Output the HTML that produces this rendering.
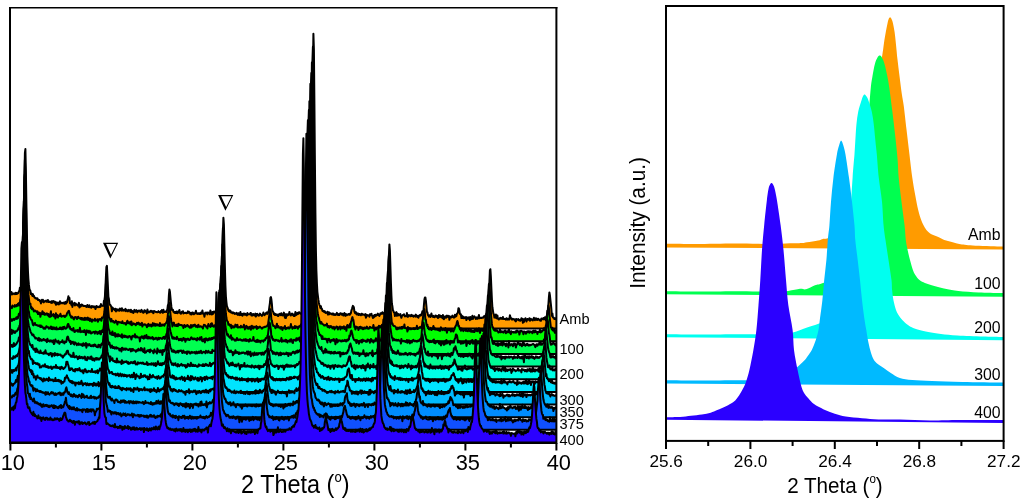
<!DOCTYPE html>
<html><head><meta charset="utf-8"><style>
html,body{margin:0;padding:0;background:#fff;}
body{width:1024px;height:502px;overflow:hidden;}
svg{display:block;will-change:transform;font-family:"Liberation Sans",sans-serif;}
text{fill:#000;}
</style></head><body>
<svg width="1024" height="502" viewBox="0 0 1024 502">
<defs><clipPath id="cl"><rect x="10" y="8" width="546" height="435"/></clipPath><clipPath id="cr"><rect x="666" y="6" width="337" height="434"/></clipPath></defs>
<rect width="1024" height="502" fill="#fff"/>
<g clip-path="url(#cl)" stroke="#000" stroke-width="2.0" stroke-linejoin="round">
<path d="M8.4,328.6 L8.4,293.5 8.9,293.9 9.4,294.3 9.9,294.7 10.4,294.3 10.9,294.7 11.4,291.9 11.9,292.9 12.4,294.2 12.9,294.2 13.4,293.4 13.9,293.4 14.4,293.5 14.9,294.2 15.4,292.9 15.9,292.8 16.4,294.0 16.9,293.1 17.4,293.8 17.9,293.0 18.4,293.0 18.9,291.3 19.4,291.2 19.9,287.7 20.4,288.0 20.9,286.5 21.4,285.3 21.9,277.5 22.4,271.2 22.9,259.8 23.4,238.8 23.9,210.1 24.4,178.3 24.9,152.9 25.4,149.1 25.9,172.8 26.4,204.5 26.9,233.3 27.4,256.4 27.9,270.6 28.4,279.4 28.9,284.7 29.4,288.9 29.9,290.1 30.4,290.8 30.9,294.1 31.4,293.4 31.9,294.7 32.4,295.9 32.9,294.1 33.4,296.1 33.9,295.8 34.4,297.4 34.9,297.4 35.4,298.3 35.9,298.0 36.4,298.8 36.9,298.5 37.4,298.2 37.9,299.9 38.4,299.6 38.9,300.2 39.4,300.0 39.9,301.2 40.4,300.8 40.9,303.4 41.4,301.3 41.9,299.9 42.4,301.7 42.9,299.8 43.4,300.5 43.9,302.4 44.4,301.4 44.9,301.3 45.4,301.0 45.9,300.8 46.4,301.6 46.9,300.6 47.4,301.7 47.9,299.9 48.4,301.9 48.9,301.9 49.4,301.5 49.9,301.9 50.4,302.0 50.9,302.7 51.4,301.3 51.9,303.0 52.4,301.3 52.9,301.7 53.4,301.0 53.9,301.8 54.4,302.6 54.9,301.6 55.4,302.4 55.9,304.8 56.4,303.4 56.9,302.3 57.4,303.1 57.9,304.1 58.4,302.9 58.9,304.4 59.4,302.7 59.9,301.3 60.4,303.5 60.9,303.4 61.4,302.8 61.9,302.7 62.4,303.2 62.9,303.2 63.4,302.6 63.9,302.8 64.4,303.8 64.9,303.2 65.4,301.9 65.9,303.7 66.4,302.5 66.9,302.6 67.4,300.3 67.9,298.9 68.4,296.3 68.9,298.9 69.4,297.9 69.9,303.2 70.4,303.2 70.9,302.9 71.4,305.0 71.9,301.3 72.4,306.9 72.9,303.5 73.4,304.7 73.9,303.7 74.4,302.9 74.9,305.5 75.4,303.6 75.9,303.6 76.4,304.7 76.9,304.9 77.4,304.9 77.9,305.6 78.4,304.2 78.9,302.9 79.4,307.4 79.9,307.1 80.4,304.9 80.9,306.2 81.4,304.5 81.9,305.5 82.4,304.8 82.9,305.5 83.4,306.1 83.9,305.9 84.4,306.1 84.9,305.8 85.4,306.1 85.9,306.1 86.4,306.9 86.9,306.6 87.4,304.9 87.9,306.6 88.4,306.9 88.9,306.0 89.4,305.3 89.9,307.3 90.4,306.5 90.9,306.8 91.4,307.7 91.9,306.0 92.4,306.6 92.9,306.5 93.4,307.1 93.9,306.3 94.4,307.1 94.9,306.8 95.4,309.1 95.9,307.6 96.4,305.9 96.9,307.2 97.4,306.6 97.9,306.9 98.4,307.1 98.9,307.2 99.4,306.4 99.9,307.0 100.4,306.8 100.9,304.1 101.4,305.6 101.9,305.8 102.4,305.7 102.9,305.9 103.4,305.8 103.9,300.8 104.4,300.5 104.9,296.6 105.4,288.2 105.9,277.1 106.4,266.9 106.9,265.8 107.4,276.0 107.9,286.0 108.4,296.6 108.9,299.0 109.4,303.6 109.9,304.8 110.4,305.0 110.9,305.9 111.4,307.1 111.9,311.3 112.4,307.4 112.9,308.9 113.4,308.4 113.9,309.2 114.4,309.8 114.9,310.3 115.4,308.7 115.9,311.4 116.4,309.3 116.9,309.2 117.4,309.9 117.9,310.5 118.4,309.6 118.9,310.2 119.4,310.8 119.9,308.5 120.4,309.8 120.9,309.5 121.4,310.6 121.9,308.2 122.4,310.6 122.9,310.6 123.4,309.9 123.9,310.6 124.4,309.9 124.9,309.9 125.4,308.8 125.9,311.2 126.4,309.6 126.9,310.3 127.4,310.3 127.9,311.4 128.4,310.7 128.9,309.9 129.4,310.5 129.9,310.4 130.4,311.9 130.9,309.8 131.4,310.6 131.9,312.2 132.4,311.1 132.9,312.1 133.4,313.0 133.9,311.1 134.4,309.9 134.9,310.8 135.4,311.7 135.9,311.5 136.4,310.1 136.9,310.8 137.4,312.4 137.9,311.1 138.4,311.0 138.9,310.5 139.4,310.7 139.9,311.0 140.4,311.9 140.9,310.8 141.4,309.9 141.9,310.5 142.4,312.2 142.9,311.4 143.4,312.8 143.9,312.3 144.4,310.2 144.9,310.4 145.4,311.8 145.9,311.0 146.4,311.3 146.9,313.4 147.4,309.6 147.9,311.7 148.4,311.6 148.9,312.4 149.4,311.9 149.9,311.9 150.4,310.9 150.9,311.6 151.4,311.8 151.9,310.8 152.4,312.3 152.9,312.2 153.4,313.2 153.9,310.9 154.4,311.3 154.9,311.4 155.4,311.6 155.9,312.0 156.4,311.9 156.9,312.3 157.4,312.3 157.9,312.1 158.4,311.1 158.9,311.8 159.4,312.2 159.9,312.6 160.4,312.7 160.9,311.1 161.4,311.8 161.9,310.1 162.4,312.4 162.9,312.9 163.4,309.7 163.9,311.3 164.4,312.1 164.9,311.9 165.4,311.7 165.9,311.2 166.4,312.0 166.9,310.3 167.4,309.2 167.9,305.2 168.4,304.5 168.9,295.0 169.4,289.6 169.9,291.6 170.4,297.2 170.9,302.4 171.4,306.7 171.9,309.8 172.4,310.1 172.9,309.7 173.4,311.7 173.9,311.9 174.4,312.7 174.9,311.9 175.4,313.1 175.9,313.1 176.4,311.5 176.9,313.1 177.4,313.2 177.9,311.5 178.4,312.4 178.9,312.3 179.4,309.9 179.9,312.9 180.4,313.2 180.9,313.7 181.4,312.8 181.9,311.8 182.4,312.2 182.9,311.2 183.4,313.5 183.9,313.2 184.4,312.7 184.9,313.1 185.4,312.8 185.9,312.7 186.4,313.2 186.9,313.0 187.4,312.9 187.9,311.4 188.4,312.7 188.9,311.7 189.4,312.6 189.9,313.0 190.4,314.3 190.9,312.8 191.4,314.5 191.9,314.1 192.4,312.5 192.9,312.6 193.4,313.2 193.9,314.3 194.4,313.4 194.9,313.6 195.4,312.7 195.9,310.7 196.4,313.0 196.9,313.7 197.4,314.0 197.9,313.3 198.4,313.3 198.9,314.0 199.4,313.2 199.9,314.0 200.4,313.9 200.9,312.5 201.4,312.5 201.9,313.6 202.4,310.4 202.9,313.3 203.4,313.5 203.9,313.5 204.4,316.7 204.9,314.2 205.4,312.6 205.9,313.3 206.4,313.0 206.9,312.5 207.4,314.4 207.9,312.4 208.4,313.0 208.9,312.8 209.4,313.3 209.9,314.3 210.4,310.5 210.9,313.8 211.4,313.6 211.9,314.5 212.4,312.0 212.9,314.1 213.4,311.7 213.9,312.1 214.4,311.5 214.9,312.6 215.4,312.3 215.9,312.7 216.4,309.9 216.9,311.5 217.4,308.4 217.9,311.0 218.4,309.3 218.9,310.3 219.4,308.3 219.9,305.7 220.4,304.4 220.9,297.8 221.4,289.5 221.9,275.4 222.4,255.2 222.9,232.3 223.4,217.8 223.9,224.5 224.4,245.8 224.9,267.7 225.4,285.3 225.9,296.5 226.4,302.0 226.9,306.1 227.4,307.4 227.9,308.9 228.4,310.3 228.9,311.2 229.4,310.4 229.9,311.8 230.4,310.7 230.9,312.6 231.4,312.0 231.9,312.7 232.4,313.2 232.9,312.4 233.4,313.1 233.9,312.7 234.4,313.2 234.9,314.0 235.4,313.4 235.9,313.4 236.4,312.8 236.9,314.2 237.4,313.6 237.9,314.9 238.4,313.3 238.9,314.5 239.4,315.1 239.9,313.9 240.4,311.9 240.9,315.0 241.4,314.7 241.9,314.1 242.4,315.8 242.9,313.8 243.4,314.6 243.9,313.5 244.4,313.7 244.9,314.7 245.4,313.9 245.9,314.9 246.4,315.1 246.9,315.5 247.4,313.0 247.9,314.5 248.4,314.1 248.9,314.3 249.4,314.2 249.9,314.3 250.4,313.0 250.9,313.1 251.4,315.5 251.9,315.1 252.4,315.4 252.9,313.9 253.4,313.9 253.9,315.2 254.4,315.5 254.9,314.8 255.4,313.6 255.9,316.5 256.4,314.2 256.9,315.3 257.4,313.9 257.9,315.3 258.4,314.8 258.9,315.7 259.4,315.3 259.9,313.6 260.4,314.0 260.9,314.9 261.4,315.2 261.9,315.9 262.4,314.8 262.9,314.5 263.4,312.5 263.9,314.5 264.4,315.2 264.9,314.4 265.4,314.2 265.9,313.2 266.4,312.6 266.9,312.4 267.4,313.9 267.9,312.8 268.4,312.1 268.9,310.3 269.4,306.7 269.9,303.1 270.4,297.8 270.9,297.0 271.4,299.5 271.9,304.2 272.4,310.8 272.9,311.3 273.4,312.4 273.9,314.2 274.4,313.4 274.9,314.9 275.4,315.0 275.9,314.1 276.4,315.2 276.9,314.8 277.4,314.6 277.9,315.9 278.4,316.0 278.9,314.4 279.4,314.7 279.9,313.7 280.4,314.9 280.9,315.3 281.4,313.2 281.9,315.0 282.4,314.6 282.9,315.5 283.4,314.5 283.9,312.6 284.4,314.8 284.9,317.7 285.4,314.3 285.9,318.0 286.4,314.3 286.9,315.9 287.4,314.4 287.9,314.3 288.4,315.0 288.9,314.7 289.4,312.0 289.9,314.2 290.4,314.4 290.9,315.5 291.4,314.1 291.9,313.6 292.4,313.7 292.9,315.1 293.4,315.4 293.9,316.0 294.4,314.3 294.9,315.9 295.4,312.0 295.9,315.1 296.4,314.9 296.9,314.3 297.4,312.9 297.9,314.0 298.4,313.4 298.9,312.3 299.4,312.2 299.9,313.3 300.4,313.2 300.9,313.8 301.4,313.2 301.9,312.7 302.4,313.8 302.9,311.9 303.4,310.9 303.9,314.0 304.4,312.8 304.9,311.9 305.4,309.3 305.9,308.2 306.4,307.8 306.9,307.2 307.4,308.1 307.9,304.7 308.4,302.9 308.9,298.5 309.4,294.7 309.9,288.0 310.4,278.6 310.9,260.1 311.4,229.8 311.9,185.8 312.4,129.5 312.9,69.0 313.4,33.8 313.9,49.5 314.4,103.1 314.9,162.9 315.4,212.5 315.9,250.4 316.4,271.1 316.9,283.3 317.4,292.0 317.9,296.2 318.4,299.9 318.9,302.9 319.4,304.8 319.9,305.9 320.4,308.1 320.9,306.2 321.4,308.8 321.9,308.7 322.4,310.8 322.9,311.1 323.4,311.4 323.9,310.9 324.4,312.2 324.9,311.4 325.4,312.4 325.9,313.0 326.4,312.6 326.9,312.7 327.4,311.7 327.9,314.6 328.4,314.3 328.9,312.2 329.4,314.3 329.9,313.3 330.4,313.3 330.9,313.7 331.4,313.8 331.9,314.5 332.4,313.5 332.9,314.5 333.4,313.6 333.9,315.0 334.4,315.0 334.9,314.3 335.4,315.0 335.9,314.1 336.4,314.4 336.9,312.9 337.4,314.6 337.9,314.9 338.4,314.0 338.9,315.1 339.4,315.0 339.9,313.9 340.4,313.2 340.9,313.4 341.4,313.8 341.9,314.6 342.4,313.7 342.9,314.9 343.4,315.5 343.9,314.7 344.4,312.9 344.9,315.4 345.4,315.9 345.9,314.1 346.4,314.3 346.9,315.2 347.4,314.8 347.9,314.5 348.4,314.1 348.9,314.7 349.4,313.9 349.9,314.6 350.4,313.7 350.9,313.2 351.4,310.3 351.9,309.1 352.4,307.4 352.9,305.9 353.4,306.4 353.9,307.7 354.4,311.5 354.9,312.8 355.4,313.4 355.9,312.1 356.4,313.6 356.9,314.5 357.4,314.1 357.9,313.3 358.4,315.0 358.9,315.1 359.4,314.0 359.9,314.6 360.4,314.5 360.9,315.3 361.4,313.7 361.9,313.8 362.4,314.7 362.9,314.6 363.4,314.4 363.9,314.6 364.4,315.2 364.9,314.8 365.4,314.0 365.9,317.7 366.4,316.3 366.9,314.9 367.4,315.6 367.9,315.3 368.4,315.5 368.9,315.4 369.4,316.7 369.9,314.3 370.4,314.9 370.9,314.3 371.4,313.7 371.9,315.1 372.4,316.3 372.9,318.1 373.4,315.9 373.9,317.4 374.4,315.0 374.9,316.4 375.4,314.8 375.9,316.0 376.4,314.7 376.9,315.0 377.4,315.1 377.9,313.6 378.4,315.2 378.9,315.2 379.4,315.9 379.9,314.6 380.4,313.3 380.9,314.0 381.4,313.4 381.9,313.7 382.4,312.2 382.9,312.8 383.4,313.6 383.9,313.3 384.4,313.0 384.9,312.2 385.4,311.8 385.9,310.5 386.4,309.3 386.9,307.0 387.4,295.6 387.9,288.8 388.4,273.7 388.9,255.6 389.4,244.4 389.9,250.6 390.4,266.2 390.9,282.2 391.4,295.1 391.9,304.0 392.4,306.3 392.9,310.2 393.4,311.1 393.9,312.4 394.4,312.6 394.9,316.0 395.4,314.0 395.9,314.2 396.4,312.1 396.9,315.8 397.4,313.4 397.9,315.6 398.4,314.1 398.9,314.9 399.4,315.2 399.9,314.5 400.4,314.1 400.9,316.4 401.4,317.8 401.9,316.1 402.4,315.6 402.9,314.9 403.4,315.0 403.9,314.2 404.4,315.4 404.9,316.4 405.4,315.9 405.9,316.1 406.4,316.3 406.9,313.1 407.4,315.9 407.9,316.9 408.4,315.1 408.9,315.6 409.4,315.3 409.9,315.5 410.4,316.3 410.9,315.6 411.4,314.8 411.9,316.0 412.4,315.4 412.9,315.4 413.4,316.7 413.9,315.8 414.4,315.9 414.9,315.6 415.4,316.7 415.9,314.6 416.4,315.6 416.9,316.5 417.4,316.9 417.9,315.8 418.4,317.8 418.9,316.0 419.4,315.4 419.9,315.8 420.4,314.8 420.9,315.5 421.4,314.7 421.9,313.4 422.4,311.3 422.9,312.1 423.4,311.7 423.9,305.2 424.4,299.5 424.9,297.5 425.4,297.5 425.9,300.9 426.4,306.2 426.9,311.9 427.4,312.3 427.9,315.0 428.4,315.5 428.9,316.6 429.4,315.2 429.9,315.7 430.4,317.0 430.9,316.2 431.4,313.5 431.9,315.7 432.4,316.3 432.9,316.9 433.4,315.9 433.9,316.8 434.4,317.2 434.9,317.0 435.4,315.5 435.9,316.4 436.4,315.8 436.9,316.9 437.4,316.0 437.9,318.0 438.4,316.8 438.9,315.0 439.4,316.2 439.9,317.1 440.4,315.6 440.9,316.6 441.4,316.0 441.9,317.2 442.4,318.1 442.9,314.9 443.4,316.9 443.9,319.2 444.4,316.7 444.9,316.8 445.4,316.4 445.9,317.8 446.4,316.4 446.9,315.6 447.4,316.0 447.9,316.9 448.4,317.0 448.9,315.8 449.4,319.8 449.9,317.2 450.4,316.8 450.9,316.6 451.4,317.4 451.9,316.8 452.4,315.6 452.9,316.9 453.4,317.0 453.9,317.7 454.4,316.7 454.9,314.8 455.4,316.8 455.9,315.6 456.4,315.9 456.9,313.7 457.4,313.3 457.9,312.5 458.4,308.3 458.9,308.5 459.4,310.5 459.9,313.8 460.4,314.5 460.9,314.3 461.4,318.0 461.9,315.8 462.4,318.0 462.9,316.5 463.4,317.3 463.9,318.3 464.4,317.3 464.9,318.0 465.4,317.4 465.9,317.1 466.4,320.1 466.9,317.3 467.4,318.1 467.9,318.6 468.4,318.8 468.9,317.3 469.4,317.7 469.9,320.2 470.4,317.1 470.9,318.2 471.4,319.1 471.9,318.0 472.4,315.7 472.9,318.9 473.4,317.1 473.9,317.3 474.4,316.4 474.9,317.1 475.4,318.0 475.9,318.9 476.4,318.2 476.9,317.3 477.4,318.7 477.9,318.2 478.4,317.6 478.9,315.0 479.4,318.3 479.9,317.6 480.4,317.8 480.9,318.1 481.4,318.1 481.9,317.6 482.4,317.5 482.9,317.8 483.4,317.6 483.9,316.4 484.4,316.8 484.9,316.0 485.4,315.4 485.9,315.3 486.4,313.4 486.9,314.3 487.4,310.9 487.9,307.8 488.4,299.9 488.9,290.6 489.4,281.7 489.9,270.4 490.4,269.2 490.9,277.3 491.4,288.9 491.9,299.5 492.4,307.2 492.9,310.5 493.4,313.6 493.9,314.3 494.4,317.5 494.9,316.1 495.4,317.7 495.9,314.4 496.4,317.7 496.9,318.4 497.4,315.4 497.9,318.8 498.4,318.9 498.9,319.5 499.4,318.5 499.9,318.2 500.4,317.9 500.9,318.8 501.4,318.0 501.9,318.7 502.4,318.9 502.9,317.0 503.4,318.1 503.9,319.1 504.4,319.1 504.9,319.1 505.4,318.9 505.9,319.6 506.4,318.3 506.9,319.3 507.4,318.7 507.9,319.6 508.4,318.8 508.9,318.8 509.4,319.4 509.9,315.3 510.4,316.9 510.9,317.9 511.4,318.5 511.9,319.6 512.4,319.5 512.9,318.9 513.4,319.2 513.9,319.2 514.4,319.4 514.9,320.5 515.4,319.4 515.9,321.4 516.4,319.0 516.9,319.8 517.4,319.8 517.9,319.4 518.4,319.1 518.9,320.3 519.4,320.5 519.9,320.1 520.4,320.8 520.9,320.0 521.4,318.2 521.9,320.1 522.4,318.9 522.9,322.8 523.4,319.2 523.9,322.1 524.4,319.4 524.9,319.0 525.4,318.2 525.9,319.3 526.4,321.6 526.9,320.1 527.4,319.0 527.9,319.6 528.4,319.7 528.9,319.5 529.4,318.2 529.9,320.8 530.4,319.6 530.9,318.8 531.4,319.7 531.9,320.0 532.4,319.6 532.9,320.4 533.4,319.4 533.9,317.7 534.4,319.5 534.9,320.2 535.4,319.5 535.9,318.2 536.4,318.7 536.9,320.0 537.4,319.9 537.9,318.8 538.4,318.8 538.9,319.6 539.4,320.1 539.9,320.4 540.4,319.7 540.9,320.8 541.4,318.6 541.9,319.5 542.4,318.7 542.9,318.9 543.4,318.0 543.9,319.4 544.4,317.8 544.9,317.4 545.4,318.3 545.9,320.4 546.4,316.3 546.9,315.6 547.4,310.7 547.9,311.5 548.4,304.4 548.9,297.2 549.4,292.4 549.9,295.1 550.4,299.9 550.9,304.4 551.4,309.5 551.9,315.8 552.4,313.4 552.9,317.4 553.4,317.5 553.9,317.9 554.4,319.0 554.9,319.1 555.4,318.2 555.9,318.7 556.4,319.5 556.9,318.2 557.4,317.6 557.9,320.3 558.4,319.1 L558.4,328.6 Z" fill="#FF9B00"/>
<path d="M8.4,341.2 L8.4,306.1 8.9,305.9 9.4,307.9 9.9,307.5 10.4,306.4 10.9,307.8 11.4,307.4 11.9,308.1 12.4,305.5 12.9,306.0 13.4,306.3 13.9,306.4 14.4,306.8 14.9,305.1 15.4,305.8 15.9,306.5 16.4,305.0 16.9,305.9 17.4,305.8 17.9,303.8 18.4,305.4 18.9,303.1 19.4,305.5 19.9,303.0 20.4,299.5 20.9,298.5 21.4,295.9 21.9,289.0 22.4,279.1 22.9,261.2 23.4,237.3 23.9,209.0 24.4,179.4 24.9,159.9 25.4,172.3 25.9,200.8 26.4,232.7 26.9,259.2 27.4,275.4 27.9,288.0 28.4,294.2 28.9,298.4 29.4,302.8 29.9,304.4 30.4,303.6 30.9,308.0 31.4,306.9 31.9,309.3 32.4,308.1 32.9,308.6 33.4,309.8 33.9,311.6 34.4,310.5 34.9,310.6 35.4,310.8 35.9,311.5 36.4,311.3 36.9,312.3 37.4,311.3 37.9,314.1 38.4,313.5 38.9,312.6 39.4,314.2 39.9,312.9 40.4,316.8 40.9,313.5 41.4,314.3 41.9,314.1 42.4,311.2 42.9,314.0 43.4,314.3 43.9,312.6 44.4,314.2 44.9,314.9 45.4,313.7 45.9,313.8 46.4,313.6 46.9,313.3 47.4,315.2 47.9,313.9 48.4,313.9 48.9,316.6 49.4,314.7 49.9,317.0 50.4,314.5 50.9,311.3 51.4,316.3 51.9,315.5 52.4,315.0 52.9,314.8 53.4,314.1 53.9,316.6 54.4,315.3 54.9,314.8 55.4,318.6 55.9,313.2 56.4,316.9 56.9,314.7 57.4,315.3 57.9,317.6 58.4,315.9 58.9,315.5 59.4,316.1 59.9,315.9 60.4,313.8 60.9,316.1 61.4,316.7 61.9,315.9 62.4,316.3 62.9,316.3 63.4,316.2 63.9,315.6 64.4,316.0 64.9,317.0 65.4,316.1 65.9,315.5 66.4,315.7 66.9,313.7 67.4,312.6 67.9,312.5 68.4,311.1 68.9,310.8 69.4,312.6 69.9,315.0 70.4,315.3 70.9,316.9 71.4,317.7 71.9,316.5 72.4,316.8 72.9,317.5 73.4,318.7 73.9,319.4 74.4,317.8 74.9,317.2 75.4,317.0 75.9,317.7 76.4,317.2 76.9,319.0 77.4,318.4 77.9,316.9 78.4,316.8 78.9,317.9 79.4,318.2 79.9,318.4 80.4,318.9 80.9,317.8 81.4,319.5 81.9,318.1 82.4,318.2 82.9,319.8 83.4,319.5 83.9,318.4 84.4,319.9 84.9,317.8 85.4,318.8 85.9,319.8 86.4,318.1 86.9,318.3 87.4,319.6 87.9,317.6 88.4,319.9 88.9,319.1 89.4,318.5 89.9,321.0 90.4,318.7 90.9,319.5 91.4,319.5 91.9,321.7 92.4,319.4 92.9,320.4 93.4,320.3 93.9,320.0 94.4,320.6 94.9,318.7 95.4,320.7 95.9,320.3 96.4,320.1 96.9,319.8 97.4,319.3 97.9,321.8 98.4,320.1 98.9,319.2 99.4,319.7 99.9,319.1 100.4,319.1 100.9,319.8 101.4,320.7 101.9,317.5 102.4,318.0 102.9,317.8 103.4,316.7 103.9,315.4 104.4,312.0 104.9,304.9 105.4,294.8 105.9,284.0 106.4,279.4 106.9,285.0 107.4,295.1 107.9,306.3 108.4,312.3 108.9,317.4 109.4,318.0 109.9,319.0 110.4,320.5 110.9,321.4 111.4,318.9 111.9,321.4 112.4,320.7 112.9,321.6 113.4,321.0 113.9,321.9 114.4,322.8 114.9,321.9 115.4,322.2 115.9,320.6 116.4,322.5 116.9,322.6 117.4,324.5 117.9,321.7 118.4,322.0 118.9,321.9 119.4,322.4 119.9,322.3 120.4,322.2 120.9,322.6 121.4,322.9 121.9,322.9 122.4,321.3 122.9,323.1 123.4,323.3 123.9,323.4 124.4,323.2 124.9,323.0 125.4,324.0 125.9,324.7 126.4,323.1 126.9,321.9 127.4,320.7 127.9,323.3 128.4,322.7 128.9,322.3 129.4,323.3 129.9,322.2 130.4,324.4 130.9,321.7 131.4,321.5 131.9,325.2 132.4,323.7 132.9,323.8 133.4,323.4 133.9,324.1 134.4,323.8 134.9,324.2 135.4,324.3 135.9,325.2 136.4,323.9 136.9,322.9 137.4,323.9 137.9,323.8 138.4,322.6 138.9,323.2 139.4,324.7 139.9,323.7 140.4,324.2 140.9,325.0 141.4,323.6 141.9,322.9 142.4,326.5 142.9,324.8 143.4,324.5 143.9,324.7 144.4,324.2 144.9,324.8 145.4,324.5 145.9,325.1 146.4,325.7 146.9,327.3 147.4,325.0 147.9,324.7 148.4,323.9 148.9,326.0 149.4,324.7 149.9,325.1 150.4,325.6 150.9,324.6 151.4,326.5 151.9,326.2 152.4,324.9 152.9,323.1 153.4,325.1 153.9,325.6 154.4,323.6 154.9,325.2 155.4,325.7 155.9,324.0 156.4,324.7 156.9,325.4 157.4,324.4 157.9,325.1 158.4,324.8 158.9,325.1 159.4,326.0 159.9,323.1 160.4,325.1 160.9,325.9 161.4,325.7 161.9,324.5 162.4,325.4 162.9,325.0 163.4,324.5 163.9,324.8 164.4,325.8 164.9,324.1 165.4,323.7 165.9,323.3 166.4,322.1 166.9,321.6 167.4,318.8 167.9,314.0 168.4,311.1 168.9,303.0 169.4,302.7 169.9,308.3 170.4,313.4 170.9,318.5 171.4,322.4 171.9,322.4 172.4,326.5 172.9,324.2 173.4,324.7 173.9,322.6 174.4,324.8 174.9,325.8 175.4,325.0 175.9,325.5 176.4,326.0 176.9,324.6 177.4,325.9 177.9,326.1 178.4,323.8 178.9,325.0 179.4,324.5 179.9,325.0 180.4,325.1 180.9,325.1 181.4,324.9 181.9,325.6 182.4,325.4 182.9,325.7 183.4,328.1 183.9,326.3 184.4,325.0 184.9,326.2 185.4,326.9 185.9,325.7 186.4,326.1 186.9,325.4 187.4,325.0 187.9,325.6 188.4,326.5 188.9,326.2 189.4,327.3 189.9,327.7 190.4,327.5 190.9,325.1 191.4,327.5 191.9,325.9 192.4,325.2 192.9,326.5 193.4,325.1 193.9,324.9 194.4,325.6 194.9,324.6 195.4,325.8 195.9,326.8 196.4,325.9 196.9,326.6 197.4,327.2 197.9,325.3 198.4,324.7 198.9,326.7 199.4,326.3 199.9,326.8 200.4,326.2 200.9,326.5 201.4,326.6 201.9,327.1 202.4,327.3 202.9,328.5 203.4,326.1 203.9,324.8 204.4,325.5 204.9,325.0 205.4,325.9 205.9,326.3 206.4,327.1 206.9,326.2 207.4,328.5 207.9,325.8 208.4,323.9 208.9,325.9 209.4,326.2 209.9,326.3 210.4,327.0 210.9,323.8 211.4,326.2 211.9,323.3 212.4,324.4 212.9,326.2 213.4,325.8 213.9,326.8 214.4,325.5 214.9,326.0 215.4,324.8 215.9,324.4 216.4,324.1 216.9,324.8 217.4,323.5 217.9,323.1 218.4,321.3 218.9,321.5 219.4,319.3 219.9,316.5 220.4,314.3 220.9,304.5 221.4,289.5 221.9,266.8 222.4,244.3 222.9,228.3 223.4,233.7 223.9,257.7 224.4,279.4 224.9,298.1 225.4,307.1 225.9,314.0 226.4,317.8 226.9,320.4 227.4,321.4 227.9,321.8 228.4,324.8 228.9,324.0 229.4,324.6 229.9,324.9 230.4,326.4 230.9,324.8 231.4,328.2 231.9,325.8 232.4,326.2 232.9,327.1 233.4,326.4 233.9,327.5 234.4,326.9 234.9,326.6 235.4,324.6 235.9,326.5 236.4,326.7 236.9,325.1 237.4,324.8 237.9,327.6 238.4,327.2 238.9,327.3 239.4,327.0 239.9,327.3 240.4,327.5 240.9,325.8 241.4,327.0 241.9,327.3 242.4,327.2 242.9,327.3 243.4,326.2 243.9,324.7 244.4,326.4 244.9,329.4 245.4,327.0 245.9,326.5 246.4,325.9 246.9,327.3 247.4,328.5 247.9,326.9 248.4,327.8 248.9,328.6 249.4,327.8 249.9,326.7 250.4,326.6 250.9,329.7 251.4,328.2 251.9,325.7 252.4,328.3 252.9,327.6 253.4,328.5 253.9,326.6 254.4,327.2 254.9,326.9 255.4,327.5 255.9,327.6 256.4,326.1 256.9,328.9 257.4,326.9 257.9,327.0 258.4,327.9 258.9,327.6 259.4,327.4 259.9,326.5 260.4,327.3 260.9,327.6 261.4,327.9 261.9,328.6 262.4,327.9 262.9,327.4 263.4,327.6 263.9,327.3 264.4,326.8 264.9,326.9 265.4,326.9 265.9,326.4 266.4,326.5 266.9,326.3 267.4,325.3 267.9,325.7 268.4,321.6 268.9,318.2 269.4,314.3 269.9,310.9 270.4,309.3 270.9,313.1 271.4,319.7 271.9,320.5 272.4,323.6 272.9,325.1 273.4,326.0 273.9,325.8 274.4,326.2 274.9,326.8 275.4,328.2 275.9,327.5 276.4,326.2 276.9,323.7 277.4,327.2 277.9,327.2 278.4,326.1 278.9,327.6 279.4,327.6 279.9,327.5 280.4,328.6 280.9,326.9 281.4,327.3 281.9,327.8 282.4,330.1 282.9,327.5 283.4,328.0 283.9,328.1 284.4,328.3 284.9,325.9 285.4,328.7 285.9,329.1 286.4,327.9 286.9,328.0 287.4,327.7 287.9,328.4 288.4,327.3 288.9,327.6 289.4,328.4 289.9,327.8 290.4,327.0 290.9,324.1 291.4,326.7 291.9,326.8 292.4,328.7 292.9,327.9 293.4,327.4 293.9,327.0 294.4,328.2 294.9,326.0 295.4,328.1 295.9,327.3 296.4,326.6 296.9,326.9 297.4,327.1 297.9,328.8 298.4,326.6 298.9,327.2 299.4,326.5 299.9,325.9 300.4,326.4 300.9,324.5 301.4,325.9 301.9,323.7 302.4,324.0 302.9,324.9 303.4,323.7 303.9,322.5 304.4,322.8 304.9,325.3 305.4,321.1 305.9,318.7 306.4,319.9 306.9,317.0 307.4,316.5 307.9,312.9 308.4,309.5 308.9,304.3 309.4,295.3 309.9,281.7 310.4,260.1 310.9,222.9 311.4,175.1 311.9,113.9 312.4,61.9 312.9,46.7 313.4,82.2 313.9,140.6 314.4,197.9 314.9,239.8 315.4,269.0 315.9,288.3 316.4,300.4 316.9,305.8 317.4,310.6 317.9,313.9 318.4,316.7 318.9,317.8 319.4,320.5 319.9,321.6 320.4,323.6 320.9,322.9 321.4,322.0 321.9,323.7 322.4,323.8 322.9,324.3 323.4,324.4 323.9,325.2 324.4,325.6 324.9,325.6 325.4,325.0 325.9,325.1 326.4,325.2 326.9,323.6 327.4,326.5 327.9,327.1 328.4,326.1 328.9,326.1 329.4,327.8 329.9,326.3 330.4,326.0 330.9,326.9 331.4,326.3 331.9,326.9 332.4,328.4 332.9,327.6 333.4,327.6 333.9,326.9 334.4,329.4 334.9,327.7 335.4,328.1 335.9,327.5 336.4,326.5 336.9,326.8 337.4,327.0 337.9,329.5 338.4,327.4 338.9,327.5 339.4,327.5 339.9,326.5 340.4,329.4 340.9,327.8 341.4,327.4 341.9,326.9 342.4,328.4 342.9,327.4 343.4,327.0 343.9,326.3 344.4,329.0 344.9,327.4 345.4,328.4 345.9,327.1 346.4,330.8 346.9,326.2 347.4,325.0 347.9,325.3 348.4,327.5 348.9,327.6 349.4,326.1 349.9,323.9 350.4,327.3 350.9,321.9 351.4,321.0 351.9,318.5 352.4,317.1 352.9,318.8 353.4,320.2 353.9,323.6 354.4,327.0 354.9,327.5 355.4,329.6 355.9,326.5 356.4,327.7 356.9,327.6 357.4,327.1 357.9,327.6 358.4,330.0 358.9,328.0 359.4,327.0 359.9,328.4 360.4,326.7 360.9,328.1 361.4,328.4 361.9,327.4 362.4,327.6 362.9,329.3 363.4,327.8 363.9,328.9 364.4,327.9 364.9,327.4 365.4,328.5 365.9,327.7 366.4,328.2 366.9,326.6 367.4,328.0 367.9,328.8 368.4,328.7 368.9,328.6 369.4,327.8 369.9,326.8 370.4,327.2 370.9,327.8 371.4,327.8 371.9,327.7 372.4,328.0 372.9,327.7 373.4,325.0 373.9,327.3 374.4,330.6 374.9,329.0 375.4,329.3 375.9,327.5 376.4,329.4 376.9,328.0 377.4,327.3 377.9,328.0 378.4,328.3 378.9,325.7 379.4,326.4 379.9,327.5 380.4,326.2 380.9,326.1 381.4,327.7 381.9,324.8 382.4,327.1 382.9,326.8 383.4,326.5 383.9,323.8 384.4,325.4 384.9,321.0 385.4,320.6 385.9,319.3 386.4,317.2 386.9,304.7 387.4,294.2 387.9,275.9 388.4,261.3 388.9,255.7 389.4,270.8 389.9,288.1 390.4,302.7 390.9,313.0 391.4,318.6 391.9,323.8 392.4,323.2 392.9,325.1 393.4,325.5 393.9,326.1 394.4,326.1 394.9,326.2 395.4,326.6 395.9,327.3 396.4,329.3 396.9,328.1 397.4,329.3 397.9,327.4 398.4,328.7 398.9,328.2 399.4,328.5 399.9,327.3 400.4,328.6 400.9,328.5 401.4,327.0 401.9,328.8 402.4,326.8 402.9,327.7 403.4,327.8 403.9,327.6 404.4,324.5 404.9,328.0 405.4,328.0 405.9,328.3 406.4,328.2 406.9,328.5 407.4,331.6 407.9,326.9 408.4,329.7 408.9,328.2 409.4,328.1 409.9,328.3 410.4,329.1 410.9,328.6 411.4,328.8 411.9,329.2 412.4,328.5 412.9,328.8 413.4,328.9 413.9,328.0 414.4,329.2 414.9,328.2 415.4,328.9 415.9,328.2 416.4,328.4 416.9,325.8 417.4,329.0 417.9,328.8 418.4,328.8 418.9,328.0 419.4,327.4 419.9,327.0 420.4,327.8 420.9,326.9 421.4,327.9 421.9,326.1 422.4,321.7 422.9,318.8 423.4,312.6 423.9,311.2 424.4,309.1 424.9,313.2 425.4,319.6 425.9,319.6 426.4,324.0 426.9,326.1 427.4,324.7 427.9,328.1 428.4,326.9 428.9,329.3 429.4,329.4 429.9,328.7 430.4,329.3 430.9,327.9 431.4,330.0 431.9,329.5 432.4,328.9 432.9,327.8 433.4,326.0 433.9,329.0 434.4,327.7 434.9,329.6 435.4,329.2 435.9,328.8 436.4,329.6 436.9,329.6 437.4,329.8 437.9,329.9 438.4,330.3 438.9,329.9 439.4,330.6 439.9,329.3 440.4,330.7 440.9,327.3 441.4,328.5 441.9,328.9 442.4,329.8 442.9,330.1 443.4,328.9 443.9,329.6 444.4,329.4 444.9,330.3 445.4,328.1 445.9,330.3 446.4,329.7 446.9,332.7 447.4,330.3 447.9,329.5 448.4,330.1 448.9,330.1 449.4,329.3 449.9,329.9 450.4,330.4 450.9,331.5 451.4,329.4 451.9,329.4 452.4,330.7 452.9,330.5 453.4,331.5 453.9,330.0 454.4,329.3 454.9,327.8 455.4,326.4 455.9,325.5 456.4,324.7 456.9,322.2 457.4,321.0 457.9,322.5 458.4,326.0 458.9,325.7 459.4,327.5 459.9,329.2 460.4,328.2 460.9,330.7 461.4,328.4 461.9,330.3 462.4,328.9 462.9,330.1 463.4,331.1 463.9,330.2 464.4,330.1 464.9,329.9 465.4,329.6 465.9,331.0 466.4,330.1 466.9,329.9 467.4,330.7 467.9,331.2 468.4,330.0 468.9,330.0 469.4,330.0 469.9,331.2 470.4,331.5 470.9,329.7 471.4,331.7 471.9,330.5 472.4,331.2 472.9,331.9 473.4,330.6 473.9,330.8 474.4,332.0 474.9,329.1 475.4,330.8 475.9,329.9 476.4,328.7 476.9,331.0 477.4,331.2 477.9,329.5 478.4,330.8 478.9,328.2 479.4,330.7 479.9,332.9 480.4,330.8 480.9,329.8 481.4,329.3 481.9,330.4 482.4,330.9 482.9,328.9 483.4,330.6 483.9,329.7 484.4,329.5 484.9,326.6 485.4,327.2 485.9,326.8 486.4,323.2 486.9,321.4 487.4,311.9 487.9,302.8 488.4,292.0 488.9,284.2 489.4,283.6 489.9,290.3 490.4,302.4 490.9,312.6 491.4,318.9 491.9,323.9 492.4,327.4 492.9,327.0 493.4,328.9 493.9,329.8 494.4,330.5 494.9,329.7 495.4,330.7 495.9,330.0 496.4,330.8 496.9,330.0 497.4,331.2 497.9,331.5 498.4,332.5 498.9,332.0 499.4,330.8 499.9,329.2 500.4,332.3 500.9,332.2 501.4,331.2 501.9,331.2 502.4,332.0 502.9,331.5 503.4,332.7 503.9,331.8 504.4,331.0 504.9,330.5 505.4,330.6 505.9,333.3 506.4,331.4 506.9,332.4 507.4,331.4 507.9,332.3 508.4,331.5 508.9,329.2 509.4,332.3 509.9,332.8 510.4,331.5 510.9,334.2 511.4,331.2 511.9,331.8 512.4,332.3 512.9,332.2 513.4,331.9 513.9,332.6 514.4,332.3 514.9,332.3 515.4,331.2 515.9,332.8 516.4,332.0 516.9,330.5 517.4,330.9 517.9,331.8 518.4,332.2 518.9,331.4 519.4,334.6 519.9,332.3 520.4,330.9 520.9,331.5 521.4,330.8 521.9,331.2 522.4,331.5 522.9,331.9 523.4,334.3 523.9,331.6 524.4,332.0 524.9,331.6 525.4,332.1 525.9,333.7 526.4,332.8 526.9,331.6 527.4,331.2 527.9,332.3 528.4,331.8 528.9,331.1 529.4,332.7 529.9,332.3 530.4,331.6 530.9,331.3 531.4,331.9 531.9,332.4 532.4,333.2 532.9,331.1 533.4,331.4 533.9,330.5 534.4,332.4 534.9,331.6 535.4,330.6 535.9,332.0 536.4,331.6 536.9,331.7 537.4,334.1 537.9,331.8 538.4,332.0 538.9,332.1 539.4,331.7 539.9,329.8 540.4,332.4 540.9,332.2 541.4,331.3 541.9,331.6 542.4,330.4 542.9,330.3 543.4,330.2 543.9,328.3 544.4,330.3 544.9,329.3 545.4,327.9 545.9,325.4 546.4,324.4 546.9,319.0 547.4,314.2 547.9,309.0 548.4,305.5 548.9,307.9 549.4,314.4 549.9,319.3 550.4,323.3 550.9,327.5 551.4,327.8 551.9,329.6 552.4,327.8 552.9,330.5 553.4,329.8 553.9,329.3 554.4,331.7 554.9,332.8 555.4,330.3 555.9,332.1 556.4,332.8 556.9,331.1 557.4,331.8 557.9,331.7 558.4,330.3 L558.4,341.2 Z" fill="#00FF00"/>
<path d="M8.4,353.9 L8.4,318.7 8.9,321.0 9.4,317.4 9.9,320.4 10.4,318.8 10.9,319.3 11.4,319.5 11.9,320.9 12.4,319.4 12.9,320.0 13.4,319.3 13.9,318.8 14.4,319.9 14.9,318.9 15.4,318.4 15.9,318.7 16.4,317.4 16.9,318.9 17.4,316.9 17.9,318.2 18.4,315.9 18.9,313.7 19.4,315.5 19.9,313.2 20.4,312.2 20.9,310.6 21.4,302.7 21.9,294.9 22.4,283.9 22.9,263.6 23.4,237.7 23.9,204.5 24.4,177.4 24.9,174.0 25.4,197.2 25.9,229.2 26.4,256.4 26.9,279.9 27.4,294.9 27.9,303.6 28.4,310.4 28.9,311.7 29.4,316.4 29.9,317.0 30.4,318.0 30.9,319.1 31.4,320.1 31.9,320.1 32.4,322.5 32.9,324.9 33.4,325.4 33.9,323.5 34.4,324.0 34.9,323.0 35.4,324.7 35.9,324.9 36.4,325.0 36.9,325.2 37.4,325.2 37.9,325.7 38.4,325.5 38.9,325.9 39.4,325.9 39.9,325.4 40.4,327.1 40.9,325.5 41.4,327.0 41.9,326.3 42.4,326.8 42.9,327.2 43.4,328.4 43.9,328.8 44.4,327.7 44.9,327.8 45.4,328.7 45.9,327.4 46.4,326.2 46.9,326.9 47.4,327.1 47.9,327.5 48.4,327.2 48.9,328.7 49.4,327.8 49.9,327.8 50.4,328.3 50.9,326.5 51.4,329.1 51.9,327.5 52.4,327.3 52.9,329.2 53.4,328.2 53.9,327.3 54.4,328.1 54.9,329.2 55.4,329.2 55.9,328.0 56.4,327.3 56.9,329.4 57.4,328.7 57.9,329.3 58.4,329.0 58.9,328.6 59.4,328.9 59.9,327.5 60.4,327.5 60.9,329.1 61.4,329.2 61.9,328.3 62.4,327.3 62.9,329.3 63.4,327.0 63.9,328.3 64.4,326.7 64.9,328.4 65.4,328.5 65.9,328.7 66.4,327.9 66.9,327.9 67.4,325.4 67.9,324.1 68.4,324.1 68.9,326.0 69.4,327.8 69.9,326.7 70.4,329.2 70.9,329.5 71.4,329.0 71.9,330.0 72.4,330.4 72.9,330.3 73.4,328.1 73.9,330.5 74.4,332.0 74.9,331.7 75.4,331.5 75.9,330.4 76.4,330.8 76.9,330.8 77.4,330.1 77.9,331.7 78.4,330.3 78.9,330.9 79.4,331.7 79.9,327.8 80.4,331.0 80.9,332.2 81.4,331.6 81.9,331.3 82.4,331.7 82.9,331.0 83.4,332.0 83.9,331.9 84.4,330.1 84.9,331.0 85.4,331.9 85.9,334.9 86.4,331.9 86.9,330.4 87.4,332.1 87.9,331.3 88.4,332.6 88.9,330.8 89.4,332.6 89.9,332.8 90.4,331.4 90.9,333.6 91.4,332.8 91.9,333.1 92.4,332.5 92.9,332.3 93.4,332.1 93.9,331.7 94.4,332.5 94.9,333.6 95.4,331.4 95.9,332.0 96.4,332.3 96.9,331.9 97.4,333.9 97.9,333.1 98.4,333.2 98.9,331.9 99.4,333.5 99.9,331.0 100.4,331.4 100.9,334.3 101.4,332.3 101.9,330.4 102.4,332.0 102.9,329.9 103.4,328.8 103.9,325.3 104.4,320.3 104.9,311.9 105.4,297.7 105.9,292.7 106.4,292.4 106.9,305.1 107.4,315.0 107.9,323.5 108.4,328.1 108.9,329.8 109.4,330.6 109.9,333.7 110.4,332.8 110.9,332.9 111.4,334.7 111.9,334.6 112.4,331.4 112.9,335.0 113.4,335.0 113.9,333.5 114.4,335.5 114.9,333.0 115.4,336.7 115.9,335.9 116.4,336.1 116.9,334.2 117.4,334.6 117.9,336.4 118.4,334.3 118.9,335.2 119.4,335.9 119.9,335.3 120.4,335.7 120.9,336.5 121.4,337.2 121.9,334.3 122.4,337.7 122.9,336.4 123.4,336.7 123.9,335.5 124.4,337.0 124.9,335.7 125.4,336.7 125.9,336.3 126.4,337.2 126.9,336.4 127.4,337.0 127.9,337.7 128.4,336.6 128.9,336.6 129.4,336.0 129.9,336.4 130.4,337.4 130.9,337.1 131.4,339.5 131.9,337.6 132.4,335.9 132.9,335.8 133.4,336.4 133.9,336.7 134.4,336.5 134.9,334.2 135.4,337.5 135.9,337.6 136.4,336.3 136.9,336.3 137.4,337.0 137.9,337.4 138.4,337.5 138.9,337.6 139.4,337.9 139.9,341.4 140.4,337.2 140.9,337.7 141.4,337.5 141.9,336.2 142.4,337.0 142.9,338.0 143.4,337.1 143.9,338.6 144.4,335.7 144.9,337.4 145.4,337.8 145.9,337.3 146.4,335.0 146.9,338.0 147.4,338.4 147.9,337.0 148.4,336.7 148.9,338.4 149.4,337.2 149.9,337.6 150.4,338.4 150.9,337.5 151.4,338.2 151.9,338.5 152.4,337.0 152.9,337.8 153.4,339.5 153.9,338.3 154.4,338.8 154.9,339.0 155.4,338.6 155.9,337.7 156.4,338.2 156.9,338.8 157.4,339.6 157.9,338.7 158.4,337.7 158.9,339.3 159.4,337.9 159.9,338.0 160.4,337.9 160.9,338.1 161.4,338.8 161.9,338.5 162.4,338.8 162.9,337.7 163.4,337.0 163.9,338.3 164.4,336.8 164.9,338.9 165.4,337.6 165.9,337.0 166.4,333.9 166.9,334.7 167.4,328.3 167.9,324.7 168.4,317.7 168.9,316.1 169.4,320.9 169.9,328.7 170.4,331.3 170.9,332.8 171.4,335.1 171.9,336.6 172.4,338.6 172.9,337.9 173.4,337.3 173.9,338.7 174.4,337.9 174.9,338.7 175.4,338.4 175.9,338.0 176.4,339.1 176.9,336.7 177.4,338.6 177.9,338.5 178.4,339.3 178.9,340.3 179.4,339.1 179.9,339.9 180.4,340.0 180.9,338.7 181.4,339.0 181.9,340.8 182.4,340.5 182.9,339.2 183.4,338.0 183.9,338.6 184.4,339.9 184.9,338.7 185.4,341.8 185.9,339.5 186.4,339.2 186.9,339.8 187.4,338.8 187.9,338.6 188.4,339.7 188.9,339.4 189.4,340.0 189.9,339.6 190.4,339.5 190.9,337.7 191.4,337.3 191.9,338.2 192.4,338.7 192.9,339.2 193.4,338.5 193.9,339.2 194.4,338.6 194.9,339.0 195.4,338.8 195.9,339.4 196.4,340.2 196.9,340.4 197.4,338.0 197.9,339.1 198.4,339.1 198.9,338.8 199.4,339.7 199.9,337.4 200.4,338.5 200.9,339.4 201.4,336.9 201.9,340.7 202.4,340.9 202.9,341.4 203.4,339.6 203.9,339.7 204.4,338.8 204.9,342.4 205.4,339.0 205.9,338.3 206.4,338.6 206.9,340.0 207.4,340.5 207.9,339.5 208.4,338.8 208.9,340.1 209.4,338.2 209.9,339.3 210.4,338.9 210.9,339.7 211.4,337.9 211.9,339.1 212.4,339.0 212.9,337.8 213.4,338.3 213.9,337.2 214.4,337.6 214.9,337.3 215.4,338.2 215.9,337.6 216.4,335.5 216.9,336.5 217.4,335.6 217.9,332.0 218.4,333.9 218.9,330.3 219.4,327.9 219.9,324.2 220.4,313.7 220.9,299.4 221.4,281.1 221.9,258.6 222.4,244.5 222.9,248.5 223.4,269.8 223.9,292.6 224.4,308.8 224.9,319.2 225.4,326.3 225.9,329.1 226.4,332.1 226.9,334.1 227.4,335.5 227.9,334.2 228.4,336.0 228.9,336.7 229.4,336.9 229.9,337.8 230.4,337.7 230.9,335.2 231.4,338.8 231.9,339.7 232.4,337.8 232.9,338.7 233.4,339.5 233.9,339.2 234.4,339.6 234.9,340.7 235.4,339.7 235.9,340.6 236.4,339.5 236.9,338.0 237.4,339.0 237.9,339.9 238.4,339.6 238.9,340.1 239.4,339.5 239.9,339.8 240.4,339.4 240.9,340.0 241.4,340.5 241.9,340.0 242.4,340.5 242.9,340.7 243.4,340.1 243.9,339.4 244.4,340.5 244.9,339.5 245.4,340.8 245.9,339.1 246.4,341.0 246.9,340.2 247.4,340.6 247.9,339.9 248.4,340.5 248.9,341.6 249.4,340.8 249.9,339.0 250.4,340.6 250.9,340.2 251.4,340.8 251.9,340.7 252.4,340.4 252.9,340.3 253.4,336.9 253.9,340.6 254.4,340.8 254.9,341.1 255.4,341.6 255.9,341.8 256.4,340.2 256.9,342.0 257.4,339.7 257.9,340.1 258.4,341.8 258.9,341.5 259.4,340.7 259.9,340.7 260.4,342.6 260.9,341.2 261.4,340.9 261.9,340.6 262.4,340.7 262.9,340.9 263.4,341.6 263.9,340.6 264.4,339.7 264.9,340.3 265.4,339.2 265.9,338.0 266.4,338.0 266.9,338.2 267.4,335.9 267.9,335.2 268.4,330.8 268.9,325.8 269.4,322.6 269.9,323.4 270.4,326.7 270.9,330.4 271.4,337.6 271.9,336.3 272.4,338.6 272.9,339.9 273.4,339.4 273.9,339.7 274.4,340.8 274.9,340.8 275.4,340.8 275.9,339.7 276.4,340.1 276.9,340.3 277.4,340.2 277.9,340.9 278.4,340.3 278.9,341.0 279.4,341.6 279.9,341.1 280.4,340.5 280.9,340.6 281.4,338.1 281.9,341.8 282.4,340.8 282.9,340.4 283.4,341.3 283.9,340.5 284.4,340.9 284.9,341.4 285.4,339.8 285.9,341.6 286.4,339.9 286.9,340.8 287.4,342.6 287.9,341.1 288.4,341.0 288.9,341.1 289.4,340.2 289.9,341.7 290.4,339.5 290.9,339.7 291.4,339.3 291.9,340.9 292.4,342.6 292.9,342.9 293.4,340.2 293.9,339.8 294.4,340.3 294.9,339.9 295.4,339.7 295.9,340.8 296.4,338.3 296.9,340.2 297.4,339.1 297.9,338.4 298.4,339.6 298.9,339.4 299.4,337.5 299.9,341.4 300.4,337.5 300.9,337.7 301.4,337.5 301.9,336.8 302.4,337.0 302.9,336.5 303.4,335.1 303.9,334.9 304.4,333.6 304.9,334.2 305.4,332.2 305.9,329.9 306.4,328.3 306.9,326.4 307.4,323.9 307.9,319.6 308.4,312.4 308.9,301.3 309.4,285.1 309.9,256.6 310.4,216.6 310.9,160.9 311.4,105.3 311.9,62.4 312.4,69.7 312.9,118.8 313.4,178.6 313.9,230.6 314.4,265.8 314.9,291.4 315.4,307.0 315.9,315.6 316.4,321.3 316.9,322.4 317.4,326.4 317.9,329.8 318.4,331.4 318.9,332.4 319.4,334.9 319.9,334.8 320.4,334.7 320.9,335.8 321.4,336.5 321.9,339.1 322.4,336.3 322.9,339.0 323.4,338.9 323.9,339.0 324.4,338.9 324.9,338.6 325.4,339.2 325.9,338.7 326.4,339.1 326.9,340.3 327.4,342.6 327.9,338.9 328.4,340.1 328.9,338.7 329.4,339.8 329.9,340.4 330.4,342.2 330.9,340.2 331.4,340.1 331.9,340.8 332.4,339.8 332.9,339.5 333.4,340.7 333.9,339.1 334.4,340.8 334.9,340.2 335.4,344.2 335.9,341.8 336.4,339.0 336.9,339.5 337.4,342.4 337.9,341.7 338.4,340.4 338.9,340.3 339.4,340.5 339.9,340.4 340.4,341.2 340.9,340.7 341.4,341.4 341.9,340.8 342.4,340.3 342.9,341.1 343.4,340.8 343.9,340.9 344.4,340.5 344.9,339.9 345.4,341.1 345.9,340.2 346.4,341.4 346.9,340.5 347.4,339.5 347.9,340.5 348.4,339.8 348.9,339.5 349.4,335.6 349.9,336.3 350.4,334.4 350.9,331.5 351.4,330.6 351.9,332.4 352.4,334.2 352.9,336.7 353.4,338.4 353.9,339.5 354.4,340.1 354.9,340.5 355.4,340.0 355.9,340.5 356.4,343.0 356.9,340.1 357.4,340.7 357.9,341.6 358.4,341.3 358.9,343.7 359.4,342.1 359.9,340.7 360.4,341.6 360.9,341.7 361.4,340.0 361.9,342.5 362.4,341.1 362.9,339.6 363.4,340.9 363.9,341.2 364.4,340.5 364.9,340.5 365.4,340.8 365.9,341.6 366.4,341.2 366.9,341.7 367.4,339.4 367.9,340.8 368.4,339.8 368.9,339.9 369.4,340.4 369.9,342.8 370.4,340.7 370.9,338.9 371.4,339.7 371.9,341.5 372.4,340.5 372.9,340.5 373.4,342.6 373.9,340.6 374.4,340.5 374.9,341.3 375.4,340.0 375.9,338.3 376.4,340.0 376.9,340.6 377.4,341.7 377.9,340.0 378.4,339.5 378.9,341.1 379.4,340.7 379.9,340.1 380.4,339.9 380.9,340.8 381.4,338.1 381.9,338.3 382.4,339.1 382.9,339.5 383.4,337.3 383.9,335.3 384.4,334.8 384.9,330.3 385.4,327.8 385.9,323.0 386.4,313.6 386.9,295.8 387.4,279.6 387.9,271.4 388.4,277.6 388.9,291.0 389.4,309.1 389.9,321.2 390.4,327.9 390.9,331.2 391.4,334.7 391.9,337.7 392.4,337.5 392.9,340.5 393.4,339.2 393.9,338.8 394.4,339.4 394.9,340.3 395.4,339.8 395.9,340.5 396.4,339.7 396.9,340.4 397.4,340.0 397.9,340.6 398.4,339.9 398.9,340.6 399.4,340.6 399.9,341.0 400.4,340.6 400.9,343.6 401.4,338.9 401.9,341.3 402.4,340.8 402.9,341.2 403.4,341.3 403.9,340.7 404.4,341.4 404.9,341.3 405.4,342.0 405.9,341.7 406.4,341.9 406.9,339.9 407.4,342.7 407.9,341.9 408.4,342.3 408.9,340.2 409.4,342.4 409.9,343.4 410.4,341.2 410.9,341.0 411.4,342.3 411.9,342.5 412.4,340.4 412.9,340.8 413.4,339.8 413.9,340.7 414.4,341.3 414.9,341.3 415.4,340.8 415.9,341.3 416.4,341.0 416.9,341.7 417.4,341.4 417.9,340.6 418.4,340.9 418.9,341.1 419.4,339.8 419.9,339.4 420.4,339.0 420.9,338.2 421.4,337.2 421.9,330.3 422.4,328.3 422.9,324.6 423.4,322.5 423.9,325.2 424.4,329.9 424.9,334.0 425.4,335.6 425.9,337.6 426.4,339.2 426.9,339.7 427.4,341.0 427.9,340.2 428.4,341.6 428.9,341.6 429.4,342.3 429.9,340.7 430.4,340.9 430.9,342.1 431.4,342.0 431.9,341.8 432.4,341.8 432.9,340.3 433.4,342.0 433.9,339.6 434.4,343.1 434.9,342.3 435.4,343.4 435.9,340.9 436.4,342.2 436.9,341.7 437.4,341.5 437.9,340.9 438.4,341.6 438.9,343.4 439.4,341.4 439.9,344.0 440.4,342.9 440.9,345.4 441.4,344.5 441.9,342.1 442.4,343.1 442.9,342.7 443.4,342.3 443.9,344.9 444.4,342.6 444.9,344.2 445.4,340.7 445.9,342.0 446.4,339.9 446.9,343.6 447.4,342.7 447.9,342.4 448.4,342.5 448.9,342.1 449.4,343.1 449.9,344.5 450.4,342.5 450.9,340.9 451.4,342.6 451.9,342.7 452.4,341.7 452.9,342.3 453.4,341.5 453.9,342.6 454.4,339.9 454.9,338.7 455.4,337.9 455.9,334.4 456.4,334.7 456.9,335.3 457.4,337.8 457.9,342.4 458.4,340.5 458.9,342.2 459.4,341.4 459.9,341.5 460.4,342.8 460.9,343.7 461.4,343.0 461.9,343.5 462.4,342.7 462.9,342.8 463.4,343.3 463.9,342.9 464.4,342.3 464.9,341.9 465.4,341.5 465.9,340.2 466.4,345.9 466.9,343.9 467.4,342.3 467.9,342.9 468.4,343.1 468.9,343.0 469.4,343.4 469.9,344.0 470.4,342.0 470.9,342.7 471.4,340.6 471.9,342.6 472.4,339.9 472.9,343.5 473.4,342.9 473.9,343.5 474.4,342.9 474.9,343.5 475.4,341.6 475.9,343.5 476.4,345.4 476.9,342.9 477.4,343.4 477.9,342.5 478.4,343.2 478.9,343.4 479.4,343.0 479.9,343.4 480.4,342.0 480.9,342.2 481.4,341.8 481.9,343.3 482.4,341.9 482.9,342.3 483.4,341.2 483.9,339.8 484.4,339.6 484.9,338.5 485.4,335.2 485.9,331.2 486.4,324.0 486.9,317.1 487.4,304.2 487.9,295.5 488.4,295.4 488.9,303.5 489.4,317.0 489.9,326.3 490.4,332.2 490.9,337.5 491.4,337.1 491.9,339.1 492.4,341.7 492.9,343.8 493.4,343.9 493.9,341.2 494.4,342.6 494.9,344.0 495.4,343.7 495.9,344.9 496.4,343.4 496.9,344.7 497.4,345.6 497.9,343.0 498.4,345.8 498.9,343.7 499.4,343.8 499.9,344.8 500.4,343.4 500.9,344.9 501.4,342.8 501.9,344.1 502.4,345.5 502.9,343.7 503.4,341.7 503.9,344.5 504.4,343.6 504.9,344.5 505.4,344.8 505.9,346.2 506.4,343.5 506.9,344.7 507.4,344.2 507.9,344.2 508.4,347.4 508.9,341.1 509.4,344.7 509.9,344.8 510.4,345.4 510.9,344.4 511.4,344.0 511.9,344.8 512.4,344.7 512.9,346.2 513.4,343.6 513.9,345.0 514.4,344.7 514.9,343.4 515.4,344.7 515.9,347.5 516.4,345.2 516.9,344.9 517.4,343.4 517.9,342.1 518.4,342.2 518.9,344.0 519.4,343.7 519.9,345.2 520.4,343.6 520.9,344.0 521.4,344.3 521.9,346.3 522.4,344.5 522.9,342.4 523.4,344.9 523.9,343.0 524.4,344.6 524.9,345.4 525.4,345.7 525.9,344.5 526.4,344.1 526.9,344.9 527.4,343.8 527.9,345.1 528.4,344.6 528.9,345.6 529.4,345.3 529.9,344.6 530.4,345.2 530.9,345.0 531.4,344.8 531.9,344.5 532.4,344.2 532.9,344.1 533.4,344.0 533.9,344.5 534.4,345.0 534.9,345.8 535.4,347.1 535.9,345.2 536.4,344.2 536.9,345.6 537.4,345.8 537.9,344.3 538.4,344.1 538.9,344.6 539.4,342.5 539.9,344.3 540.4,344.7 540.9,342.8 541.4,344.5 541.9,344.8 542.4,343.6 542.9,343.6 543.4,342.6 543.9,339.4 544.4,342.8 544.9,338.4 545.4,333.9 545.9,330.7 546.4,325.6 546.9,320.0 547.4,319.4 547.9,321.2 548.4,327.8 548.9,333.1 549.4,334.7 549.9,338.7 550.4,342.6 550.9,344.8 551.4,343.7 551.9,344.4 552.4,343.3 552.9,343.7 553.4,342.6 553.9,343.6 554.4,344.2 554.9,343.5 555.4,345.1 555.9,345.5 556.4,344.5 556.9,344.0 557.4,348.6 557.9,344.1 558.4,344.1 L558.4,353.9 Z" fill="#00FF50"/>
<path d="M8.4,366.6 L8.4,332.9 8.9,333.6 9.4,336.7 9.9,331.5 10.4,332.4 10.9,332.7 11.4,329.8 11.9,333.9 12.4,330.5 12.9,332.1 13.4,330.7 13.9,332.7 14.4,332.7 14.9,333.0 15.4,331.2 15.9,331.6 16.4,331.6 16.9,331.1 17.4,330.1 17.9,329.7 18.4,328.1 18.9,329.4 19.4,325.9 19.9,325.1 20.4,322.2 20.9,318.4 21.4,311.9 21.9,300.8 22.4,284.8 22.9,262.2 23.4,230.9 23.9,200.7 24.4,185.4 24.9,197.4 25.4,226.9 25.9,257.2 26.4,283.8 26.9,297.0 27.4,312.5 27.9,319.9 28.4,323.1 28.9,325.9 29.4,327.9 29.9,329.3 30.4,331.3 30.9,332.6 31.4,333.2 31.9,334.2 32.4,335.2 32.9,334.8 33.4,334.5 33.9,336.2 34.4,336.8 34.9,337.3 35.4,338.5 35.9,338.1 36.4,338.2 36.9,338.2 37.4,339.1 37.9,340.0 38.4,338.4 38.9,337.9 39.4,340.8 39.9,339.6 40.4,339.0 40.9,340.5 41.4,340.8 41.9,339.9 42.4,340.1 42.9,340.5 43.4,339.0 43.9,339.2 44.4,339.8 44.9,340.4 45.4,340.7 45.9,339.9 46.4,340.7 46.9,342.1 47.4,338.7 47.9,341.2 48.4,340.3 48.9,340.9 49.4,340.5 49.9,341.7 50.4,341.2 50.9,340.4 51.4,341.1 51.9,341.2 52.4,342.3 52.9,340.7 53.4,340.4 53.9,344.1 54.4,343.6 54.9,341.3 55.4,339.4 55.9,341.3 56.4,341.1 56.9,341.5 57.4,342.4 57.9,342.4 58.4,340.7 58.9,342.5 59.4,343.8 59.9,342.3 60.4,342.4 60.9,341.9 61.4,342.1 61.9,341.8 62.4,340.2 62.9,342.5 63.4,342.4 63.9,341.8 64.4,343.4 64.9,341.4 65.4,342.1 65.9,342.1 66.4,341.7 66.9,338.4 67.4,336.9 67.9,336.5 68.4,338.2 68.9,340.5 69.4,340.8 69.9,342.0 70.4,340.8 70.9,344.1 71.4,341.7 71.9,342.5 72.4,342.8 72.9,341.7 73.4,343.7 73.9,344.1 74.4,344.6 74.9,342.2 75.4,343.0 75.9,343.3 76.4,343.5 76.9,345.2 77.4,344.1 77.9,343.9 78.4,343.3 78.9,344.9 79.4,344.0 79.9,344.5 80.4,344.3 80.9,345.0 81.4,344.2 81.9,344.5 82.4,345.9 82.9,343.8 83.4,343.2 83.9,345.4 84.4,344.1 84.9,345.0 85.4,345.4 85.9,343.1 86.4,347.7 86.9,344.1 87.4,345.0 87.9,344.5 88.4,345.4 88.9,344.3 89.4,344.1 89.9,344.9 90.4,345.9 90.9,345.8 91.4,346.2 91.9,345.2 92.4,345.2 92.9,346.1 93.4,345.0 93.9,346.1 94.4,344.5 94.9,345.2 95.4,344.7 95.9,346.3 96.4,346.5 96.9,347.1 97.4,347.1 97.9,347.3 98.4,344.7 98.9,345.5 99.4,345.0 99.9,346.3 100.4,347.5 100.9,344.8 101.4,344.1 101.9,345.0 102.4,343.0 102.9,342.4 103.4,336.5 103.9,334.6 104.4,326.7 104.9,315.3 105.4,304.7 105.9,305.0 106.4,313.5 106.9,326.3 107.4,333.9 107.9,340.1 108.4,342.4 108.9,344.5 109.4,342.6 109.9,345.1 110.4,346.7 110.9,347.7 111.4,346.9 111.9,345.5 112.4,347.1 112.9,348.0 113.4,347.0 113.9,347.9 114.4,347.3 114.9,348.6 115.4,347.8 115.9,347.4 116.4,347.2 116.9,348.6 117.4,348.0 117.9,348.2 118.4,348.4 118.9,348.8 119.4,350.5 119.9,348.9 120.4,349.8 120.9,348.9 121.4,351.6 121.9,348.0 122.4,347.8 122.9,348.8 123.4,349.8 123.9,349.4 124.4,348.6 124.9,348.8 125.4,349.8 125.9,348.5 126.4,348.9 126.9,349.1 127.4,349.7 127.9,349.5 128.4,350.0 128.9,349.4 129.4,349.6 129.9,348.8 130.4,349.6 130.9,351.4 131.4,349.5 131.9,349.0 132.4,350.8 132.9,349.0 133.4,349.8 133.9,350.3 134.4,350.6 134.9,350.5 135.4,350.4 135.9,351.8 136.4,350.7 136.9,350.0 137.4,350.7 137.9,350.7 138.4,348.7 138.9,350.3 139.4,350.0 139.9,350.2 140.4,350.4 140.9,348.0 141.4,349.4 141.9,348.6 142.4,351.1 142.9,350.1 143.4,352.0 143.9,350.4 144.4,348.3 144.9,352.8 145.4,351.7 145.9,352.5 146.4,351.4 146.9,351.1 147.4,350.4 147.9,350.9 148.4,351.2 148.9,350.0 149.4,350.9 149.9,352.3 150.4,349.4 150.9,350.7 151.4,350.7 151.9,350.9 152.4,350.9 152.9,351.7 153.4,353.3 153.9,352.0 154.4,349.6 154.9,351.8 155.4,351.8 155.9,351.5 156.4,351.4 156.9,353.6 157.4,348.6 157.9,351.6 158.4,350.2 158.9,350.6 159.4,352.2 159.9,350.7 160.4,352.3 160.9,350.3 161.4,351.0 161.9,351.3 162.4,354.9 162.9,349.9 163.4,351.8 163.9,349.9 164.4,351.2 164.9,350.1 165.4,348.9 165.9,345.6 166.4,344.4 166.9,342.8 167.4,335.8 167.9,331.3 168.4,328.7 168.9,336.8 169.4,340.2 169.9,345.0 170.4,347.3 170.9,348.5 171.4,349.0 171.9,351.6 172.4,351.2 172.9,351.6 173.4,350.3 173.9,351.9 174.4,350.9 174.9,351.9 175.4,352.6 175.9,351.6 176.4,352.5 176.9,351.3 177.4,351.3 177.9,350.9 178.4,352.6 178.9,350.8 179.4,351.3 179.9,350.9 180.4,350.5 180.9,350.9 181.4,350.6 181.9,351.8 182.4,353.0 182.9,352.2 183.4,350.6 183.9,351.7 184.4,352.7 184.9,352.2 185.4,352.8 185.9,351.9 186.4,351.8 186.9,354.1 187.4,351.5 187.9,351.7 188.4,352.0 188.9,351.5 189.4,353.2 189.9,352.3 190.4,353.5 190.9,352.3 191.4,352.7 191.9,351.8 192.4,352.7 192.9,352.8 193.4,352.4 193.9,352.5 194.4,352.0 194.9,353.0 195.4,353.4 195.9,353.5 196.4,351.6 196.9,353.3 197.4,352.8 197.9,353.2 198.4,351.8 198.9,352.8 199.4,351.6 199.9,352.9 200.4,352.2 200.9,350.7 201.4,351.8 201.9,353.3 202.4,352.7 202.9,352.5 203.4,351.7 203.9,351.9 204.4,352.1 204.9,352.0 205.4,353.3 205.9,350.8 206.4,352.0 206.9,351.6 207.4,352.6 207.9,351.7 208.4,350.8 208.9,352.4 209.4,352.4 209.9,352.2 210.4,353.0 210.9,352.1 211.4,351.8 211.9,353.0 212.4,349.7 212.9,350.6 213.4,350.9 213.9,350.9 214.4,351.0 214.9,350.6 215.4,350.1 215.9,349.2 216.4,349.3 216.9,347.7 217.4,348.7 217.9,345.5 218.4,344.4 218.9,340.8 219.4,337.5 219.9,325.5 220.4,311.3 220.9,290.2 221.4,270.7 221.9,255.9 222.4,262.5 222.9,281.9 223.4,306.9 223.9,322.8 224.4,333.8 224.9,339.9 225.4,343.5 225.9,344.1 226.4,346.9 226.9,346.5 227.4,348.1 227.9,350.6 228.4,350.0 228.9,351.0 229.4,352.1 229.9,352.0 230.4,351.8 230.9,350.5 231.4,351.8 231.9,352.1 232.4,352.1 232.9,355.3 233.4,352.2 233.9,352.5 234.4,353.6 234.9,353.0 235.4,350.3 235.9,351.7 236.4,352.9 236.9,352.4 237.4,352.1 237.9,352.9 238.4,352.4 238.9,354.1 239.4,352.4 239.9,353.4 240.4,353.3 240.9,353.5 241.4,353.0 241.9,352.5 242.4,353.0 242.9,352.6 243.4,352.6 243.9,352.6 244.4,353.2 244.9,353.6 245.4,353.0 245.9,353.7 246.4,353.6 246.9,351.4 247.4,353.6 247.9,354.6 248.4,351.4 248.9,353.4 249.4,353.9 249.9,354.7 250.4,351.8 250.9,356.3 251.4,353.8 251.9,354.1 252.4,353.4 252.9,353.8 253.4,355.6 253.9,353.8 254.4,352.5 254.9,354.9 255.4,354.7 255.9,353.5 256.4,354.7 256.9,353.0 257.4,354.8 257.9,354.6 258.4,354.1 258.9,353.0 259.4,353.2 259.9,353.3 260.4,353.5 260.9,352.8 261.4,354.8 261.9,353.4 262.4,352.5 262.9,354.1 263.4,353.1 263.9,354.6 264.4,352.2 264.9,352.9 265.4,351.2 265.9,351.7 266.4,350.4 266.9,350.4 267.4,347.7 267.9,344.1 268.4,337.9 268.9,336.2 269.4,337.8 269.9,339.9 270.4,344.7 270.9,350.1 271.4,350.5 271.9,351.6 272.4,351.3 272.9,353.9 273.4,352.2 273.9,352.3 274.4,352.7 274.9,353.9 275.4,353.6 275.9,354.4 276.4,352.6 276.9,353.8 277.4,352.7 277.9,353.0 278.4,354.2 278.9,355.4 279.4,353.2 279.9,353.3 280.4,352.6 280.9,355.3 281.4,353.4 281.9,353.2 282.4,354.1 282.9,354.0 283.4,353.2 283.9,353.4 284.4,354.3 284.9,353.6 285.4,354.1 285.9,353.9 286.4,352.6 286.9,354.1 287.4,353.9 287.9,353.1 288.4,356.1 288.9,353.3 289.4,354.3 289.9,353.3 290.4,353.5 290.9,355.0 291.4,353.5 291.9,353.3 292.4,352.5 292.9,351.7 293.4,352.8 293.9,351.8 294.4,352.6 294.9,353.6 295.4,352.5 295.9,351.5 296.4,351.3 296.9,352.7 297.4,350.5 297.9,352.3 298.4,352.1 298.9,351.7 299.4,350.2 299.9,350.6 300.4,349.9 300.9,351.7 301.4,349.8 301.9,349.4 302.4,348.2 302.9,349.7 303.4,346.5 303.9,346.8 304.4,346.1 304.9,344.9 305.4,341.2 305.9,339.3 306.4,337.4 306.9,332.2 307.4,327.3 307.9,318.3 308.4,304.7 308.9,280.8 309.4,244.8 309.9,195.2 310.4,134.1 310.9,84.8 311.4,72.9 311.9,109.5 312.4,169.3 312.9,225.5 313.4,266.0 313.9,295.3 314.4,312.7 314.9,323.6 315.4,330.8 315.9,334.6 316.4,339.1 316.9,341.4 317.4,342.8 317.9,344.6 318.4,345.6 318.9,347.0 319.4,348.2 319.9,347.9 320.4,348.9 320.9,348.9 321.4,347.0 321.9,350.6 322.4,351.2 322.9,351.3 323.4,353.3 323.9,352.8 324.4,350.5 324.9,351.5 325.4,348.8 325.9,352.5 326.4,350.1 326.9,352.2 327.4,352.5 327.9,351.9 328.4,352.7 328.9,351.6 329.4,352.7 329.9,351.9 330.4,353.4 330.9,353.5 331.4,351.9 331.9,353.2 332.4,352.6 332.9,352.8 333.4,353.4 333.9,352.1 334.4,353.4 334.9,351.8 335.4,352.9 335.9,352.6 336.4,353.3 336.9,353.2 337.4,352.8 337.9,352.4 338.4,353.1 338.9,352.3 339.4,353.3 339.9,352.1 340.4,356.6 340.9,352.8 341.4,353.3 341.9,353.4 342.4,354.3 342.9,352.7 343.4,352.8 343.9,354.1 344.4,353.8 344.9,353.4 345.4,353.1 345.9,353.7 346.4,353.6 346.9,352.4 347.4,352.9 347.9,350.3 348.4,350.8 348.9,348.4 349.4,345.6 349.9,344.9 350.4,343.5 350.9,345.2 351.4,347.5 351.9,348.4 352.4,351.6 352.9,352.3 353.4,353.7 353.9,352.9 354.4,352.4 354.9,353.4 355.4,352.8 355.9,353.9 356.4,352.7 356.9,353.6 357.4,353.9 357.9,352.5 358.4,353.6 358.9,353.3 359.4,356.1 359.9,353.2 360.4,353.6 360.9,354.5 361.4,353.5 361.9,353.4 362.4,353.5 362.9,353.9 363.4,350.3 363.9,354.2 364.4,353.6 364.9,353.6 365.4,356.3 365.9,356.1 366.4,353.3 366.9,353.3 367.4,353.6 367.9,355.6 368.4,355.0 368.9,353.5 369.4,353.2 369.9,352.9 370.4,353.3 370.9,353.0 371.4,352.5 371.9,355.2 372.4,350.5 372.9,356.3 373.4,353.2 373.9,353.3 374.4,354.1 374.9,354.0 375.4,353.1 375.9,353.4 376.4,352.7 376.9,353.4 377.4,349.2 377.9,353.1 378.4,351.5 378.9,353.2 379.4,352.2 379.9,351.6 380.4,353.0 380.9,352.5 381.4,351.2 381.9,350.2 382.4,349.4 382.9,349.1 383.4,347.5 383.9,347.1 384.4,343.3 384.9,334.7 385.4,328.0 385.9,313.5 386.4,297.1 386.9,283.1 387.4,286.5 387.9,300.7 388.4,316.9 388.9,332.9 389.4,339.1 389.9,344.4 390.4,346.6 390.9,346.8 391.4,350.1 391.9,349.1 392.4,352.0 392.9,353.0 393.4,351.0 393.9,351.4 394.4,352.6 394.9,353.5 395.4,353.6 395.9,352.2 396.4,353.9 396.9,352.6 397.4,353.2 397.9,350.5 398.4,352.4 398.9,352.9 399.4,354.5 399.9,354.8 400.4,354.5 400.9,353.4 401.4,354.6 401.9,354.4 402.4,353.7 402.9,354.3 403.4,354.6 403.9,354.6 404.4,353.5 404.9,353.3 405.4,354.3 405.9,352.9 406.4,353.9 406.9,354.1 407.4,355.1 407.9,354.1 408.4,354.4 408.9,353.3 409.4,353.6 409.9,353.0 410.4,354.7 410.9,353.2 411.4,353.7 411.9,353.9 412.4,354.3 412.9,354.0 413.4,354.6 413.9,353.7 414.4,354.0 414.9,355.3 415.4,355.7 415.9,354.3 416.4,354.0 416.9,353.8 417.4,352.6 417.9,353.7 418.4,353.8 418.9,352.2 419.4,351.0 419.9,348.6 420.4,348.7 420.9,344.9 421.4,339.6 421.9,335.3 422.4,334.4 422.9,337.4 423.4,341.4 423.9,346.2 424.4,349.1 424.9,348.6 425.4,352.5 425.9,353.0 426.4,354.4 426.9,353.5 427.4,355.3 427.9,351.5 428.4,354.2 428.9,355.8 429.4,355.4 429.9,354.8 430.4,354.8 430.9,355.5 431.4,354.9 431.9,356.6 432.4,355.2 432.9,354.9 433.4,354.3 433.9,355.3 434.4,355.5 434.9,354.0 435.4,354.8 435.9,355.7 436.4,356.3 436.9,355.6 437.4,354.7 437.9,358.5 438.4,354.4 438.9,355.5 439.4,355.0 439.9,355.6 440.4,354.7 440.9,355.1 441.4,354.9 441.9,359.2 442.4,354.7 442.9,356.3 443.4,355.4 443.9,354.9 444.4,355.4 444.9,354.9 445.4,355.1 445.9,355.2 446.4,355.8 446.9,354.6 447.4,354.5 447.9,353.5 448.4,355.8 448.9,354.5 449.4,355.7 449.9,356.4 450.4,356.6 450.9,354.5 451.4,352.9 451.9,354.3 452.4,354.9 452.9,352.9 453.4,352.2 453.9,348.2 454.4,349.6 454.9,348.4 455.4,346.2 455.9,348.1 456.4,350.8 456.9,350.8 457.4,353.6 457.9,354.1 458.4,354.8 458.9,356.0 459.4,354.6 459.9,355.6 460.4,355.0 460.9,356.6 461.4,355.3 461.9,355.4 462.4,355.6 462.9,356.6 463.4,357.0 463.9,356.5 464.4,354.8 464.9,356.0 465.4,356.0 465.9,355.9 466.4,356.1 466.9,355.8 467.4,355.6 467.9,356.5 468.4,355.2 468.9,353.8 469.4,355.5 469.9,353.7 470.4,355.3 470.9,356.0 471.4,356.9 471.9,356.7 472.4,358.6 472.9,354.7 473.4,356.2 473.9,355.9 474.4,355.1 474.9,358.5 475.4,355.7 475.9,355.7 476.4,356.2 476.9,355.6 477.4,355.0 477.9,354.1 478.4,355.6 478.9,353.6 479.4,352.9 479.9,355.4 480.4,355.5 480.9,355.4 481.4,353.9 481.9,353.9 482.4,353.7 482.9,353.7 483.4,351.8 483.9,350.0 484.4,347.9 484.9,342.7 485.4,333.6 485.9,322.4 486.4,312.5 486.9,305.6 487.4,308.0 487.9,318.3 488.4,329.8 488.9,339.0 489.4,345.0 489.9,349.9 490.4,350.5 490.9,353.0 491.4,354.2 491.9,354.5 492.4,355.2 492.9,354.8 493.4,354.9 493.9,354.7 494.4,355.8 494.9,356.3 495.4,356.3 495.9,357.0 496.4,356.8 496.9,355.1 497.4,354.8 497.9,356.9 498.4,356.2 498.9,356.5 499.4,356.2 499.9,357.4 500.4,357.5 500.9,356.0 501.4,359.4 501.9,357.0 502.4,356.8 502.9,358.2 503.4,357.1 503.9,357.4 504.4,356.7 504.9,358.8 505.4,358.5 505.9,356.5 506.4,356.8 506.9,357.4 507.4,357.6 507.9,357.5 508.4,356.4 508.9,356.5 509.4,357.7 509.9,357.6 510.4,356.7 510.9,356.8 511.4,356.7 511.9,357.0 512.4,357.4 512.9,358.8 513.4,357.5 513.9,356.6 514.4,356.2 514.9,358.1 515.4,357.2 515.9,357.4 516.4,357.2 516.9,357.4 517.4,358.0 517.9,355.2 518.4,356.3 518.9,356.4 519.4,357.6 519.9,357.3 520.4,358.1 520.9,357.5 521.4,356.8 521.9,358.5 522.4,356.7 522.9,356.4 523.4,358.0 523.9,362.2 524.4,355.3 524.9,357.2 525.4,355.8 525.9,356.2 526.4,358.0 526.9,358.0 527.4,357.8 527.9,356.3 528.4,356.7 528.9,358.5 529.4,356.2 529.9,357.3 530.4,357.0 530.9,357.8 531.4,356.1 531.9,357.0 532.4,356.4 532.9,358.0 533.4,356.8 533.9,357.7 534.4,358.9 534.9,357.8 535.4,357.7 535.9,356.3 536.4,357.6 536.9,357.1 537.4,356.7 537.9,358.0 538.4,357.6 538.9,357.2 539.4,357.8 539.9,356.8 540.4,356.6 540.9,356.3 541.4,355.6 541.9,354.8 542.4,354.3 542.9,353.6 543.4,351.8 543.9,348.7 544.4,345.9 544.9,342.3 545.4,334.7 545.9,329.7 546.4,331.1 546.9,337.0 547.4,341.8 547.9,347.1 548.4,349.8 548.9,351.8 549.4,352.8 549.9,354.8 550.4,357.4 550.9,355.8 551.4,356.3 551.9,357.4 552.4,356.1 552.9,356.6 553.4,356.1 553.9,357.4 554.4,357.1 554.9,357.2 555.4,358.4 555.9,355.6 556.4,358.7 556.9,358.1 557.4,358.1 557.9,358.4 558.4,357.1 L558.4,366.6 Z" fill="#00FA96"/>
<path d="M8.4,379.2 L8.4,345.5 8.9,346.3 9.4,344.3 9.9,347.5 10.4,345.7 10.9,346.6 11.4,344.9 11.9,346.6 12.4,345.2 12.9,346.9 13.4,344.4 13.9,343.1 14.4,345.9 14.9,344.5 15.4,345.3 15.9,344.2 16.4,344.0 16.9,343.1 17.4,342.1 17.9,341.3 18.4,340.3 18.9,337.4 19.4,338.1 19.9,335.7 20.4,332.1 20.9,326.9 21.4,316.8 21.9,304.6 22.4,285.7 22.9,256.7 23.4,225.4 23.9,201.2 24.4,201.6 24.9,224.0 25.4,256.7 25.9,284.1 26.4,306.0 26.9,320.0 27.4,328.4 27.9,333.4 28.4,338.6 28.9,340.7 29.4,342.5 29.9,343.8 30.4,345.1 30.9,345.1 31.4,346.1 31.9,347.3 32.4,345.0 32.9,347.7 33.4,349.3 33.9,349.8 34.4,349.2 34.9,348.6 35.4,351.9 35.9,351.1 36.4,348.4 36.9,351.7 37.4,350.0 37.9,351.5 38.4,352.7 38.9,352.4 39.4,352.1 39.9,353.1 40.4,350.6 40.9,352.5 41.4,353.0 41.9,352.7 42.4,353.3 42.9,353.0 43.4,353.8 43.9,352.3 44.4,353.5 44.9,353.6 45.4,350.3 45.9,352.5 46.4,353.6 46.9,353.6 47.4,353.8 47.9,353.6 48.4,354.4 48.9,355.1 49.4,353.8 49.9,354.0 50.4,353.1 50.9,353.0 51.4,355.1 51.9,356.5 52.4,353.8 52.9,353.6 53.4,354.4 53.9,354.5 54.4,355.8 54.9,353.1 55.4,355.1 55.9,354.3 56.4,354.5 56.9,353.9 57.4,355.4 57.9,353.9 58.4,355.0 58.9,354.9 59.4,354.6 59.9,354.4 60.4,354.5 60.9,355.7 61.4,355.8 61.9,355.6 62.4,357.0 62.9,357.6 63.4,356.3 63.9,355.6 64.4,355.6 64.9,354.2 65.4,354.1 65.9,354.2 66.4,352.3 66.9,351.0 67.4,350.7 67.9,350.8 68.4,353.8 68.9,354.5 69.4,354.4 69.9,354.8 70.4,355.7 70.9,356.6 71.4,355.6 71.9,356.6 72.4,356.3 72.9,357.0 73.4,352.7 73.9,355.5 74.4,357.2 74.9,357.5 75.4,356.8 75.9,356.4 76.4,356.1 76.9,357.0 77.4,357.9 77.9,359.1 78.4,357.0 78.9,358.4 79.4,356.2 79.9,357.6 80.4,358.1 80.9,357.4 81.4,356.9 81.9,357.0 82.4,358.4 82.9,358.2 83.4,357.4 83.9,358.2 84.4,358.3 84.9,356.6 85.4,359.8 85.9,358.6 86.4,358.8 86.9,360.3 87.4,357.2 87.9,357.1 88.4,358.6 88.9,358.4 89.4,358.7 89.9,358.3 90.4,356.9 90.9,359.1 91.4,356.5 91.9,358.8 92.4,360.1 92.9,358.4 93.4,358.8 93.9,358.5 94.4,360.8 94.9,358.7 95.4,359.5 95.9,358.1 96.4,358.1 96.9,359.8 97.4,358.3 97.9,358.9 98.4,358.6 98.9,359.7 99.4,359.4 99.9,358.2 100.4,358.1 100.9,357.8 101.4,356.2 101.9,355.3 102.4,355.0 102.9,352.8 103.4,347.3 103.9,340.2 104.4,330.3 104.9,320.1 105.4,315.9 105.9,323.8 106.4,335.7 106.9,344.5 107.4,351.4 107.9,353.4 108.4,356.1 108.9,356.1 109.4,358.5 109.9,361.4 110.4,356.4 110.9,359.9 111.4,359.4 111.9,359.9 112.4,358.3 112.9,360.9 113.4,360.9 113.9,361.0 114.4,361.7 114.9,361.0 115.4,362.0 115.9,362.0 116.4,362.4 116.9,358.4 117.4,362.0 117.9,362.3 118.4,361.3 118.9,362.2 119.4,361.7 119.9,362.2 120.4,361.8 120.9,362.0 121.4,364.1 121.9,360.2 122.4,361.6 122.9,363.3 123.4,361.7 123.9,362.5 124.4,362.3 124.9,361.6 125.4,361.8 125.9,361.9 126.4,361.2 126.9,361.9 127.4,363.0 127.9,363.5 128.4,362.1 128.9,363.9 129.4,363.0 129.9,363.0 130.4,363.3 130.9,362.0 131.4,362.7 131.9,362.3 132.4,362.4 132.9,363.3 133.4,362.2 133.9,361.7 134.4,363.2 134.9,361.2 135.4,362.4 135.9,364.5 136.4,364.1 136.9,364.0 137.4,364.4 137.9,362.3 138.4,363.2 138.9,363.4 139.4,363.4 139.9,362.8 140.4,362.8 140.9,362.7 141.4,363.6 141.9,363.6 142.4,362.6 142.9,363.4 143.4,362.8 143.9,364.0 144.4,363.8 144.9,364.2 145.4,363.8 145.9,363.5 146.4,364.2 146.9,362.1 147.4,364.9 147.9,363.4 148.4,364.7 148.9,363.8 149.4,364.5 149.9,364.0 150.4,364.0 150.9,364.6 151.4,363.2 151.9,364.6 152.4,364.2 152.9,363.7 153.4,363.2 153.9,365.4 154.4,364.0 154.9,364.6 155.4,363.1 155.9,366.1 156.4,363.8 156.9,364.1 157.4,364.4 157.9,361.3 158.4,364.2 158.9,364.4 159.4,363.6 159.9,365.1 160.4,365.0 160.9,363.3 161.4,364.3 161.9,365.3 162.4,363.5 162.9,363.0 163.4,364.1 163.9,364.2 164.4,362.9 164.9,361.9 165.4,361.3 165.9,359.2 166.4,354.3 166.9,348.7 167.4,344.3 167.9,342.2 168.4,344.9 168.9,352.3 169.4,356.6 169.9,359.6 170.4,360.5 170.9,362.5 171.4,362.7 171.9,364.7 172.4,364.4 172.9,363.5 173.4,365.3 173.9,363.6 174.4,364.2 174.9,364.6 175.4,363.2 175.9,365.5 176.4,365.5 176.9,365.2 177.4,366.5 177.9,364.1 178.4,365.7 178.9,365.4 179.4,366.2 179.9,365.0 180.4,365.1 180.9,364.4 181.4,363.9 181.9,364.8 182.4,365.7 182.9,365.0 183.4,365.0 183.9,365.3 184.4,366.0 184.9,365.0 185.4,366.1 185.9,367.6 186.4,365.5 186.9,367.0 187.4,364.9 187.9,363.9 188.4,365.6 188.9,365.8 189.4,364.8 189.9,366.3 190.4,365.4 190.9,362.8 191.4,365.8 191.9,365.5 192.4,366.0 192.9,364.6 193.4,365.0 193.9,366.0 194.4,365.2 194.9,365.9 195.4,365.1 195.9,365.7 196.4,366.1 196.9,366.6 197.4,366.8 197.9,366.8 198.4,365.3 198.9,364.3 199.4,365.8 199.9,365.3 200.4,365.2 200.9,365.4 201.4,365.4 201.9,365.1 202.4,366.0 202.9,364.2 203.4,366.1 203.9,364.4 204.4,366.1 204.9,364.9 205.4,364.5 205.9,363.9 206.4,365.4 206.9,364.9 207.4,364.7 207.9,365.7 208.4,365.9 208.9,365.5 209.4,365.6 209.9,362.7 210.4,364.8 210.9,366.3 211.4,364.1 211.9,364.8 212.4,363.9 212.9,363.4 213.4,362.7 213.9,363.6 214.4,363.6 214.9,363.6 215.4,362.7 215.9,361.8 216.4,360.9 216.9,360.8 217.4,358.7 217.9,356.3 218.4,353.0 218.9,346.9 219.4,336.2 219.9,321.4 220.4,299.1 220.9,276.8 221.4,265.9 221.9,277.5 222.4,298.6 222.9,320.3 223.4,333.4 223.9,344.7 224.4,353.5 224.9,357.2 225.4,358.7 225.9,359.4 226.4,360.7 226.9,361.6 227.4,363.5 227.9,362.5 228.4,363.1 228.9,364.3 229.4,365.9 229.9,365.0 230.4,364.7 230.9,363.1 231.4,364.9 231.9,365.2 232.4,362.5 232.9,363.6 233.4,365.2 233.9,365.1 234.4,364.8 234.9,366.2 235.4,365.5 235.9,364.5 236.4,366.5 236.9,365.6 237.4,365.2 237.9,364.8 238.4,363.6 238.9,365.4 239.4,366.3 239.9,369.4 240.4,366.6 240.9,365.1 241.4,366.7 241.9,365.0 242.4,365.5 242.9,366.5 243.4,365.2 243.9,366.0 244.4,362.9 244.9,366.6 245.4,366.0 245.9,366.7 246.4,366.5 246.9,365.8 247.4,365.3 247.9,366.5 248.4,366.4 248.9,366.1 249.4,366.8 249.9,366.3 250.4,366.4 250.9,367.0 251.4,367.5 251.9,365.3 252.4,366.1 252.9,366.5 253.4,366.9 253.9,367.4 254.4,367.8 254.9,366.8 255.4,365.8 255.9,367.0 256.4,366.8 256.9,367.1 257.4,367.5 257.9,366.1 258.4,365.6 258.9,367.7 259.4,369.1 259.9,365.8 260.4,367.3 260.9,366.7 261.4,367.3 261.9,366.3 262.4,366.9 262.9,366.7 263.4,366.9 263.9,364.7 264.4,364.0 264.9,365.2 265.4,364.3 265.9,363.3 266.4,360.8 266.9,360.9 267.4,355.3 267.9,350.1 268.4,348.9 268.9,350.5 269.4,353.8 269.9,359.4 270.4,360.4 270.9,363.6 271.4,364.4 271.9,364.3 272.4,365.6 272.9,365.8 273.4,366.4 273.9,365.8 274.4,365.8 274.9,367.0 275.4,366.0 275.9,365.8 276.4,366.2 276.9,365.4 277.4,366.0 277.9,365.7 278.4,369.0 278.9,367.9 279.4,367.1 279.9,366.6 280.4,365.8 280.9,365.8 281.4,366.2 281.9,367.1 282.4,366.1 282.9,365.5 283.4,367.3 283.9,369.7 284.4,365.9 284.9,367.6 285.4,365.7 285.9,365.0 286.4,366.4 286.9,364.5 287.4,366.8 287.9,366.8 288.4,366.1 288.9,365.1 289.4,366.8 289.9,366.4 290.4,366.6 290.9,365.3 291.4,365.4 291.9,366.5 292.4,366.1 292.9,365.7 293.4,366.0 293.9,366.0 294.4,365.4 294.9,367.4 295.4,366.6 295.9,365.1 296.4,365.3 296.9,364.1 297.4,365.2 297.9,364.1 298.4,364.3 298.9,363.1 299.4,361.7 299.9,362.7 300.4,362.3 300.9,361.5 301.4,361.6 301.9,362.0 302.4,360.3 302.9,360.0 303.4,355.8 303.9,355.1 304.4,355.3 304.9,352.8 305.4,349.3 305.9,346.4 306.4,341.4 306.9,334.7 307.4,321.7 307.9,300.9 308.4,272.0 308.9,226.8 309.4,170.5 309.9,113.7 310.4,83.8 310.9,105.7 311.4,158.7 311.9,217.7 312.4,263.3 312.9,299.0 313.4,318.1 313.9,331.9 314.4,339.0 314.9,346.4 315.4,350.0 315.9,351.5 316.4,354.2 316.9,356.5 317.4,358.1 317.9,359.9 318.4,360.2 318.9,360.6 319.4,360.7 319.9,361.4 320.4,361.6 320.9,362.7 321.4,363.8 321.9,363.9 322.4,362.9 322.9,364.1 323.4,363.5 323.9,365.7 324.4,365.1 324.9,365.5 325.4,364.9 325.9,365.8 326.4,366.2 326.9,365.5 327.4,367.1 327.9,366.0 328.4,365.4 328.9,366.6 329.4,365.9 329.9,366.5 330.4,368.7 330.9,365.9 331.4,365.7 331.9,365.8 332.4,366.7 332.9,365.2 333.4,366.0 333.9,368.8 334.4,365.4 334.9,366.6 335.4,365.0 335.9,365.8 336.4,366.4 336.9,366.7 337.4,367.0 337.9,365.5 338.4,366.6 338.9,365.5 339.4,366.3 339.9,366.5 340.4,366.1 340.9,366.6 341.4,367.2 341.9,367.4 342.4,366.4 342.9,366.5 343.4,365.2 343.9,366.1 344.4,365.9 344.9,365.5 345.4,366.1 345.9,365.7 346.4,365.1 346.9,364.5 347.4,362.4 347.9,361.9 348.4,359.1 348.9,357.5 349.4,356.4 349.9,356.7 350.4,361.2 350.9,361.4 351.4,364.2 351.9,366.6 352.4,365.6 352.9,366.0 353.4,366.9 353.9,367.9 354.4,364.7 354.9,365.7 355.4,369.3 355.9,367.7 356.4,366.0 356.9,365.4 357.4,366.2 357.9,367.7 358.4,366.9 358.9,366.4 359.4,366.6 359.9,365.8 360.4,367.3 360.9,367.1 361.4,368.3 361.9,365.8 362.4,366.2 362.9,365.0 363.4,367.9 363.9,366.0 364.4,367.6 364.9,367.5 365.4,370.5 365.9,367.6 366.4,365.3 366.9,367.4 367.4,365.8 367.9,363.6 368.4,366.5 368.9,367.0 369.4,366.6 369.9,368.5 370.4,364.8 370.9,367.1 371.4,366.8 371.9,366.2 372.4,367.0 372.9,367.3 373.4,364.0 373.9,367.5 374.4,367.1 374.9,367.0 375.4,366.6 375.9,366.1 376.4,369.1 376.9,366.2 377.4,364.7 377.9,364.8 378.4,367.5 378.9,365.3 379.4,364.8 379.9,365.1 380.4,365.5 380.9,363.5 381.4,362.4 381.9,362.1 382.4,359.3 382.9,358.7 383.4,356.0 383.9,350.3 384.4,341.1 384.9,330.3 385.4,311.3 385.9,295.7 386.4,295.2 386.9,310.8 387.4,325.5 387.9,342.1 388.4,348.0 388.9,356.6 389.4,358.9 389.9,361.6 390.4,363.2 390.9,360.6 391.4,363.9 391.9,361.7 392.4,365.0 392.9,365.1 393.4,364.7 393.9,366.0 394.4,365.6 394.9,365.8 395.4,365.5 395.9,365.3 396.4,366.1 396.9,365.1 397.4,366.5 397.9,366.5 398.4,366.2 398.9,366.5 399.4,365.8 399.9,368.4 400.4,367.7 400.9,368.0 401.4,365.5 401.9,365.9 402.4,367.0 402.9,366.3 403.4,367.9 403.9,366.9 404.4,365.6 404.9,366.2 405.4,365.2 405.9,366.1 406.4,365.9 406.9,366.7 407.4,367.9 407.9,366.8 408.4,364.0 408.9,365.9 409.4,366.8 409.9,366.5 410.4,366.9 410.9,369.4 411.4,365.5 411.9,366.1 412.4,368.0 412.9,366.5 413.4,366.7 413.9,367.2 414.4,367.3 414.9,367.3 415.4,367.0 415.9,365.7 416.4,367.5 416.9,367.0 417.4,366.3 417.9,364.2 418.4,363.1 418.9,362.3 419.4,359.2 419.9,357.9 420.4,352.8 420.9,349.6 421.4,346.3 421.9,350.2 422.4,354.5 422.9,358.5 423.4,362.2 423.9,362.3 424.4,366.4 424.9,363.8 425.4,366.7 425.9,365.7 426.4,365.6 426.9,366.5 427.4,367.6 427.9,367.8 428.4,366.5 428.9,367.3 429.4,368.7 429.9,368.1 430.4,364.6 430.9,367.2 431.4,366.9 431.9,368.1 432.4,367.5 432.9,368.5 433.4,367.4 433.9,367.6 434.4,367.9 434.9,367.0 435.4,368.6 435.9,367.2 436.4,367.4 436.9,367.3 437.4,367.5 437.9,368.3 438.4,368.2 438.9,367.7 439.4,367.8 439.9,367.6 440.4,365.5 440.9,367.2 441.4,369.0 441.9,368.8 442.4,366.5 442.9,367.1 443.4,367.3 443.9,368.8 444.4,366.9 444.9,367.3 445.4,366.1 445.9,368.0 446.4,367.5 446.9,367.9 447.4,367.8 447.9,367.1 448.4,368.7 448.9,369.7 449.4,367.9 449.9,365.8 450.4,366.6 450.9,367.0 451.4,365.9 451.9,365.9 452.4,364.9 452.9,365.1 453.4,362.4 453.9,363.6 454.4,359.4 454.9,360.8 455.4,363.4 455.9,364.3 456.4,365.7 456.9,366.3 457.4,367.5 457.9,369.8 458.4,366.8 458.9,368.1 459.4,369.1 459.9,368.7 460.4,368.3 460.9,368.4 461.4,370.6 461.9,367.8 462.4,370.7 462.9,368.2 463.4,368.6 463.9,368.0 464.4,368.4 464.9,365.4 465.4,367.1 465.9,369.0 466.4,368.5 466.9,369.5 467.4,368.9 467.9,368.5 468.4,366.9 468.9,368.9 469.4,368.2 469.9,367.9 470.4,367.2 470.9,368.5 471.4,368.3 471.9,367.9 472.4,368.2 472.9,369.7 473.4,368.5 473.9,368.8 474.4,368.8 474.9,370.4 475.4,368.8 475.9,368.8 476.4,368.1 476.9,367.9 477.4,368.4 477.9,366.3 478.4,367.6 478.9,367.4 479.4,366.7 479.9,365.7 480.4,366.5 480.9,366.6 481.4,365.5 481.9,363.9 482.4,362.5 482.9,360.4 483.4,357.2 483.9,354.6 484.4,342.9 484.9,330.9 485.4,317.9 485.9,315.8 486.4,322.7 486.9,334.1 487.4,345.8 487.9,352.1 488.4,359.8 488.9,361.6 489.4,363.9 489.9,365.3 490.4,366.8 490.9,367.7 491.4,367.5 491.9,368.0 492.4,368.1 492.9,368.1 493.4,369.2 493.9,368.2 494.4,368.1 494.9,371.1 495.4,368.4 495.9,368.9 496.4,369.5 496.9,368.8 497.4,368.4 497.9,369.5 498.4,370.6 498.9,368.8 499.4,368.7 499.9,370.3 500.4,369.6 500.9,369.2 501.4,371.2 501.9,369.0 502.4,369.1 502.9,366.6 503.4,368.6 503.9,370.4 504.4,369.0 504.9,366.9 505.4,371.3 505.9,370.0 506.4,369.2 506.9,370.2 507.4,371.0 507.9,369.5 508.4,369.7 508.9,370.3 509.4,369.6 509.9,369.2 510.4,369.1 510.9,369.5 511.4,372.9 511.9,370.0 512.4,371.4 512.9,368.5 513.4,369.7 513.9,369.5 514.4,369.9 514.9,369.9 515.4,371.2 515.9,370.8 516.4,370.7 516.9,370.3 517.4,370.3 517.9,368.4 518.4,369.2 518.9,370.6 519.4,370.4 519.9,370.3 520.4,370.3 520.9,370.3 521.4,372.4 521.9,369.1 522.4,369.5 522.9,369.5 523.4,369.9 523.9,369.6 524.4,370.2 524.9,371.3 525.4,369.9 525.9,369.9 526.4,370.9 526.9,371.5 527.4,369.2 527.9,370.7 528.4,370.1 528.9,370.4 529.4,368.8 529.9,371.0 530.4,369.2 530.9,371.7 531.4,369.3 531.9,370.2 532.4,371.5 532.9,367.8 533.4,369.9 533.9,371.0 534.4,369.5 534.9,371.5 535.4,369.4 535.9,370.7 536.4,370.1 536.9,370.2 537.4,369.4 537.9,369.7 538.4,371.6 538.9,368.1 539.4,371.9 539.9,367.8 540.4,367.6 540.9,366.8 541.4,368.1 541.9,364.4 542.4,360.6 542.9,359.2 543.4,355.2 543.9,349.4 544.4,347.2 544.9,342.8 545.4,342.9 545.9,350.0 546.4,357.4 546.9,360.6 547.4,363.5 547.9,367.0 548.4,367.2 548.9,367.4 549.4,365.5 549.9,367.5 550.4,369.2 550.9,369.4 551.4,369.6 551.9,369.3 552.4,366.9 552.9,370.4 553.4,369.8 553.9,370.2 554.4,370.4 554.9,370.3 555.4,368.6 555.9,368.7 556.4,369.0 556.9,371.2 557.4,369.8 557.9,368.4 558.4,369.8 L558.4,379.2 Z" fill="#00FFE6"/>
<path d="M8.4,391.9 L8.4,358.8 8.9,358.8 9.4,359.5 9.9,358.1 10.4,357.9 10.9,358.2 11.4,358.5 11.9,358.5 12.4,359.0 12.9,358.7 13.4,356.3 13.9,357.9 14.4,357.6 14.9,356.6 15.4,357.4 15.9,355.9 16.4,355.3 16.9,355.3 17.4,356.1 17.9,354.0 18.4,353.4 18.9,351.6 19.4,349.3 19.9,347.3 20.4,342.2 20.9,333.4 21.4,323.6 21.9,306.6 22.4,281.1 22.9,251.9 23.4,221.3 23.9,207.6 24.4,223.8 24.9,253.6 25.4,284.7 25.9,308.5 26.4,325.2 26.9,336.9 27.4,343.8 27.9,348.3 28.4,352.9 28.9,350.9 29.4,356.0 29.9,356.3 30.4,357.8 30.9,359.2 31.4,359.4 31.9,359.0 32.4,359.9 32.9,364.0 33.4,360.8 33.9,362.8 34.4,363.1 34.9,363.1 35.4,362.9 35.9,363.8 36.4,363.2 36.9,364.0 37.4,363.3 37.9,363.5 38.4,364.8 38.9,364.6 39.4,364.2 39.9,367.6 40.4,366.5 40.9,367.1 41.4,367.2 41.9,366.3 42.4,365.8 42.9,365.4 43.4,365.6 43.9,366.4 44.4,365.9 44.9,364.3 45.4,366.8 45.9,366.2 46.4,367.0 46.9,366.1 47.4,367.3 47.9,366.4 48.4,367.9 48.9,366.8 49.4,367.5 49.9,367.8 50.4,367.5 50.9,366.5 51.4,368.0 51.9,368.9 52.4,368.5 52.9,367.3 53.4,366.7 53.9,367.4 54.4,367.5 54.9,366.8 55.4,367.7 55.9,365.1 56.4,366.7 56.9,368.0 57.4,367.0 57.9,367.4 58.4,368.0 58.9,368.0 59.4,367.3 59.9,368.9 60.4,369.2 60.9,367.3 61.4,366.8 61.9,368.0 62.4,367.4 62.9,368.7 63.4,369.0 63.9,368.4 64.4,368.1 64.9,367.3 65.4,367.0 65.9,365.5 66.4,361.8 66.9,362.5 67.4,361.8 67.9,364.2 68.4,365.4 68.9,367.6 69.4,370.2 69.9,369.8 70.4,369.9 70.9,368.4 71.4,368.7 71.9,368.3 72.4,369.5 72.9,370.2 73.4,371.0 73.9,370.0 74.4,369.8 74.9,371.5 75.4,368.9 75.9,370.4 76.4,369.6 76.9,369.1 77.4,369.0 77.9,370.4 78.4,369.6 78.9,369.7 79.4,368.1 79.9,370.2 80.4,371.1 80.9,370.4 81.4,371.1 81.9,370.9 82.4,372.0 82.9,370.2 83.4,373.3 83.9,371.2 84.4,371.3 84.9,369.2 85.4,369.2 85.9,370.9 86.4,372.3 86.9,371.3 87.4,372.2 87.9,371.8 88.4,370.9 88.9,371.6 89.4,371.4 89.9,371.1 90.4,371.5 90.9,371.9 91.4,371.6 91.9,369.1 92.4,371.6 92.9,372.0 93.4,372.1 93.9,371.5 94.4,372.0 94.9,371.2 95.4,372.8 95.9,371.3 96.4,372.4 96.9,371.8 97.4,370.2 97.9,373.2 98.4,371.9 98.9,370.9 99.4,370.6 99.9,368.5 100.4,370.6 100.9,368.8 101.4,369.6 101.9,370.0 102.4,365.2 102.9,362.5 103.4,356.5 103.9,345.9 104.4,334.0 104.9,327.5 105.4,331.6 105.9,343.5 106.4,353.8 106.9,361.3 107.4,365.8 107.9,368.9 108.4,369.9 108.9,370.6 109.4,373.3 109.9,372.9 110.4,372.6 110.9,372.2 111.4,372.1 111.9,372.1 112.4,374.0 112.9,373.6 113.4,374.2 113.9,374.5 114.4,374.3 114.9,374.1 115.4,373.7 115.9,375.4 116.4,374.6 116.9,375.3 117.4,373.7 117.9,373.5 118.4,375.2 118.9,376.1 119.4,374.6 119.9,374.4 120.4,373.5 120.9,375.5 121.4,376.3 121.9,376.0 122.4,374.2 122.9,375.3 123.4,375.3 123.9,376.2 124.4,374.6 124.9,375.9 125.4,376.0 125.9,375.0 126.4,375.7 126.9,376.7 127.4,376.2 127.9,375.3 128.4,375.8 128.9,375.7 129.4,375.1 129.9,375.5 130.4,377.3 130.9,375.9 131.4,376.6 131.9,374.8 132.4,377.2 132.9,377.0 133.4,376.9 133.9,372.7 134.4,374.9 134.9,375.4 135.4,379.1 135.9,377.0 136.4,374.2 136.9,376.6 137.4,376.3 137.9,376.0 138.4,376.3 138.9,376.4 139.4,378.2 139.9,376.6 140.4,377.8 140.9,373.7 141.4,377.2 141.9,376.4 142.4,376.0 142.9,376.8 143.4,376.8 143.9,375.4 144.4,376.0 144.9,375.2 145.4,375.5 145.9,377.1 146.4,377.4 146.9,377.1 147.4,376.3 147.9,379.4 148.4,377.0 148.9,377.4 149.4,379.1 149.9,374.4 150.4,377.3 150.9,375.9 151.4,376.5 151.9,377.4 152.4,376.9 152.9,374.9 153.4,375.9 153.9,376.9 154.4,377.0 154.9,377.4 155.4,377.9 155.9,377.1 156.4,376.6 156.9,377.4 157.4,378.9 157.9,377.9 158.4,376.0 158.9,377.7 159.4,377.2 159.9,378.6 160.4,377.7 160.9,377.8 161.4,376.5 161.9,376.5 162.4,376.4 162.9,375.8 163.4,376.6 163.9,374.5 164.4,375.1 164.9,373.0 165.4,369.8 165.9,367.7 166.4,361.3 166.9,355.5 167.4,353.2 167.9,357.4 168.4,364.1 168.9,367.8 169.4,370.4 169.9,375.3 170.4,377.2 170.9,376.5 171.4,377.5 171.9,376.6 172.4,375.3 172.9,377.9 173.4,378.4 173.9,376.1 174.4,377.3 174.9,378.6 175.4,379.4 175.9,377.4 176.4,377.7 176.9,379.1 177.4,378.5 177.9,378.8 178.4,378.3 178.9,378.6 179.4,378.6 179.9,377.8 180.4,379.4 180.9,377.4 181.4,378.0 181.9,376.6 182.4,377.8 182.9,380.1 183.4,379.1 183.9,378.0 184.4,377.2 184.9,381.0 185.4,379.3 185.9,378.4 186.4,378.3 186.9,378.9 187.4,378.9 187.9,375.8 188.4,379.0 188.9,379.5 189.4,378.7 189.9,377.5 190.4,380.5 190.9,376.1 191.4,380.0 191.9,378.5 192.4,376.5 192.9,378.0 193.4,377.7 193.9,379.6 194.4,378.8 194.9,378.9 195.4,377.3 195.9,378.7 196.4,378.6 196.9,378.9 197.4,380.5 197.9,377.7 198.4,379.9 198.9,380.7 199.4,379.6 199.9,378.9 200.4,377.1 200.9,378.9 201.4,377.5 201.9,381.4 202.4,378.7 202.9,378.1 203.4,378.7 203.9,378.8 204.4,377.0 204.9,380.0 205.4,378.9 205.9,378.1 206.4,376.4 206.9,377.9 207.4,379.2 207.9,377.6 208.4,377.8 208.9,377.8 209.4,377.9 209.9,377.7 210.4,378.3 210.9,377.5 211.4,377.0 211.9,377.0 212.4,379.2 212.9,376.4 213.4,377.4 213.9,376.7 214.4,376.3 214.9,375.6 215.4,374.5 215.9,373.1 216.4,370.1 216.9,370.3 217.4,369.3 217.9,363.5 218.4,356.6 218.9,346.8 219.4,330.3 219.9,307.1 220.4,283.0 220.9,276.0 221.4,289.4 221.9,312.4 222.4,337.1 222.9,350.3 223.4,359.4 223.9,364.7 224.4,369.1 224.9,371.7 225.4,374.0 225.9,372.8 226.4,374.9 226.9,374.6 227.4,376.5 227.9,375.7 228.4,375.6 228.9,377.8 229.4,377.0 229.9,377.1 230.4,376.9 230.9,378.2 231.4,377.2 231.9,378.2 232.4,376.7 232.9,377.7 233.4,377.7 233.9,378.6 234.4,378.8 234.9,378.2 235.4,377.6 235.9,379.8 236.4,378.2 236.9,377.6 237.4,379.7 237.9,378.7 238.4,379.1 238.9,378.9 239.4,378.3 239.9,380.4 240.4,379.6 240.9,380.3 241.4,379.6 241.9,378.1 242.4,380.2 242.9,379.8 243.4,379.9 243.9,379.2 244.4,379.7 244.9,380.1 245.4,380.1 245.9,379.7 246.4,380.5 246.9,381.3 247.4,378.8 247.9,381.5 248.4,378.5 248.9,379.8 249.4,379.2 249.9,380.3 250.4,379.7 250.9,380.1 251.4,378.9 251.9,381.5 252.4,380.8 252.9,378.8 253.4,379.4 253.9,380.4 254.4,380.7 254.9,381.5 255.4,379.9 255.9,379.3 256.4,379.6 256.9,380.7 257.4,378.3 257.9,380.2 258.4,382.0 258.9,380.4 259.4,380.5 259.9,379.9 260.4,381.0 260.9,380.2 261.4,378.8 261.9,379.5 262.4,379.3 262.9,378.6 263.4,379.4 263.9,379.6 264.4,378.1 264.9,377.8 265.4,376.1 265.9,374.5 266.4,371.3 266.9,367.3 267.4,361.6 267.9,358.9 268.4,364.1 268.9,364.7 269.4,370.0 269.9,375.3 270.4,377.3 270.9,377.2 271.4,378.4 271.9,377.0 272.4,379.2 272.9,377.7 273.4,380.3 273.9,379.0 274.4,379.0 274.9,379.3 275.4,380.5 275.9,379.5 276.4,378.7 276.9,379.0 277.4,380.1 277.9,379.6 278.4,379.2 278.9,380.1 279.4,379.3 279.9,378.9 280.4,380.5 280.9,379.7 281.4,379.3 281.9,380.1 282.4,378.9 282.9,378.7 283.4,379.9 283.9,379.4 284.4,380.0 284.9,379.6 285.4,379.1 285.9,380.4 286.4,379.3 286.9,377.8 287.4,378.5 287.9,378.6 288.4,379.7 288.9,378.8 289.4,377.3 289.9,379.4 290.4,378.0 290.9,377.0 291.4,379.0 291.9,378.2 292.4,377.8 292.9,377.6 293.4,378.0 293.9,376.8 294.4,378.0 294.9,376.6 295.4,377.1 295.9,377.2 296.4,377.7 296.9,377.4 297.4,377.0 297.9,379.5 298.4,377.0 298.9,376.9 299.4,375.7 299.9,375.8 300.4,374.8 300.9,374.8 301.4,373.5 301.9,372.5 302.4,371.3 302.9,368.3 303.4,368.2 303.9,365.4 304.4,363.1 304.9,359.8 305.4,356.8 305.9,347.9 306.4,337.4 306.9,322.1 307.4,294.5 307.9,256.5 308.4,205.4 308.9,145.8 309.4,101.3 309.9,103.2 310.4,149.8 310.9,207.8 311.4,259.3 311.9,300.0 312.4,323.4 312.9,338.5 313.4,349.6 313.9,356.1 314.4,360.0 314.9,363.8 315.4,366.7 315.9,369.2 316.4,368.4 316.9,372.1 317.4,372.5 317.9,372.4 318.4,374.0 318.9,375.2 319.4,375.9 319.9,374.7 320.4,376.1 320.9,377.7 321.4,377.6 321.9,376.5 322.4,376.0 322.9,377.7 323.4,376.9 323.9,378.9 324.4,379.1 324.9,378.9 325.4,377.8 325.9,378.1 326.4,377.9 326.9,379.7 327.4,377.4 327.9,378.9 328.4,376.8 328.9,378.6 329.4,380.1 329.9,378.9 330.4,379.5 330.9,377.9 331.4,378.9 331.9,378.2 332.4,379.7 332.9,379.7 333.4,379.1 333.9,379.1 334.4,379.9 334.9,378.9 335.4,378.4 335.9,379.5 336.4,379.6 336.9,379.6 337.4,378.9 337.9,379.4 338.4,379.0 338.9,378.5 339.4,382.1 339.9,379.5 340.4,379.5 340.9,380.0 341.4,379.3 341.9,379.2 342.4,380.0 342.9,378.5 343.4,378.7 343.9,379.7 344.4,378.0 344.9,377.2 345.4,377.2 345.9,377.0 346.4,376.3 346.9,375.3 347.4,371.8 347.9,369.4 348.4,370.0 348.9,368.4 349.4,371.4 349.9,375.7 350.4,377.9 350.9,375.3 351.4,378.6 351.9,375.1 352.4,380.0 352.9,379.9 353.4,379.6 353.9,379.7 354.4,379.7 354.9,380.4 355.4,381.9 355.9,379.2 356.4,380.4 356.9,380.2 357.4,379.6 357.9,379.8 358.4,380.1 358.9,378.1 359.4,379.8 359.9,379.0 360.4,380.8 360.9,380.2 361.4,380.2 361.9,380.4 362.4,380.7 362.9,379.8 363.4,380.1 363.9,378.4 364.4,379.6 364.9,379.3 365.4,381.0 365.9,379.5 366.4,378.4 366.9,380.3 367.4,380.2 367.9,380.0 368.4,378.4 368.9,380.4 369.4,380.1 369.9,380.5 370.4,379.1 370.9,380.7 371.4,381.5 371.9,378.4 372.4,377.7 372.9,380.6 373.4,378.7 373.9,378.1 374.4,378.0 374.9,378.5 375.4,377.8 375.9,378.7 376.4,378.3 376.9,377.1 377.4,378.3 377.9,378.6 378.4,379.9 378.9,377.8 379.4,378.4 379.9,375.9 380.4,376.7 380.9,375.2 381.4,374.8 381.9,372.1 382.4,367.5 382.9,362.6 383.4,355.7 383.9,342.8 384.4,327.0 384.9,310.5 385.4,303.0 385.9,314.6 386.4,333.4 386.9,348.2 387.4,356.0 387.9,364.0 388.4,370.6 388.9,372.6 389.4,374.9 389.9,373.9 390.4,376.9 390.9,377.4 391.4,376.4 391.9,377.6 392.4,378.7 392.9,377.4 393.4,377.4 393.9,377.8 394.4,380.0 394.9,376.1 395.4,377.4 395.9,378.5 396.4,378.3 396.9,378.9 397.4,378.5 397.9,377.8 398.4,378.6 398.9,379.6 399.4,379.2 399.9,377.8 400.4,380.1 400.9,379.7 401.4,379.8 401.9,378.4 402.4,380.0 402.9,379.7 403.4,379.5 403.9,379.0 404.4,379.0 404.9,379.3 405.4,380.3 405.9,380.5 406.4,378.7 406.9,379.7 407.4,379.4 407.9,379.6 408.4,382.1 408.9,379.0 409.4,379.5 409.9,379.7 410.4,379.8 410.9,379.2 411.4,380.3 411.9,377.7 412.4,379.4 412.9,380.6 413.4,378.4 413.9,379.1 414.4,378.5 414.9,378.6 415.4,378.4 415.9,378.5 416.4,378.2 416.9,378.1 417.4,376.7 417.9,374.8 418.4,373.4 418.9,370.4 419.4,362.1 419.9,361.7 420.4,360.5 420.9,364.7 421.4,367.1 421.9,371.9 422.4,373.7 422.9,378.4 423.4,377.9 423.9,378.8 424.4,378.6 424.9,379.3 425.4,380.5 425.9,378.7 426.4,380.7 426.9,379.9 427.4,380.2 427.9,378.8 428.4,381.1 428.9,379.4 429.4,379.8 429.9,382.2 430.4,381.2 430.9,380.7 431.4,381.0 431.9,380.2 432.4,380.0 432.9,379.6 433.4,380.9 433.9,380.1 434.4,380.6 434.9,379.5 435.4,380.5 435.9,380.5 436.4,380.8 436.9,380.2 437.4,380.5 437.9,381.3 438.4,382.1 438.9,379.9 439.4,380.1 439.9,380.7 440.4,380.5 440.9,380.7 441.4,380.7 441.9,381.0 442.4,379.8 442.9,379.4 443.4,380.8 443.9,378.8 444.4,379.9 444.9,381.8 445.4,380.2 445.9,381.6 446.4,379.6 446.9,380.4 447.4,380.7 447.9,380.1 448.4,380.5 448.9,380.0 449.4,380.1 449.9,380.0 450.4,378.1 450.9,378.6 451.4,375.7 451.9,375.2 452.4,374.9 452.9,375.0 453.4,373.0 453.9,373.8 454.4,376.4 454.9,376.6 455.4,379.2 455.9,380.1 456.4,379.5 456.9,380.9 457.4,381.4 457.9,380.3 458.4,382.7 458.9,381.3 459.4,380.4 459.9,380.6 460.4,380.8 460.9,378.2 461.4,380.8 461.9,381.2 462.4,383.6 462.9,380.9 463.4,383.1 463.9,381.4 464.4,379.8 464.9,381.6 465.4,381.3 465.9,381.5 466.4,382.5 466.9,380.8 467.4,379.9 467.9,380.1 468.4,379.1 468.9,381.9 469.4,381.6 469.9,380.9 470.4,381.5 470.9,379.3 471.4,381.0 471.9,382.0 472.4,381.9 472.9,380.5 473.4,380.5 473.9,381.0 474.4,377.6 474.9,380.9 475.4,381.0 475.9,380.7 476.4,380.2 476.9,382.1 477.4,379.4 477.9,379.9 478.4,380.4 478.9,380.0 479.4,378.1 479.9,378.0 480.4,377.8 480.9,375.8 481.4,377.9 481.9,370.7 482.4,367.7 482.9,360.4 483.4,350.5 483.9,337.2 484.4,324.6 484.9,326.0 485.4,336.2 485.9,349.9 486.4,357.1 486.9,366.2 487.4,371.1 487.9,374.3 488.4,378.5 488.9,378.2 489.4,376.6 489.9,379.7 490.4,380.6 490.9,378.7 491.4,380.7 491.9,380.6 492.4,382.3 492.9,382.1 493.4,380.9 493.9,381.1 494.4,382.3 494.9,381.0 495.4,382.2 495.9,382.8 496.4,381.2 496.9,381.6 497.4,382.1 497.9,382.5 498.4,381.5 498.9,381.6 499.4,382.6 499.9,381.8 500.4,382.0 500.9,383.1 501.4,379.2 501.9,383.4 502.4,382.8 502.9,382.0 503.4,382.4 503.9,379.6 504.4,382.6 504.9,381.5 505.4,381.4 505.9,382.7 506.4,382.4 506.9,382.9 507.4,384.4 507.9,382.0 508.4,382.1 508.9,382.2 509.4,381.1 509.9,381.3 510.4,382.2 510.9,382.0 511.4,382.4 511.9,382.2 512.4,381.6 512.9,381.7 513.4,381.1 513.9,382.4 514.4,382.4 514.9,383.3 515.4,382.6 515.9,382.9 516.4,383.1 516.9,384.9 517.4,380.1 517.9,383.0 518.4,383.7 518.9,382.7 519.4,382.5 519.9,382.3 520.4,383.1 520.9,383.4 521.4,383.8 521.9,382.5 522.4,382.9 522.9,382.1 523.4,383.5 523.9,381.6 524.4,382.7 524.9,383.5 525.4,380.9 525.9,382.0 526.4,379.8 526.9,383.8 527.4,382.9 527.9,384.1 528.4,382.1 528.9,380.0 529.4,383.1 529.9,381.3 530.4,382.6 530.9,385.0 531.4,381.6 531.9,382.5 532.4,382.1 532.9,381.3 533.4,381.6 533.9,383.1 534.4,384.1 534.9,383.5 535.4,381.3 535.9,382.1 536.4,382.3 536.9,381.8 537.4,382.4 537.9,382.1 538.4,381.7 538.9,377.7 539.4,380.0 539.9,379.5 540.4,378.0 540.9,376.7 541.4,373.8 541.9,368.8 542.4,363.0 542.9,358.8 543.4,352.4 543.9,354.9 544.4,357.1 544.9,365.0 545.4,370.7 545.9,376.2 546.4,374.0 546.9,378.2 547.4,377.7 547.9,379.4 548.4,379.9 548.9,381.1 549.4,380.8 549.9,380.9 550.4,381.2 550.9,382.3 551.4,381.0 551.9,380.2 552.4,383.1 552.9,382.4 553.4,383.3 553.9,382.5 554.4,383.7 554.9,382.9 555.4,382.5 555.9,383.5 556.4,384.2 556.9,383.6 557.4,382.0 557.9,382.1 558.4,383.0 L558.4,391.9 Z" fill="#00E4FF"/>
<path d="M8.4,404.5 L8.4,372.0 8.9,372.6 9.4,372.7 9.9,371.8 10.4,370.8 10.9,372.4 11.4,372.3 11.9,369.9 12.4,372.7 12.9,371.3 13.4,370.0 13.9,370.8 14.4,370.9 14.9,370.1 15.4,369.3 15.9,368.3 16.4,370.5 16.9,367.4 17.4,366.8 17.9,365.8 18.4,365.0 18.9,362.6 19.4,359.7 19.9,355.1 20.4,350.0 20.9,340.5 21.4,326.1 21.9,303.4 22.4,275.3 22.9,243.1 23.4,222.2 23.9,222.6 24.4,249.7 24.9,282.3 25.4,310.6 25.9,330.0 26.4,345.4 26.9,353.7 27.4,359.6 27.9,361.3 28.4,365.0 28.9,367.7 29.4,369.6 29.9,370.3 30.4,370.1 30.9,372.1 31.4,370.2 31.9,374.1 32.4,371.3 32.9,374.8 33.4,373.9 33.9,377.5 34.4,376.2 34.9,376.3 35.4,377.6 35.9,379.7 36.4,376.6 36.9,377.9 37.4,375.6 37.9,377.5 38.4,377.5 38.9,377.8 39.4,377.7 39.9,378.7 40.4,379.0 40.9,378.1 41.4,379.7 41.9,380.3 42.4,380.0 42.9,381.5 43.4,378.4 43.9,378.4 44.4,379.8 44.9,380.6 45.4,380.1 45.9,379.5 46.4,378.7 46.9,380.0 47.4,379.2 47.9,379.4 48.4,381.0 48.9,377.6 49.4,379.2 49.9,379.8 50.4,380.3 50.9,379.4 51.4,380.0 51.9,380.3 52.4,380.1 52.9,379.5 53.4,381.2 53.9,380.8 54.4,381.0 54.9,380.5 55.4,378.1 55.9,381.1 56.4,380.7 56.9,381.0 57.4,380.1 57.9,380.2 58.4,381.1 58.9,379.9 59.4,381.3 59.9,381.7 60.4,380.9 60.9,380.5 61.4,383.7 61.9,381.9 62.4,382.3 62.9,382.9 63.4,381.7 63.9,381.7 64.4,381.6 64.9,377.8 65.4,378.7 65.9,377.4 66.4,376.5 66.9,375.3 67.4,377.5 67.9,377.9 68.4,378.7 68.9,380.3 69.4,381.0 69.9,380.8 70.4,382.1 70.9,380.9 71.4,381.3 71.9,383.0 72.4,381.2 72.9,383.4 73.4,382.2 73.9,382.2 74.4,382.8 74.9,383.5 75.4,385.5 75.9,382.4 76.4,383.6 76.9,383.1 77.4,383.1 77.9,383.7 78.4,382.2 78.9,384.3 79.4,383.8 79.9,382.8 80.4,382.2 80.9,383.9 81.4,380.8 81.9,382.8 82.4,383.3 82.9,385.4 83.4,383.6 83.9,383.4 84.4,383.9 84.9,383.5 85.4,383.1 85.9,383.6 86.4,385.3 86.9,383.6 87.4,383.4 87.9,384.7 88.4,385.1 88.9,385.3 89.4,383.9 89.9,384.8 90.4,384.6 90.9,383.8 91.4,384.3 91.9,384.7 92.4,383.9 92.9,386.0 93.4,385.3 93.9,382.7 94.4,383.7 94.9,383.7 95.4,385.4 95.9,383.4 96.4,385.6 96.9,384.3 97.4,384.4 97.9,385.1 98.4,382.1 98.9,386.3 99.4,383.3 99.9,383.5 100.4,384.7 100.9,383.2 101.4,382.0 101.9,379.9 102.4,376.4 102.9,369.2 103.4,361.3 103.9,348.3 104.4,340.7 104.9,338.9 105.4,351.7 105.9,365.8 106.4,371.9 106.9,375.6 107.4,380.3 107.9,381.9 108.4,383.1 108.9,384.6 109.4,383.3 109.9,385.1 110.4,387.0 110.9,386.0 111.4,387.4 111.9,387.4 112.4,385.9 112.9,386.9 113.4,387.2 113.9,386.7 114.4,386.6 114.9,387.9 115.4,386.3 115.9,388.1 116.4,387.1 116.9,387.9 117.4,387.9 117.9,388.1 118.4,386.1 118.9,386.2 119.4,388.1 119.9,387.3 120.4,389.2 120.9,388.0 121.4,389.1 121.9,390.3 122.4,389.5 122.9,387.9 123.4,388.6 123.9,388.4 124.4,389.2 124.9,389.1 125.4,389.5 125.9,388.8 126.4,390.2 126.9,388.1 127.4,388.8 127.9,389.0 128.4,389.4 128.9,388.4 129.4,389.5 129.9,389.3 130.4,388.2 130.9,390.9 131.4,390.5 131.9,389.4 132.4,389.9 132.9,389.5 133.4,392.1 133.9,388.1 134.4,389.1 134.9,388.2 135.4,389.4 135.9,389.4 136.4,389.5 136.9,389.6 137.4,387.6 137.9,388.6 138.4,389.4 138.9,391.0 139.4,389.9 139.9,388.9 140.4,389.4 140.9,389.9 141.4,389.1 141.9,389.5 142.4,390.3 142.9,389.7 143.4,389.3 143.9,389.3 144.4,387.5 144.9,390.3 145.4,390.0 145.9,389.5 146.4,389.8 146.9,389.2 147.4,390.3 147.9,389.3 148.4,390.2 148.9,389.8 149.4,390.9 149.9,389.3 150.4,392.1 150.9,389.2 151.4,389.2 151.9,391.2 152.4,390.1 152.9,389.9 153.4,390.4 153.9,388.3 154.4,391.0 154.9,389.7 155.4,390.2 155.9,390.6 156.4,392.2 156.9,389.9 157.4,391.4 157.9,387.9 158.4,389.6 158.9,391.3 159.4,391.4 159.9,390.0 160.4,389.3 160.9,389.9 161.4,389.7 161.9,389.0 162.4,388.3 162.9,388.8 163.4,389.5 163.9,386.8 164.4,386.2 164.9,383.9 165.4,379.9 165.9,372.7 166.4,366.0 166.9,364.8 167.4,368.3 167.9,376.1 168.4,381.5 168.9,386.2 169.4,387.3 169.9,386.3 170.4,389.5 170.9,390.4 171.4,389.1 171.9,390.6 172.4,391.4 172.9,389.2 173.4,390.8 173.9,388.9 174.4,390.0 174.9,390.4 175.4,389.8 175.9,391.0 176.4,390.6 176.9,391.5 177.4,391.8 177.9,391.8 178.4,391.8 178.9,390.0 179.4,390.5 179.9,391.1 180.4,391.3 180.9,391.3 181.4,390.4 181.9,391.3 182.4,391.2 182.9,391.4 183.4,392.6 183.9,391.7 184.4,392.0 184.9,392.6 185.4,394.8 185.9,391.4 186.4,391.1 186.9,391.1 187.4,392.1 187.9,392.1 188.4,391.4 188.9,389.3 189.4,393.3 189.9,391.5 190.4,392.2 190.9,391.1 191.4,391.3 191.9,391.9 192.4,392.3 192.9,391.9 193.4,390.8 193.9,390.6 194.4,391.8 194.9,391.4 195.4,390.5 195.9,392.6 196.4,394.1 196.9,391.8 197.4,391.3 197.9,392.8 198.4,391.3 198.9,392.6 199.4,391.0 199.9,391.6 200.4,391.9 200.9,393.1 201.4,391.5 201.9,392.2 202.4,390.9 202.9,391.7 203.4,391.3 203.9,390.5 204.4,392.4 204.9,390.9 205.4,390.7 205.9,389.7 206.4,392.6 206.9,390.6 207.4,391.3 207.9,390.8 208.4,393.1 208.9,391.1 209.4,390.4 209.9,389.7 210.4,391.4 210.9,389.2 211.4,389.6 211.9,389.2 212.4,389.0 212.9,388.7 213.4,389.6 213.9,388.5 214.4,388.0 214.9,387.6 215.4,386.3 215.9,385.3 216.4,382.7 216.9,378.7 217.4,375.2 217.9,367.7 218.4,354.9 218.9,338.1 219.4,315.4 219.9,289.7 220.4,283.9 220.9,301.1 221.4,324.8 221.9,347.2 222.4,361.5 222.9,372.5 223.4,378.5 223.9,380.3 224.4,383.9 224.9,385.6 225.4,387.6 225.9,387.9 226.4,387.3 226.9,388.5 227.4,389.4 227.9,391.1 228.4,389.5 228.9,390.0 229.4,389.7 229.9,391.1 230.4,390.6 230.9,391.5 231.4,392.3 231.9,392.7 232.4,391.6 232.9,391.8 233.4,391.7 233.9,392.9 234.4,390.6 234.9,392.3 235.4,393.2 235.9,393.0 236.4,392.5 236.9,391.4 237.4,391.9 237.9,391.9 238.4,392.8 238.9,391.7 239.4,392.4 239.9,391.6 240.4,393.0 240.9,390.7 241.4,393.1 241.9,393.0 242.4,393.1 242.9,392.2 243.4,392.9 243.9,393.7 244.4,393.0 244.9,393.2 245.4,393.9 245.9,392.6 246.4,392.6 246.9,391.5 247.4,391.7 247.9,393.9 248.4,392.4 248.9,392.6 249.4,394.2 249.9,392.0 250.4,393.7 250.9,392.8 251.4,392.5 251.9,393.1 252.4,393.4 252.9,392.3 253.4,392.1 253.9,393.3 254.4,392.0 254.9,391.0 255.4,393.7 255.9,390.2 256.4,393.0 256.9,393.2 257.4,392.6 257.9,391.0 258.4,393.3 258.9,393.1 259.4,392.3 259.9,389.8 260.4,391.3 260.9,392.5 261.4,392.2 261.9,392.7 262.4,390.6 262.9,391.5 263.4,391.0 263.9,389.8 264.4,389.3 264.9,388.8 265.4,386.0 265.9,380.6 266.4,377.7 266.9,373.1 267.4,372.6 267.9,375.6 268.4,382.2 268.9,385.4 269.4,387.2 269.9,388.9 270.4,391.3 270.9,391.2 271.4,393.0 271.9,389.7 272.4,392.7 272.9,392.6 273.4,390.5 273.9,392.3 274.4,392.4 274.9,391.3 275.4,393.9 275.9,394.6 276.4,392.2 276.9,392.8 277.4,392.0 277.9,390.6 278.4,391.9 278.9,392.2 279.4,393.0 279.9,392.0 280.4,392.9 280.9,392.0 281.4,393.3 281.9,392.4 282.4,391.6 282.9,392.9 283.4,393.1 283.9,393.1 284.4,392.1 284.9,392.5 285.4,393.5 285.9,392.7 286.4,391.9 286.9,396.4 287.4,392.6 287.9,392.3 288.4,392.5 288.9,390.3 289.4,391.1 289.9,393.0 290.4,392.3 290.9,391.0 291.4,391.6 291.9,392.6 292.4,391.2 292.9,391.8 293.4,391.6 293.9,392.1 294.4,393.3 294.9,390.2 295.4,390.5 295.9,390.3 296.4,388.2 296.9,391.1 297.4,389.3 297.9,390.2 298.4,390.2 298.9,388.4 299.4,387.6 299.9,386.5 300.4,386.9 300.9,385.6 301.4,383.8 301.9,381.4 302.4,381.3 302.9,378.6 303.4,377.0 303.9,373.3 304.4,369.0 304.9,362.5 305.4,353.3 305.9,339.4 306.4,317.3 306.9,283.7 307.4,236.1 307.9,179.2 308.4,124.5 308.9,110.1 309.4,140.7 309.9,197.5 310.4,253.7 310.9,294.8 311.4,325.3 311.9,342.9 312.4,356.4 312.9,364.1 313.4,371.0 313.9,374.5 314.4,377.9 314.9,380.1 315.4,382.2 315.9,383.1 316.4,385.1 316.9,384.9 317.4,383.9 317.9,386.5 318.4,388.1 318.9,387.8 319.4,386.8 319.9,388.3 320.4,388.9 320.9,389.0 321.4,389.0 321.9,389.1 322.4,390.7 322.9,390.8 323.4,390.5 323.9,389.8 324.4,390.3 324.9,391.4 325.4,390.8 325.9,391.7 326.4,391.7 326.9,392.9 327.4,392.8 327.9,392.7 328.4,392.4 328.9,391.7 329.4,391.7 329.9,391.1 330.4,391.7 330.9,392.1 331.4,390.9 331.9,392.1 332.4,391.5 332.9,391.9 333.4,392.6 333.9,392.5 334.4,391.7 334.9,393.6 335.4,391.3 335.9,392.4 336.4,391.7 336.9,392.2 337.4,392.3 337.9,390.8 338.4,392.4 338.9,392.6 339.4,392.6 339.9,392.0 340.4,392.0 340.9,391.3 341.4,391.8 341.9,391.4 342.4,391.2 342.9,391.8 343.4,390.8 343.9,391.6 344.4,392.1 344.9,392.2 345.4,389.1 345.9,386.6 346.4,385.4 346.9,385.9 347.4,380.7 347.9,381.8 348.4,385.6 348.9,387.0 349.4,388.0 349.9,390.6 350.4,390.2 350.9,391.1 351.4,391.0 351.9,393.8 352.4,391.6 352.9,393.5 353.4,391.8 353.9,391.9 354.4,392.9 354.9,393.6 355.4,392.6 355.9,391.6 356.4,393.8 356.9,391.4 357.4,392.9 357.9,394.5 358.4,393.0 358.9,393.3 359.4,392.2 359.9,392.2 360.4,390.5 360.9,392.6 361.4,393.9 361.9,390.5 362.4,391.5 362.9,392.9 363.4,392.5 363.9,393.2 364.4,391.2 364.9,391.8 365.4,392.5 365.9,393.1 366.4,393.0 366.9,392.6 367.4,392.6 367.9,392.5 368.4,394.7 368.9,393.1 369.4,390.1 369.9,394.4 370.4,389.7 370.9,393.0 371.4,392.0 371.9,391.2 372.4,391.7 372.9,392.4 373.4,392.0 373.9,393.3 374.4,391.4 374.9,391.1 375.4,391.3 375.9,392.3 376.4,390.3 376.9,390.8 377.4,390.9 377.9,389.9 378.4,389.0 378.9,390.1 379.4,388.2 379.9,388.3 380.4,387.1 380.9,384.9 381.4,380.7 381.9,377.1 382.4,370.2 382.9,357.4 383.4,341.3 383.9,322.2 384.4,313.0 384.9,321.1 385.4,342.7 385.9,355.7 386.4,369.8 386.9,375.8 387.4,382.5 387.9,384.9 388.4,386.1 388.9,388.3 389.4,389.9 389.9,389.5 390.4,386.1 390.9,389.1 391.4,391.3 391.9,390.7 392.4,391.1 392.9,390.3 393.4,391.0 393.9,393.5 394.4,389.9 394.9,391.0 395.4,392.2 395.9,390.9 396.4,391.2 396.9,391.0 397.4,392.7 397.9,389.5 398.4,392.5 398.9,392.1 399.4,392.2 399.9,391.8 400.4,392.8 400.9,391.4 401.4,392.5 401.9,391.0 402.4,392.3 402.9,392.0 403.4,391.7 403.9,392.5 404.4,391.7 404.9,393.6 405.4,392.1 405.9,390.3 406.4,391.8 406.9,394.0 407.4,393.0 407.9,390.3 408.4,391.3 408.9,391.5 409.4,393.1 409.9,389.5 410.4,391.9 410.9,393.0 411.4,392.0 411.9,391.7 412.4,392.1 412.9,392.0 413.4,391.5 413.9,390.1 414.4,392.2 414.9,391.1 415.4,391.0 415.9,389.1 416.4,388.6 416.9,387.0 417.4,385.8 417.9,382.8 418.4,379.0 418.9,375.6 419.4,374.8 419.9,376.7 420.4,380.5 420.9,384.5 421.4,388.5 421.9,388.9 422.4,388.4 422.9,391.1 423.4,390.4 423.9,392.0 424.4,392.8 424.9,392.2 425.4,392.2 425.9,395.3 426.4,393.3 426.9,392.5 427.4,393.6 427.9,392.0 428.4,390.7 428.9,393.7 429.4,392.5 429.9,393.9 430.4,391.4 430.9,393.6 431.4,394.0 431.9,393.5 432.4,391.7 432.9,392.7 433.4,392.2 433.9,393.8 434.4,393.3 434.9,395.1 435.4,393.5 435.9,393.3 436.4,393.4 436.9,395.3 437.4,394.7 437.9,393.1 438.4,390.9 438.9,393.4 439.4,392.7 439.9,393.5 440.4,393.8 440.9,392.6 441.4,391.0 441.9,394.0 442.4,392.4 442.9,393.7 443.4,393.7 443.9,394.2 444.4,393.1 444.9,393.8 445.4,393.4 445.9,393.2 446.4,392.5 446.9,393.2 447.4,393.2 447.9,391.2 448.4,393.0 448.9,390.8 449.4,392.5 449.9,390.7 450.4,388.8 450.9,389.0 451.4,386.2 451.9,387.8 452.4,385.7 452.9,387.5 453.4,387.7 453.9,390.2 454.4,391.6 454.9,395.6 455.4,393.9 455.9,392.7 456.4,393.8 456.9,391.4 457.4,391.9 457.9,393.2 458.4,392.2 458.9,392.5 459.4,393.6 459.9,394.0 460.4,393.3 460.9,394.5 461.4,394.2 461.9,394.4 462.4,394.0 462.9,394.9 463.4,393.4 463.9,397.6 464.4,393.5 464.9,393.6 465.4,393.9 465.9,394.2 466.4,393.3 466.9,393.4 467.4,393.4 467.9,394.2 468.4,393.6 468.9,394.0 469.4,394.2 469.9,393.1 470.4,395.9 470.9,394.0 471.4,394.7 471.9,395.0 472.4,392.8 472.9,395.5 473.4,393.3 473.9,394.3 474.4,394.2 474.9,392.7 475.4,394.4 475.9,392.4 476.4,392.4 476.9,393.1 477.4,392.7 477.9,390.3 478.4,391.0 478.9,390.0 479.4,388.7 479.9,386.2 480.4,384.8 480.9,381.5 481.4,375.8 481.9,366.4 482.4,353.8 482.9,341.5 483.4,333.7 483.9,335.3 484.4,347.7 484.9,360.6 485.4,372.8 485.9,379.4 486.4,384.1 486.9,387.0 487.4,389.8 487.9,387.9 488.4,391.6 488.9,392.6 489.4,391.5 489.9,395.2 490.4,393.6 490.9,394.4 491.4,392.6 491.9,392.6 492.4,393.5 492.9,394.1 493.4,393.7 493.9,393.8 494.4,394.2 494.9,394.1 495.4,395.6 495.9,394.4 496.4,394.8 496.9,393.7 497.4,394.7 497.9,394.8 498.4,394.6 498.9,394.3 499.4,396.3 499.9,395.3 500.4,393.9 500.9,395.9 501.4,394.4 501.9,394.3 502.4,393.7 502.9,395.2 503.4,397.7 503.9,395.5 504.4,395.5 504.9,396.2 505.4,395.8 505.9,395.4 506.4,395.4 506.9,394.6 507.4,394.6 507.9,395.0 508.4,396.3 508.9,394.7 509.4,395.3 509.9,396.4 510.4,395.5 510.9,395.7 511.4,395.1 511.9,394.9 512.4,394.0 512.9,395.6 513.4,395.0 513.9,394.4 514.4,395.5 514.9,396.1 515.4,395.2 515.9,394.8 516.4,395.4 516.9,394.2 517.4,395.2 517.9,394.6 518.4,395.4 518.9,395.2 519.4,394.0 519.9,395.8 520.4,394.7 520.9,396.3 521.4,392.8 521.9,394.5 522.4,393.6 522.9,396.9 523.4,393.5 523.9,395.3 524.4,395.4 524.9,394.3 525.4,395.1 525.9,394.3 526.4,397.1 526.9,395.7 527.4,394.4 527.9,394.6 528.4,395.4 528.9,395.2 529.4,394.7 529.9,395.2 530.4,395.5 530.9,394.9 531.4,394.4 531.9,394.3 532.4,395.2 532.9,394.4 533.4,396.0 533.9,392.3 534.4,393.9 534.9,395.1 535.4,393.9 535.9,392.5 536.4,393.4 536.9,394.3 537.4,391.7 537.9,391.5 538.4,391.4 538.9,390.9 539.4,391.8 539.9,387.2 540.4,383.6 540.9,376.9 541.4,370.8 541.9,365.5 542.4,362.5 542.9,365.4 543.4,371.4 543.9,378.2 544.4,384.7 544.9,386.6 545.4,390.6 545.9,391.6 546.4,393.3 546.9,393.2 547.4,392.9 547.9,393.7 548.4,393.3 548.9,393.5 549.4,394.6 549.9,394.9 550.4,396.5 550.9,394.3 551.4,394.2 551.9,394.1 552.4,395.2 552.9,395.5 553.4,395.0 553.9,395.5 554.4,395.7 554.9,395.9 555.4,395.4 555.9,395.5 556.4,395.0 556.9,394.9 557.4,394.5 557.9,395.2 558.4,395.2 L558.4,404.5 Z" fill="#00BAFF"/>
<path d="M8.4,417.2 L8.4,384.1 8.9,385.1 9.4,387.2 9.9,384.9 10.4,382.4 10.9,383.6 11.4,384.6 11.9,383.8 12.4,385.7 12.9,385.6 13.4,384.3 13.9,383.7 14.4,383.8 14.9,383.0 15.4,382.3 15.9,380.1 16.4,381.5 16.9,381.8 17.4,378.1 17.9,375.7 18.4,376.4 18.9,374.8 19.4,369.7 19.9,362.6 20.4,354.8 20.9,342.1 21.4,320.2 21.9,295.4 22.4,263.6 22.9,235.0 23.4,230.2 23.9,248.7 24.4,282.2 24.9,314.9 25.4,337.1 25.9,351.2 26.4,361.6 26.9,368.8 27.4,374.1 27.9,376.7 28.4,378.0 28.9,381.5 29.4,381.2 29.9,383.5 30.4,385.0 30.9,384.8 31.4,386.3 31.9,385.4 32.4,385.4 32.9,388.1 33.4,390.7 33.9,388.3 34.4,389.3 34.9,388.6 35.4,389.5 35.9,391.4 36.4,391.0 36.9,389.2 37.4,390.9 37.9,390.8 38.4,391.0 38.9,390.8 39.4,391.9 39.9,391.2 40.4,391.0 40.9,392.0 41.4,391.6 41.9,392.2 42.4,392.6 42.9,392.1 43.4,392.6 43.9,393.0 44.4,392.6 44.9,392.8 45.4,394.7 45.9,391.9 46.4,394.0 46.9,394.2 47.4,393.5 47.9,392.2 48.4,393.9 48.9,393.9 49.4,394.6 49.9,393.8 50.4,393.5 50.9,392.7 51.4,392.1 51.9,393.4 52.4,393.2 52.9,392.3 53.4,393.5 53.9,393.4 54.4,394.9 54.9,393.4 55.4,393.3 55.9,395.0 56.4,394.6 56.9,393.8 57.4,393.7 57.9,393.6 58.4,393.0 58.9,393.6 59.4,392.5 59.9,392.5 60.4,394.9 60.9,395.2 61.4,393.7 61.9,393.3 62.4,394.7 62.9,393.2 63.4,394.8 63.9,392.4 64.4,392.8 64.9,392.1 65.4,390.9 65.9,388.5 66.4,387.4 66.9,389.4 67.4,392.4 67.9,392.1 68.4,393.9 68.9,392.2 69.4,394.4 69.9,394.1 70.4,395.1 70.9,396.0 71.4,394.5 71.9,395.1 72.4,396.6 72.9,395.6 73.4,396.5 73.9,394.1 74.4,396.0 74.9,395.9 75.4,395.3 75.9,396.9 76.4,395.6 76.9,396.3 77.4,396.0 77.9,397.3 78.4,396.0 78.9,395.0 79.4,394.7 79.9,396.3 80.4,396.3 80.9,396.1 81.4,398.0 81.9,393.8 82.4,397.0 82.9,396.9 83.4,394.6 83.9,395.8 84.4,397.7 84.9,397.2 85.4,397.1 85.9,396.4 86.4,397.1 86.9,395.8 87.4,396.9 87.9,397.9 88.4,398.0 88.9,397.7 89.4,397.6 89.9,398.1 90.4,396.6 90.9,395.7 91.4,397.9 91.9,397.0 92.4,397.3 92.9,397.5 93.4,396.7 93.9,396.8 94.4,398.6 94.9,397.5 95.4,397.3 95.9,398.4 96.4,398.7 96.9,397.6 97.4,398.0 97.9,397.3 98.4,397.8 98.9,396.2 99.4,397.0 99.9,396.6 100.4,395.0 100.9,393.5 101.4,392.2 101.9,387.6 102.4,382.6 102.9,370.8 103.4,359.7 103.9,347.5 104.4,349.0 104.9,361.2 105.4,375.3 105.9,383.2 106.4,388.7 106.9,393.2 107.4,396.5 107.9,396.7 108.4,397.8 108.9,397.4 109.4,396.9 109.9,396.8 110.4,399.1 110.9,398.8 111.4,400.5 111.9,398.5 112.4,400.0 112.9,400.5 113.4,400.4 113.9,400.7 114.4,403.0 114.9,400.4 115.4,400.1 115.9,399.5 116.4,399.5 116.9,400.4 117.4,400.2 117.9,402.1 118.4,401.5 118.9,402.2 119.4,402.1 119.9,401.8 120.4,402.8 120.9,400.6 121.4,401.7 121.9,402.1 122.4,400.4 122.9,401.5 123.4,401.7 123.9,400.3 124.4,401.8 124.9,402.6 125.4,401.0 125.9,402.1 126.4,402.8 126.9,402.2 127.4,402.5 127.9,402.3 128.4,401.5 128.9,401.1 129.4,403.4 129.9,401.8 130.4,401.4 130.9,401.1 131.4,402.2 131.9,402.7 132.4,401.9 132.9,403.3 133.4,401.3 133.9,402.6 134.4,403.3 134.9,402.1 135.4,401.6 135.9,402.0 136.4,403.3 136.9,401.4 137.4,402.2 137.9,402.5 138.4,402.7 138.9,401.8 139.4,402.3 139.9,402.6 140.4,402.5 140.9,402.6 141.4,402.7 141.9,402.8 142.4,402.7 142.9,401.8 143.4,403.6 143.9,404.1 144.4,403.5 144.9,402.7 145.4,400.9 145.9,403.0 146.4,402.6 146.9,402.8 147.4,402.8 147.9,402.6 148.4,402.8 148.9,403.5 149.4,403.5 149.9,403.3 150.4,404.0 150.9,401.9 151.4,404.0 151.9,403.8 152.4,404.6 152.9,403.0 153.4,403.4 153.9,404.4 154.4,403.2 154.9,403.0 155.4,402.7 155.9,403.7 156.4,401.0 156.9,403.5 157.4,403.2 157.9,403.2 158.4,400.6 158.9,403.3 159.4,403.6 159.9,401.9 160.4,403.8 160.9,401.2 161.4,403.6 161.9,402.6 162.4,401.5 162.9,400.4 163.4,400.7 163.9,397.6 164.4,395.3 164.9,391.2 165.4,384.3 165.9,376.8 166.4,375.4 166.9,381.3 167.4,390.3 167.9,393.6 168.4,397.1 168.9,400.7 169.4,401.6 169.9,400.5 170.4,401.8 170.9,402.9 171.4,403.3 171.9,403.2 172.4,402.9 172.9,403.8 173.4,403.3 173.9,404.2 174.4,405.2 174.9,403.8 175.4,404.3 175.9,403.2 176.4,403.9 176.9,403.6 177.4,405.0 177.9,403.6 178.4,405.4 178.9,406.0 179.4,404.1 179.9,403.6 180.4,403.2 180.9,403.5 181.4,405.0 181.9,405.1 182.4,404.2 182.9,406.3 183.4,404.2 183.9,405.1 184.4,405.2 184.9,406.8 185.4,403.4 185.9,407.4 186.4,403.2 186.9,404.2 187.4,404.7 187.9,406.5 188.4,404.1 188.9,405.0 189.4,404.7 189.9,408.2 190.4,405.1 190.9,403.9 191.4,406.0 191.9,405.6 192.4,405.1 192.9,407.9 193.4,404.6 193.9,404.8 194.4,404.5 194.9,403.9 195.4,404.6 195.9,403.5 196.4,405.3 196.9,404.5 197.4,404.7 197.9,404.1 198.4,406.6 198.9,405.2 199.4,404.3 199.9,405.2 200.4,402.1 200.9,405.7 201.4,401.4 201.9,404.2 202.4,404.8 202.9,405.0 203.4,405.1 203.9,404.9 204.4,404.3 204.9,405.0 205.4,404.0 205.9,405.8 206.4,401.4 206.9,407.4 207.4,403.9 207.9,404.5 208.4,403.0 208.9,403.7 209.4,403.3 209.9,402.1 210.4,403.0 210.9,403.4 211.4,402.8 211.9,402.6 212.4,401.4 212.9,400.1 213.4,399.5 213.9,400.1 214.4,399.0 214.9,396.9 215.4,395.4 215.9,395.1 216.4,389.0 216.9,383.9 217.4,374.3 217.9,358.6 218.4,336.3 218.9,311.2 219.4,290.5 219.9,294.8 220.4,317.5 220.9,342.4 221.4,364.1 221.9,378.6 222.4,384.2 222.9,391.0 223.4,394.7 223.9,396.1 224.4,398.0 224.9,399.1 225.4,398.8 225.9,400.6 226.4,402.4 226.9,402.2 227.4,402.3 227.9,403.7 228.4,403.3 228.9,404.1 229.4,402.5 229.9,403.2 230.4,402.3 230.9,405.6 231.4,403.8 231.9,405.2 232.4,403.9 232.9,403.7 233.4,402.3 233.9,404.7 234.4,405.5 234.9,404.7 235.4,404.7 235.9,407.2 236.4,404.9 236.9,404.7 237.4,404.0 237.9,404.3 238.4,405.2 238.9,404.9 239.4,405.0 239.9,405.0 240.4,406.6 240.9,405.7 241.4,406.2 241.9,408.7 242.4,405.4 242.9,406.4 243.4,406.3 243.9,405.4 244.4,405.9 244.9,405.8 245.4,404.5 245.9,405.4 246.4,406.1 246.9,405.8 247.4,406.5 247.9,405.7 248.4,405.4 248.9,404.8 249.4,405.5 249.9,405.8 250.4,405.6 250.9,405.7 251.4,406.1 251.9,406.2 252.4,406.2 252.9,405.6 253.4,405.4 253.9,405.7 254.4,406.0 254.9,406.2 255.4,406.1 255.9,406.7 256.4,404.4 256.9,406.0 257.4,405.7 257.9,405.4 258.4,406.3 258.9,405.7 259.4,406.0 259.9,405.5 260.4,404.8 260.9,405.6 261.4,405.3 261.9,405.3 262.4,406.1 262.9,403.6 263.4,402.4 263.9,400.7 264.4,399.0 264.9,396.1 265.4,391.4 265.9,385.5 266.4,383.2 266.9,385.5 267.4,390.5 267.9,395.2 268.4,398.9 268.9,401.5 269.4,403.9 269.9,403.1 270.4,404.2 270.9,405.0 271.4,403.8 271.9,404.3 272.4,405.8 272.9,405.4 273.4,406.3 273.9,405.6 274.4,405.3 274.9,405.4 275.4,405.6 275.9,404.5 276.4,405.0 276.9,405.4 277.4,405.4 277.9,405.6 278.4,406.0 278.9,406.2 279.4,405.7 279.9,405.2 280.4,406.0 280.9,406.9 281.4,405.1 281.9,405.7 282.4,405.0 282.9,406.0 283.4,408.5 283.9,406.1 284.4,405.7 284.9,406.9 285.4,403.9 285.9,405.6 286.4,405.5 286.9,406.1 287.4,405.0 287.9,404.5 288.4,403.8 288.9,405.2 289.4,403.7 289.9,404.4 290.4,405.5 290.9,403.6 291.4,404.7 291.9,403.8 292.4,403.7 292.9,405.2 293.4,401.5 293.9,403.0 294.4,403.8 294.9,403.7 295.4,402.0 295.9,402.6 296.4,401.0 296.9,402.8 297.4,401.4 297.9,400.8 298.4,400.9 298.9,398.6 299.4,398.7 299.9,399.0 300.4,397.5 300.9,395.1 301.4,393.4 301.9,391.0 302.4,387.0 302.9,386.2 303.4,380.5 303.9,373.1 304.4,363.3 304.9,349.0 305.4,326.0 305.9,293.6 306.4,247.3 306.9,186.8 307.4,134.9 307.9,120.3 308.4,154.6 308.9,213.6 309.4,264.1 309.9,308.5 310.4,337.2 310.9,356.9 311.4,369.4 311.9,376.5 312.4,382.0 312.9,386.7 313.4,389.9 313.9,391.7 314.4,392.8 314.9,393.8 315.4,397.0 315.9,398.2 316.4,398.5 316.9,399.8 317.4,400.1 317.9,400.4 318.4,399.5 318.9,400.9 319.4,400.6 319.9,402.9 320.4,402.1 320.9,404.1 321.4,402.6 321.9,404.6 322.4,402.6 322.9,403.0 323.4,405.0 323.9,406.4 324.4,404.5 324.9,402.8 325.4,403.2 325.9,404.2 326.4,405.2 326.9,404.4 327.4,404.4 327.9,403.8 328.4,403.2 328.9,404.0 329.4,404.0 329.9,404.8 330.4,406.8 330.9,404.2 331.4,404.9 331.9,406.8 332.4,405.8 332.9,405.8 333.4,405.5 333.9,405.9 334.4,406.0 334.9,405.2 335.4,405.9 335.9,405.0 336.4,405.0 336.9,404.9 337.4,406.0 337.9,404.6 338.4,405.9 338.9,405.4 339.4,404.7 339.9,405.5 340.4,403.3 340.9,404.5 341.4,404.5 341.9,403.6 342.4,405.6 342.9,403.0 343.4,403.9 343.9,402.9 344.4,402.4 344.9,398.1 345.4,396.3 345.9,395.2 346.4,395.4 346.9,393.2 347.4,399.1 347.9,400.5 348.4,402.9 348.9,403.3 349.4,402.4 349.9,404.2 350.4,405.7 350.9,403.8 351.4,406.0 351.9,404.9 352.4,404.4 352.9,405.4 353.4,404.7 353.9,403.5 354.4,404.1 354.9,405.9 355.4,406.9 355.9,404.4 356.4,405.6 356.9,404.1 357.4,405.1 357.9,405.3 358.4,405.3 358.9,406.0 359.4,406.2 359.9,405.5 360.4,405.1 360.9,405.3 361.4,404.1 361.9,404.8 362.4,405.6 362.9,405.4 363.4,403.8 363.9,402.9 364.4,404.7 364.9,407.1 365.4,405.7 365.9,405.4 366.4,404.8 366.9,404.9 367.4,404.6 367.9,407.0 368.4,404.9 368.9,404.2 369.4,404.5 369.9,404.8 370.4,405.1 370.9,405.0 371.4,405.4 371.9,404.7 372.4,403.7 372.9,404.4 373.4,405.0 373.9,404.4 374.4,402.4 374.9,403.0 375.4,404.4 375.9,403.6 376.4,404.0 376.9,402.6 377.4,401.5 377.9,402.1 378.4,403.9 378.9,400.1 379.4,397.8 379.9,395.3 380.4,390.4 380.9,387.3 381.4,377.9 381.9,364.8 382.4,346.2 382.9,327.1 383.4,319.6 383.9,331.6 384.4,352.3 384.9,369.8 385.4,382.1 385.9,389.6 386.4,393.6 386.9,397.9 387.4,397.5 387.9,399.3 388.4,399.4 388.9,400.9 389.4,401.9 389.9,403.4 390.4,406.2 390.9,403.1 391.4,405.0 391.9,403.6 392.4,404.3 392.9,403.1 393.4,405.1 393.9,405.6 394.4,404.9 394.9,404.3 395.4,403.1 395.9,405.4 396.4,405.5 396.9,405.5 397.4,406.3 397.9,405.2 398.4,403.1 398.9,405.3 399.4,405.3 399.9,404.3 400.4,404.5 400.9,406.4 401.4,404.0 401.9,403.8 402.4,403.9 402.9,406.2 403.4,404.9 403.9,404.2 404.4,404.5 404.9,405.5 405.4,404.9 405.9,402.3 406.4,405.4 406.9,405.0 407.4,402.9 407.9,405.6 408.4,405.3 408.9,405.5 409.4,404.0 409.9,403.0 410.4,404.3 410.9,404.7 411.4,404.2 411.9,405.1 412.4,405.1 412.9,405.3 413.4,406.1 413.9,403.8 414.4,404.8 414.9,401.8 415.4,402.6 415.9,399.9 416.4,398.3 416.9,394.5 417.4,391.7 417.9,385.5 418.4,389.0 418.9,393.3 419.4,397.3 419.9,396.3 420.4,401.4 420.9,402.5 421.4,403.3 421.9,402.7 422.4,404.0 422.9,401.0 423.4,405.3 423.9,403.5 424.4,404.7 424.9,405.0 425.4,404.5 425.9,405.2 426.4,405.8 426.9,405.0 427.4,406.7 427.9,405.6 428.4,405.5 428.9,404.4 429.4,406.3 429.9,406.0 430.4,405.9 430.9,406.8 431.4,406.0 431.9,406.2 432.4,405.6 432.9,405.8 433.4,404.7 433.9,406.3 434.4,405.5 434.9,406.7 435.4,406.3 435.9,405.6 436.4,405.1 436.9,405.0 437.4,405.9 437.9,405.7 438.4,406.4 438.9,405.4 439.4,405.9 439.9,408.1 440.4,406.5 440.9,405.9 441.4,407.0 441.9,406.4 442.4,407.1 442.9,405.0 443.4,404.9 443.9,404.7 444.4,406.7 444.9,406.0 445.4,404.6 445.9,405.2 446.4,404.8 446.9,403.7 447.4,403.7 447.9,403.8 448.4,401.3 448.9,403.0 449.4,401.2 449.9,398.9 450.4,396.9 450.9,399.7 451.4,398.3 451.9,399.8 452.4,400.6 452.9,402.9 453.4,405.3 453.9,404.9 454.4,405.1 454.9,404.8 455.4,404.8 455.9,406.3 456.4,406.8 456.9,405.1 457.4,406.0 457.9,408.2 458.4,405.7 458.9,406.4 459.4,407.7 459.9,405.2 460.4,407.7 460.9,406.3 461.4,406.1 461.9,406.6 462.4,406.3 462.9,408.1 463.4,406.3 463.9,406.2 464.4,407.7 464.9,407.6 465.4,405.7 465.9,407.3 466.4,405.7 466.9,404.9 467.4,406.2 467.9,407.2 468.4,406.3 468.9,406.4 469.4,406.4 469.9,405.9 470.4,406.7 470.9,405.9 471.4,405.2 471.9,406.2 472.4,405.5 472.9,404.8 473.4,405.3 473.9,405.8 474.4,406.8 474.9,407.6 475.4,404.4 475.9,404.4 476.4,403.7 476.9,400.7 477.4,401.8 477.9,401.4 478.4,398.3 478.9,397.5 479.4,392.8 479.9,386.1 480.4,376.6 480.9,363.4 481.4,348.4 481.9,336.1 482.4,339.1 482.9,351.5 483.4,368.5 483.9,381.4 484.4,390.1 484.9,394.3 485.4,398.1 485.9,401.5 486.4,401.6 486.9,401.9 487.4,403.2 487.9,404.8 488.4,404.1 488.9,404.6 489.4,406.3 489.9,405.6 490.4,406.8 490.9,405.2 491.4,405.8 491.9,406.3 492.4,407.6 492.9,406.6 493.4,407.5 493.9,406.1 494.4,408.7 494.9,408.9 495.4,407.4 495.9,407.7 496.4,406.9 496.9,407.5 497.4,408.1 497.9,408.1 498.4,409.2 498.9,408.6 499.4,407.5 499.9,404.0 500.4,408.2 500.9,408.2 501.4,407.8 501.9,407.8 502.4,405.8 502.9,406.7 503.4,407.7 503.9,407.7 504.4,407.7 504.9,408.5 505.4,409.0 505.9,409.3 506.4,408.2 506.9,410.6 507.4,407.8 507.9,407.0 508.4,409.2 508.9,407.2 509.4,406.5 509.9,407.8 510.4,405.8 510.9,406.6 511.4,407.2 511.9,407.4 512.4,408.3 512.9,408.1 513.4,407.2 513.9,407.1 514.4,407.6 514.9,406.8 515.4,406.6 515.9,409.0 516.4,407.9 516.9,408.1 517.4,408.8 517.9,405.9 518.4,408.3 518.9,410.7 519.4,407.2 519.9,406.2 520.4,408.0 520.9,409.7 521.4,406.7 521.9,406.5 522.4,404.7 522.9,407.9 523.4,407.7 523.9,407.4 524.4,408.0 524.9,405.8 525.4,408.0 525.9,406.9 526.4,407.1 526.9,408.5 527.4,407.9 527.9,410.0 528.4,407.0 528.9,407.7 529.4,409.0 529.9,407.5 530.4,407.2 530.9,408.2 531.4,406.3 531.9,404.7 532.4,408.1 532.9,406.9 533.4,408.6 533.9,407.3 534.4,409.7 534.9,403.9 535.4,405.8 535.9,405.3 536.4,405.2 536.9,404.4 537.4,402.5 537.9,401.4 538.4,397.1 538.9,395.8 539.4,388.0 539.9,378.8 540.4,373.8 540.9,370.5 541.4,375.5 541.9,382.6 542.4,390.7 542.9,395.4 543.4,399.3 543.9,401.5 544.4,403.1 544.9,404.5 545.4,405.2 545.9,405.7 546.4,406.7 546.9,406.6 547.4,404.5 547.9,406.9 548.4,407.9 548.9,405.9 549.4,406.5 549.9,407.1 550.4,407.8 550.9,407.2 551.4,407.8 551.9,406.9 552.4,407.6 552.9,407.8 553.4,411.1 553.9,408.4 554.4,407.7 554.9,408.7 555.4,408.1 555.9,407.3 556.4,406.9 556.9,408.3 557.4,410.1 557.9,408.0 558.4,407.6 L558.4,417.2 Z" fill="#008CFF"/>
<path d="M8.4,429.8 L8.4,397.5 8.9,398.7 9.4,397.7 9.9,398.6 10.4,397.1 10.9,397.1 11.4,397.4 11.9,397.4 12.4,395.4 12.9,395.9 13.4,395.4 13.9,396.1 14.4,394.8 14.9,394.4 15.4,393.0 15.9,394.6 16.4,392.2 16.9,391.4 17.4,388.5 17.9,387.6 18.4,385.6 18.9,380.4 19.4,376.1 19.9,368.9 20.4,355.9 20.9,337.0 21.4,310.6 21.9,277.8 22.4,247.3 22.9,236.4 23.4,254.1 23.9,286.4 24.4,318.6 24.9,342.1 25.4,360.4 25.9,372.4 26.4,379.6 26.9,384.3 27.4,387.0 27.9,393.2 28.4,393.5 28.9,394.3 29.4,396.9 29.9,393.8 30.4,399.1 30.9,397.4 31.4,398.8 31.9,399.3 32.4,399.9 32.9,401.1 33.4,400.8 33.9,398.5 34.4,401.7 34.9,402.7 35.4,401.7 35.9,402.2 36.4,403.3 36.9,402.2 37.4,402.9 37.9,403.7 38.4,403.4 38.9,404.3 39.4,404.7 39.9,403.8 40.4,403.6 40.9,405.8 41.4,404.7 41.9,406.9 42.4,404.8 42.9,406.6 43.4,404.2 43.9,405.7 44.4,406.2 44.9,406.1 45.4,405.0 45.9,405.6 46.4,406.0 46.9,404.9 47.4,406.0 47.9,406.2 48.4,407.0 48.9,405.5 49.4,407.1 49.9,406.2 50.4,406.5 50.9,405.7 51.4,405.3 51.9,405.2 52.4,406.5 52.9,407.3 53.4,408.0 53.9,405.2 54.4,408.1 54.9,407.0 55.4,406.0 55.9,407.4 56.4,406.5 56.9,407.5 57.4,407.9 57.9,407.2 58.4,408.2 58.9,406.4 59.4,407.3 59.9,405.8 60.4,407.1 60.9,405.0 61.4,408.0 61.9,407.1 62.4,406.4 62.9,407.3 63.4,406.6 63.9,404.9 64.4,403.9 64.9,401.6 65.4,401.4 65.9,397.8 66.4,401.9 66.9,405.1 67.4,404.9 67.9,406.8 68.4,407.0 68.9,408.2 69.4,406.0 69.9,409.0 70.4,407.4 70.9,407.2 71.4,408.3 71.9,409.3 72.4,407.5 72.9,408.9 73.4,409.1 73.9,407.2 74.4,409.5 74.9,409.3 75.4,409.1 75.9,410.3 76.4,410.0 76.9,407.9 77.4,410.5 77.9,409.9 78.4,409.3 78.9,409.3 79.4,410.2 79.9,410.4 80.4,409.9 80.9,410.4 81.4,409.8 81.9,410.8 82.4,412.1 82.9,409.3 83.4,409.9 83.9,409.4 84.4,409.4 84.9,409.7 85.4,410.3 85.9,411.9 86.4,411.1 86.9,408.9 87.4,409.3 87.9,412.0 88.4,409.5 88.9,411.2 89.4,411.4 89.9,410.9 90.4,409.4 90.9,411.2 91.4,411.6 91.9,409.3 92.4,410.2 92.9,409.6 93.4,409.6 93.9,411.0 94.4,411.9 94.9,415.3 95.4,411.7 95.9,411.7 96.4,410.7 96.9,408.7 97.4,409.7 97.9,409.1 98.4,408.6 98.9,408.7 99.4,408.4 99.9,408.6 100.4,405.1 100.9,401.7 101.4,399.2 101.9,391.4 102.4,381.5 102.9,365.9 103.4,355.0 103.9,357.9 104.4,372.8 104.9,384.3 105.4,395.3 105.9,401.6 106.4,403.7 106.9,406.1 107.4,408.1 107.9,411.8 108.4,410.3 108.9,410.6 109.4,410.5 109.9,411.8 110.4,411.0 110.9,412.5 111.4,414.5 111.9,412.0 112.4,412.8 112.9,412.3 113.4,412.6 113.9,413.7 114.4,412.3 114.9,413.3 115.4,412.4 115.9,412.3 116.4,414.3 116.9,413.6 117.4,413.0 117.9,413.8 118.4,413.1 118.9,414.4 119.4,414.7 119.9,414.5 120.4,413.2 120.9,414.3 121.4,416.4 121.9,415.3 122.4,414.6 122.9,414.9 123.4,413.4 123.9,414.6 124.4,415.0 124.9,415.0 125.4,413.5 125.9,416.0 126.4,415.0 126.9,415.1 127.4,415.0 127.9,414.1 128.4,414.7 128.9,414.5 129.4,414.4 129.9,415.4 130.4,415.1 130.9,415.3 131.4,415.3 131.9,413.5 132.4,415.6 132.9,417.2 133.4,415.2 133.9,414.1 134.4,414.6 134.9,415.2 135.4,415.6 135.9,415.6 136.4,415.5 136.9,415.5 137.4,415.3 137.9,414.9 138.4,416.1 138.9,415.1 139.4,416.8 139.9,415.3 140.4,415.1 140.9,416.4 141.4,415.1 141.9,415.7 142.4,415.8 142.9,415.8 143.4,415.5 143.9,416.7 144.4,415.9 144.9,416.9 145.4,416.5 145.9,415.7 146.4,417.3 146.9,415.6 147.4,415.8 147.9,417.8 148.4,416.5 148.9,416.7 149.4,416.3 149.9,415.3 150.4,414.9 150.9,416.6 151.4,415.2 151.9,416.8 152.4,416.3 152.9,416.4 153.4,416.0 153.9,415.2 154.4,417.2 154.9,416.3 155.4,418.0 155.9,416.8 156.4,416.8 156.9,417.4 157.4,415.7 157.9,416.8 158.4,416.2 158.9,416.1 159.4,415.7 159.9,416.3 160.4,416.8 160.9,414.3 161.4,414.9 161.9,414.6 162.4,412.3 162.9,413.1 163.4,409.2 163.9,406.6 164.4,398.6 164.9,390.5 165.4,386.2 165.9,388.9 166.4,396.1 166.9,403.1 167.4,408.0 167.9,411.4 168.4,413.1 168.9,414.0 169.4,414.4 169.9,413.8 170.4,415.8 170.9,415.5 171.4,416.4 171.9,416.7 172.4,415.2 172.9,417.6 173.4,415.5 173.9,416.3 174.4,416.0 174.9,417.7 175.4,418.0 175.9,415.7 176.4,417.3 176.9,417.5 177.4,417.2 177.9,417.2 178.4,420.2 178.9,416.2 179.4,417.4 179.9,416.7 180.4,417.4 180.9,417.0 181.4,418.0 181.9,416.9 182.4,417.7 182.9,415.8 183.4,417.3 183.9,417.4 184.4,415.8 184.9,418.7 185.4,417.1 185.9,418.1 186.4,417.2 186.9,418.0 187.4,417.8 187.9,416.8 188.4,418.7 188.9,418.0 189.4,417.4 189.9,415.7 190.4,418.1 190.9,417.8 191.4,418.8 191.9,416.4 192.4,418.3 192.9,417.3 193.4,418.5 193.9,417.2 194.4,418.2 194.9,418.3 195.4,418.3 195.9,417.2 196.4,417.9 196.9,418.7 197.4,416.9 197.9,418.0 198.4,417.5 198.9,417.3 199.4,417.5 199.9,417.2 200.4,415.5 200.9,417.3 201.4,417.4 201.9,417.1 202.4,417.3 202.9,418.0 203.4,416.8 203.9,417.9 204.4,417.3 204.9,418.5 205.4,417.6 205.9,417.0 206.4,416.1 206.9,416.8 207.4,417.8 207.9,417.2 208.4,417.1 208.9,417.1 209.4,415.8 209.9,416.1 210.4,415.9 210.9,412.8 211.4,415.6 211.9,413.8 212.4,412.8 212.9,412.1 213.4,410.7 213.9,410.3 214.4,409.1 214.9,406.0 215.4,402.7 215.9,397.5 216.4,387.0 216.9,375.9 217.4,351.6 217.9,323.8 218.4,301.2 218.9,292.8 219.4,315.2 219.9,343.0 220.4,367.4 220.9,383.1 221.4,393.9 221.9,401.0 222.4,405.0 222.9,408.9 223.4,410.7 223.9,411.1 224.4,413.4 224.9,413.3 225.4,413.9 225.9,415.4 226.4,416.2 226.9,415.0 227.4,415.1 227.9,414.8 228.4,416.1 228.9,416.1 229.4,417.7 229.9,417.5 230.4,416.8 230.9,417.8 231.4,417.3 231.9,416.6 232.4,417.9 232.9,417.9 233.4,416.2 233.9,417.6 234.4,417.5 234.9,417.7 235.4,418.7 235.9,418.9 236.4,417.4 236.9,416.7 237.4,417.5 237.9,416.6 238.4,418.8 238.9,416.8 239.4,422.2 239.9,417.7 240.4,417.0 240.9,419.1 241.4,419.3 241.9,421.8 242.4,418.4 242.9,418.9 243.4,418.2 243.9,419.3 244.4,418.6 244.9,418.2 245.4,418.9 245.9,419.8 246.4,418.0 246.9,417.9 247.4,418.8 247.9,418.7 248.4,417.9 248.9,419.2 249.4,420.9 249.9,419.7 250.4,418.1 250.9,420.1 251.4,419.4 251.9,418.7 252.4,417.8 252.9,416.9 253.4,420.2 253.9,419.5 254.4,418.5 254.9,418.1 255.4,418.7 255.9,417.4 256.4,418.4 256.9,419.2 257.4,419.6 257.9,419.1 258.4,418.1 258.9,418.1 259.4,420.3 259.9,419.2 260.4,417.9 260.9,417.8 261.4,417.2 261.9,417.8 262.4,415.4 262.9,415.7 263.4,411.1 263.9,406.9 264.4,403.7 264.9,397.9 265.4,393.4 265.9,393.9 266.4,400.2 266.9,407.8 267.4,410.9 267.9,414.7 268.4,415.0 268.9,416.0 269.4,417.3 269.9,416.4 270.4,417.3 270.9,417.2 271.4,417.9 271.9,418.0 272.4,416.2 272.9,418.1 273.4,419.9 273.9,419.3 274.4,418.4 274.9,418.4 275.4,419.2 275.9,419.0 276.4,416.9 276.9,418.5 277.4,418.8 277.9,418.4 278.4,417.8 278.9,420.2 279.4,420.5 279.9,418.7 280.4,418.0 280.9,418.3 281.4,418.7 281.9,416.8 282.4,418.9 282.9,417.9 283.4,419.3 283.9,419.8 284.4,419.2 284.9,418.1 285.4,417.1 285.9,418.7 286.4,418.3 286.9,418.8 287.4,417.8 287.9,416.8 288.4,417.1 288.9,420.4 289.4,417.9 289.9,417.1 290.4,417.7 290.9,417.6 291.4,416.2 291.9,417.1 292.4,415.9 292.9,417.3 293.4,417.8 293.9,415.3 294.4,416.4 294.9,415.3 295.4,417.7 295.9,413.2 296.4,414.1 296.9,413.8 297.4,411.1 297.9,410.7 298.4,410.7 298.9,409.1 299.4,409.0 299.9,407.0 300.4,404.7 300.9,403.1 301.4,399.0 301.9,396.3 302.4,389.4 302.9,381.0 303.4,369.6 303.9,351.1 304.4,323.6 304.9,283.6 305.4,231.4 305.9,171.3 306.4,133.8 306.9,138.2 307.4,187.8 307.9,248.2 308.4,296.5 308.9,333.1 309.4,357.0 309.9,374.7 310.4,384.1 310.9,392.5 311.4,398.1 311.9,399.4 312.4,403.5 312.9,406.1 313.4,408.0 313.9,407.5 314.4,410.2 314.9,410.1 315.4,412.3 315.9,412.4 316.4,413.5 316.9,413.4 317.4,414.5 317.9,414.8 318.4,414.8 318.9,414.1 319.4,416.1 319.9,416.9 320.4,414.8 320.9,415.1 321.4,416.5 321.9,415.8 322.4,416.3 322.9,415.9 323.4,417.4 323.9,416.0 324.4,414.4 324.9,415.3 325.4,414.1 325.9,413.3 326.4,414.5 326.9,414.1 327.4,416.7 327.9,417.7 328.4,416.4 328.9,416.9 329.4,419.0 329.9,418.1 330.4,419.7 330.9,418.0 331.4,416.7 331.9,418.3 332.4,417.8 332.9,417.5 333.4,418.2 333.9,417.4 334.4,417.2 334.9,419.3 335.4,416.7 335.9,419.0 336.4,417.7 336.9,416.9 337.4,418.0 337.9,417.0 338.4,416.9 338.9,418.1 339.4,416.6 339.9,416.5 340.4,417.5 340.9,416.5 341.4,416.1 341.9,417.4 342.4,415.6 342.9,413.5 343.4,411.9 343.9,408.0 344.4,406.9 344.9,405.8 345.4,408.3 345.9,410.0 346.4,412.4 346.9,414.7 347.4,415.4 347.9,417.1 348.4,417.0 348.9,416.6 349.4,416.6 349.9,418.2 350.4,418.5 350.9,418.8 351.4,417.6 351.9,417.9 352.4,416.7 352.9,418.3 353.4,417.5 353.9,418.0 354.4,418.8 354.9,418.3 355.4,417.1 355.9,419.5 356.4,417.2 356.9,418.4 357.4,418.2 357.9,418.6 358.4,416.1 358.9,418.0 359.4,418.1 359.9,418.3 360.4,420.3 360.9,418.0 361.4,418.1 361.9,417.7 362.4,417.2 362.9,418.1 363.4,417.6 363.9,417.6 364.4,415.3 364.9,416.5 365.4,417.0 365.9,417.6 366.4,418.4 366.9,416.6 367.4,417.1 367.9,416.7 368.4,418.3 368.9,418.3 369.4,418.6 369.9,417.1 370.4,417.6 370.9,416.1 371.4,417.6 371.9,416.7 372.4,416.3 372.9,416.7 373.4,416.1 373.9,416.1 374.4,418.0 374.9,415.3 375.4,415.9 375.9,414.0 376.4,415.9 376.9,413.5 377.4,413.4 377.9,408.8 378.4,408.9 378.9,404.8 379.4,401.7 379.9,393.2 380.4,380.2 380.9,361.3 381.4,340.2 381.9,326.4 382.4,332.0 382.9,352.9 383.4,373.3 383.9,387.9 384.4,397.3 384.9,404.4 385.4,407.2 385.9,409.2 386.4,411.7 386.9,412.3 387.4,414.1 387.9,414.8 388.4,415.1 388.9,416.2 389.4,416.2 389.9,416.8 390.4,416.5 390.9,416.5 391.4,416.0 391.9,417.0 392.4,417.2 392.9,416.5 393.4,416.6 393.9,418.4 394.4,417.9 394.9,417.7 395.4,417.3 395.9,417.3 396.4,418.8 396.9,417.6 397.4,417.9 397.9,417.0 398.4,418.0 398.9,418.7 399.4,417.2 399.9,416.7 400.4,416.5 400.9,418.0 401.4,417.7 401.9,418.0 402.4,421.2 402.9,416.3 403.4,417.7 403.9,417.3 404.4,418.4 404.9,417.4 405.4,417.8 405.9,417.2 406.4,416.4 406.9,418.6 407.4,416.2 407.9,417.5 408.4,419.2 408.9,418.1 409.4,416.4 409.9,417.5 410.4,417.2 410.9,419.8 411.4,419.3 411.9,416.5 412.4,414.5 412.9,417.5 413.4,415.7 413.9,415.3 414.4,411.7 414.9,410.7 415.4,406.8 415.9,404.9 416.4,401.7 416.9,402.3 417.4,404.8 417.9,410.2 418.4,412.2 418.9,414.5 419.4,414.4 419.9,415.6 420.4,416.2 420.9,417.6 421.4,416.3 421.9,417.5 422.4,418.5 422.9,419.1 423.4,418.0 423.9,418.5 424.4,417.8 424.9,417.8 425.4,417.8 425.9,416.6 426.4,419.0 426.9,418.8 427.4,419.5 427.9,419.3 428.4,419.1 428.9,419.7 429.4,417.5 429.9,417.0 430.4,418.4 430.9,419.0 431.4,418.1 431.9,417.9 432.4,418.9 432.9,421.2 433.4,418.4 433.9,419.1 434.4,418.1 434.9,419.3 435.4,419.8 435.9,419.2 436.4,418.4 436.9,419.1 437.4,418.7 437.9,417.0 438.4,418.2 438.9,419.4 439.4,418.5 439.9,419.3 440.4,419.0 440.9,418.8 441.4,419.4 441.9,418.3 442.4,419.8 442.9,418.2 443.4,419.1 443.9,416.6 444.4,418.7 444.9,418.8 445.4,417.7 445.9,415.4 446.4,416.9 446.9,416.7 447.4,414.6 447.9,412.6 448.4,410.9 448.9,409.8 449.4,409.7 449.9,407.9 450.4,412.4 450.9,413.9 451.4,416.1 451.9,415.6 452.4,417.8 452.9,417.0 453.4,418.9 453.9,419.4 454.4,417.4 454.9,418.8 455.4,417.4 455.9,418.8 456.4,419.9 456.9,418.6 457.4,419.1 457.9,418.5 458.4,419.3 458.9,418.4 459.4,419.2 459.9,419.9 460.4,418.4 460.9,419.0 461.4,418.2 461.9,418.2 462.4,418.9 462.9,418.4 463.4,419.5 463.9,419.2 464.4,418.1 464.9,420.4 465.4,418.8 465.9,419.4 466.4,419.4 466.9,418.3 467.4,418.2 467.9,418.3 468.4,418.1 468.9,419.7 469.4,421.0 469.9,419.4 470.4,417.8 470.9,417.8 471.4,417.9 471.9,417.3 472.4,419.1 472.9,419.2 473.4,416.2 473.9,419.2 474.4,415.9 474.9,414.8 475.4,414.0 475.9,414.9 476.4,412.1 476.9,406.8 477.4,405.8 477.9,401.2 478.4,389.0 478.9,376.2 479.4,360.1 479.9,344.2 480.4,338.6 480.9,349.9 481.4,366.6 481.9,382.4 482.4,394.7 482.9,401.9 483.4,407.4 483.9,411.1 484.4,411.9 484.9,413.5 485.4,415.8 485.9,415.8 486.4,417.2 486.9,416.8 487.4,417.5 487.9,420.2 488.4,418.2 488.9,419.7 489.4,419.2 489.9,418.9 490.4,419.5 490.9,420.3 491.4,420.0 491.9,419.2 492.4,418.9 492.9,420.3 493.4,419.4 493.9,419.7 494.4,420.6 494.9,420.5 495.4,420.8 495.9,419.3 496.4,421.9 496.9,420.3 497.4,420.3 497.9,420.2 498.4,420.5 498.9,420.4 499.4,419.6 499.9,420.6 500.4,420.4 500.9,418.4 501.4,421.2 501.9,419.3 502.4,420.0 502.9,420.8 503.4,419.1 503.9,419.8 504.4,419.7 504.9,418.7 505.4,416.9 505.9,421.3 506.4,420.4 506.9,420.8 507.4,420.0 507.9,418.5 508.4,420.5 508.9,420.3 509.4,419.1 509.9,420.3 510.4,419.4 510.9,418.2 511.4,420.2 511.9,420.8 512.4,420.4 512.9,422.4 513.4,420.3 513.9,421.6 514.4,420.3 514.9,419.6 515.4,421.1 515.9,420.6 516.4,420.0 516.9,420.4 517.4,419.9 517.9,420.1 518.4,420.5 518.9,417.5 519.4,418.8 519.9,418.3 520.4,419.8 520.9,420.0 521.4,420.3 521.9,420.5 522.4,421.8 522.9,419.3 523.4,419.8 523.9,419.8 524.4,421.0 524.9,420.5 525.4,420.0 525.9,419.9 526.4,421.5 526.9,421.1 527.4,420.6 527.9,421.2 528.4,421.2 528.9,419.2 529.4,419.4 529.9,419.4 530.4,420.1 530.9,419.4 531.4,419.8 531.9,418.7 532.4,419.5 532.9,416.8 533.4,417.9 533.9,419.9 534.4,416.5 534.9,416.3 535.4,414.1 535.9,413.6 536.4,409.6 536.9,405.2 537.4,401.1 537.9,390.0 538.4,383.9 538.9,378.3 539.4,381.7 539.9,389.6 540.4,400.7 540.9,405.2 541.4,410.4 541.9,413.2 542.4,414.7 542.9,414.8 543.4,418.8 543.9,418.0 544.4,418.4 544.9,418.6 545.4,420.0 545.9,419.0 546.4,420.3 546.9,419.6 547.4,419.7 547.9,421.3 548.4,420.8 548.9,420.8 549.4,421.6 549.9,417.3 550.4,421.0 550.9,420.2 551.4,420.8 551.9,421.4 552.4,418.8 552.9,420.4 553.4,421.4 553.9,418.9 554.4,418.9 554.9,421.5 555.4,420.2 555.9,420.8 556.4,419.9 556.9,417.3 557.4,421.5 557.9,420.2 558.4,420.6 L558.4,429.8 Z" fill="#1050FF"/>
<path d="M8.4,442.5 L8.4,411.1 8.9,410.5 9.4,409.4 9.9,407.7 10.4,410.3 10.9,409.6 11.4,408.3 11.9,409.3 12.4,407.6 12.9,407.2 13.4,410.2 13.9,406.9 14.4,405.9 14.9,408.4 15.4,404.8 15.9,402.4 16.4,402.2 16.9,398.3 17.4,396.4 17.9,391.9 18.4,385.2 18.9,375.6 19.4,362.2 19.9,341.4 20.4,312.0 20.9,278.4 21.4,248.3 21.9,242.3 22.4,266.5 22.9,301.7 23.4,335.2 23.9,356.8 24.4,373.2 24.9,385.2 25.4,392.8 25.9,395.2 26.4,399.5 26.9,404.1 27.4,403.8 27.9,407.6 28.4,407.9 28.9,408.4 29.4,407.4 29.9,409.7 30.4,411.4 30.9,412.3 31.4,413.0 31.9,413.9 32.4,414.3 32.9,415.1 33.4,411.8 33.9,414.8 34.4,415.9 34.9,414.4 35.4,416.3 35.9,415.8 36.4,416.4 36.9,416.9 37.4,418.4 37.9,416.6 38.4,415.4 38.9,418.1 39.4,418.4 39.9,418.1 40.4,417.4 40.9,418.4 41.4,421.1 41.9,417.8 42.4,418.0 42.9,418.6 43.4,417.4 43.9,418.3 44.4,419.7 44.9,419.4 45.4,419.9 45.9,417.8 46.4,417.7 46.9,417.8 47.4,418.8 47.9,419.8 48.4,418.7 48.9,419.5 49.4,418.7 49.9,419.7 50.4,417.4 50.9,419.2 51.4,419.7 51.9,419.0 52.4,419.9 52.9,420.3 53.4,419.7 53.9,420.0 54.4,418.9 54.9,418.2 55.4,418.9 55.9,419.5 56.4,418.5 56.9,419.0 57.4,418.3 57.9,419.1 58.4,419.6 58.9,419.1 59.4,420.9 59.9,420.4 60.4,418.2 60.9,420.0 61.4,420.1 61.9,419.4 62.4,418.6 62.9,417.0 63.4,415.4 63.9,414.6 64.4,412.9 64.9,412.6 65.4,413.3 65.9,417.0 66.4,418.1 66.9,419.6 67.4,420.3 67.9,420.4 68.4,421.5 68.9,421.2 69.4,421.2 69.9,419.7 70.4,421.2 70.9,420.5 71.4,420.9 71.9,422.2 72.4,421.9 72.9,422.9 73.4,421.0 73.9,421.2 74.4,421.3 74.9,424.8 75.4,422.7 75.9,422.4 76.4,421.7 76.9,421.8 77.4,421.5 77.9,422.7 78.4,421.9 78.9,421.1 79.4,424.0 79.9,424.3 80.4,422.7 80.9,422.3 81.4,423.2 81.9,422.2 82.4,424.0 82.9,423.8 83.4,423.0 83.9,423.2 84.4,423.0 84.9,422.4 85.4,422.9 85.9,424.0 86.4,424.4 86.9,423.8 87.4,423.7 87.9,422.4 88.4,423.1 88.9,422.0 89.4,425.1 89.9,424.3 90.4,424.2 90.9,423.9 91.4,423.4 91.9,423.5 92.4,422.8 92.9,422.4 93.4,423.5 93.9,423.3 94.4,421.9 94.9,424.0 95.4,422.3 95.9,422.2 96.4,421.7 96.9,421.5 97.4,421.2 97.9,419.6 98.4,419.4 98.9,417.3 99.4,418.0 99.9,409.4 100.4,402.6 100.9,392.0 101.4,374.0 101.9,362.6 102.4,364.4 102.9,379.7 103.4,395.1 103.9,404.9 104.4,413.1 104.9,416.2 105.4,417.4 105.9,417.7 106.4,424.0 106.9,423.5 107.4,423.3 107.9,423.8 108.4,424.2 108.9,424.6 109.4,424.9 109.9,425.3 110.4,426.1 110.9,426.0 111.4,425.7 111.9,426.2 112.4,425.7 112.9,425.3 113.4,426.2 113.9,426.9 114.4,427.3 114.9,423.9 115.4,426.9 115.9,427.4 116.4,426.9 116.9,426.8 117.4,426.7 117.9,428.1 118.4,427.0 118.9,427.2 119.4,427.6 119.9,425.8 120.4,427.7 120.9,426.1 121.4,427.0 121.9,427.0 122.4,429.8 122.9,426.8 123.4,428.7 123.9,428.6 124.4,428.7 124.9,426.1 125.4,427.8 125.9,427.8 126.4,427.4 126.9,428.0 127.4,428.1 127.9,426.0 128.4,428.9 128.9,427.7 129.4,427.1 129.9,428.0 130.4,427.8 130.9,429.8 131.4,429.6 131.9,429.6 132.4,427.4 132.9,429.0 133.4,428.4 133.9,427.2 134.4,429.8 134.9,429.3 135.4,428.6 135.9,429.7 136.4,427.8 136.9,428.2 137.4,428.3 137.9,429.5 138.4,428.9 138.9,429.1 139.4,429.1 139.9,428.1 140.4,428.5 140.9,430.0 141.4,428.6 141.9,428.2 142.4,429.3 142.9,429.2 143.4,428.3 143.9,432.0 144.4,428.1 144.9,429.7 145.4,429.3 145.9,429.5 146.4,430.1 146.9,428.2 147.4,430.2 147.9,429.2 148.4,431.0 148.9,429.6 149.4,429.9 149.9,428.4 150.4,429.2 150.9,430.5 151.4,429.0 151.9,428.1 152.4,429.2 152.9,429.1 153.4,429.2 153.9,427.3 154.4,429.0 154.9,429.1 155.4,429.5 155.9,426.5 156.4,428.5 156.9,428.4 157.4,429.4 157.9,428.6 158.4,426.9 158.9,426.6 159.4,429.2 159.9,426.9 160.4,426.0 160.9,423.9 161.4,421.3 161.9,417.7 162.4,410.7 162.9,403.0 163.4,394.0 163.9,396.6 164.4,405.3 164.9,413.6 165.4,419.4 165.9,422.7 166.4,425.4 166.9,426.6 167.4,428.3 167.9,427.7 168.4,427.8 168.9,428.8 169.4,429.5 169.9,429.2 170.4,428.5 170.9,429.8 171.4,430.0 171.9,429.7 172.4,429.2 172.9,429.6 173.4,430.0 173.9,430.7 174.4,429.4 174.9,430.8 175.4,431.4 175.9,429.0 176.4,428.6 176.9,430.5 177.4,429.8 177.9,430.7 178.4,429.6 178.9,429.6 179.4,429.3 179.9,430.6 180.4,430.8 180.9,428.9 181.4,430.3 181.9,431.7 182.4,431.0 182.9,430.3 183.4,428.1 183.9,431.3 184.4,430.7 184.9,430.2 185.4,431.9 185.9,431.2 186.4,430.0 186.9,431.1 187.4,430.7 187.9,432.2 188.4,430.9 188.9,430.5 189.4,430.9 189.9,429.5 190.4,431.1 190.9,432.0 191.4,430.9 191.9,430.9 192.4,431.5 192.9,430.6 193.4,429.2 193.9,430.8 194.4,430.6 194.9,428.8 195.4,430.9 195.9,431.6 196.4,430.2 196.9,429.9 197.4,430.7 197.9,431.7 198.4,427.1 198.9,430.1 199.4,429.7 199.9,430.9 200.4,430.5 200.9,431.0 201.4,432.4 201.9,430.4 202.4,430.0 202.9,429.8 203.4,430.6 203.9,430.6 204.4,430.2 204.9,429.3 205.4,428.7 205.9,428.8 206.4,427.5 206.9,429.3 207.4,428.8 207.9,432.6 208.4,427.3 208.9,426.4 209.4,426.1 209.9,424.8 210.4,425.8 210.9,426.3 211.4,422.9 211.9,420.7 212.4,419.0 212.9,415.2 213.4,410.0 213.9,401.2 214.4,390.9 214.9,372.3 215.4,346.7 215.9,314.2 216.4,292.2 216.9,303.3 217.4,333.2 217.9,362.8 218.4,383.8 218.9,399.0 219.4,407.6 219.9,413.6 220.4,417.1 220.9,420.1 221.4,422.1 221.9,425.5 222.4,425.7 222.9,424.5 223.4,426.5 223.9,427.9 224.4,428.2 224.9,427.1 225.4,428.3 225.9,428.8 226.4,429.5 226.9,431.2 227.4,428.3 227.9,430.8 228.4,429.8 228.9,431.5 229.4,429.3 229.9,430.0 230.4,430.0 230.9,433.2 231.4,431.3 231.9,430.4 232.4,430.8 232.9,430.7 233.4,431.2 233.9,431.3 234.4,431.5 234.9,432.0 235.4,431.6 235.9,432.6 236.4,432.6 236.9,431.3 237.4,430.8 237.9,431.4 238.4,433.0 238.9,430.9 239.4,431.2 239.9,432.3 240.4,430.8 240.9,430.6 241.4,433.5 241.9,433.1 242.4,432.5 242.9,431.5 243.4,432.0 243.9,430.7 244.4,431.5 244.9,433.5 245.4,433.0 245.9,431.6 246.4,434.0 246.9,432.8 247.4,431.9 247.9,431.1 248.4,431.5 248.9,432.7 249.4,431.5 249.9,431.1 250.4,432.2 250.9,432.8 251.4,431.0 251.9,431.2 252.4,432.0 252.9,432.2 253.4,431.0 253.9,431.4 254.4,430.9 254.9,434.0 255.4,432.2 255.9,431.6 256.4,429.9 256.9,431.0 257.4,433.2 257.9,430.9 258.4,429.3 258.9,429.2 259.4,428.8 259.9,428.3 260.4,428.5 260.9,423.4 261.4,421.2 261.9,412.9 262.4,406.0 262.9,402.8 263.4,406.7 263.9,412.5 264.4,419.4 264.9,423.8 265.4,426.1 265.9,427.4 266.4,426.7 266.9,429.3 267.4,429.6 267.9,431.1 268.4,430.4 268.9,430.2 269.4,430.3 269.9,430.8 270.4,431.7 270.9,430.0 271.4,431.0 271.9,430.1 272.4,430.9 272.9,430.5 273.4,435.1 273.9,433.8 274.4,431.2 274.9,430.9 275.4,432.0 275.9,432.7 276.4,430.4 276.9,432.0 277.4,430.6 277.9,427.3 278.4,431.6 278.9,432.1 279.4,431.4 279.9,430.4 280.4,429.6 280.9,430.9 281.4,431.9 281.9,432.0 282.4,431.8 282.9,431.1 283.4,431.8 283.9,430.7 284.4,431.5 284.9,431.4 285.4,431.6 285.9,430.0 286.4,429.9 286.9,430.1 287.4,429.5 287.9,429.8 288.4,429.8 288.9,429.8 289.4,428.2 289.9,428.6 290.4,428.8 290.9,429.8 291.4,428.6 291.9,426.9 292.4,427.0 292.9,426.6 293.4,425.5 293.9,426.8 294.4,425.1 294.9,424.2 295.4,422.9 295.9,421.0 296.4,422.0 296.9,419.1 297.4,416.8 297.9,413.2 298.4,410.1 298.9,403.1 299.4,395.9 299.9,385.4 300.4,371.3 300.9,348.0 301.4,314.7 301.9,269.6 302.4,210.5 302.9,154.4 303.4,138.3 303.9,170.8 304.4,230.2 304.9,287.9 305.4,329.8 305.9,358.0 306.4,377.4 306.9,391.5 307.4,399.4 307.9,405.3 308.4,408.9 308.9,414.1 309.4,416.3 309.9,419.2 310.4,419.9 310.9,420.9 311.4,422.1 311.9,424.4 312.4,425.5 312.9,426.1 313.4,425.9 313.9,427.8 314.4,426.0 314.9,426.7 315.4,425.0 315.9,427.8 316.4,428.0 316.9,427.3 317.4,428.6 317.9,428.2 318.4,428.7 318.9,427.9 319.4,427.4 319.9,431.1 320.4,429.0 320.9,429.6 321.4,430.3 321.9,428.3 322.4,429.5 322.9,428.4 323.4,427.6 323.9,427.7 324.4,425.9 324.9,421.7 325.4,419.8 325.9,416.2 326.4,420.3 326.9,422.2 327.4,424.4 327.9,427.0 328.4,430.1 328.9,428.9 329.4,430.4 329.9,430.5 330.4,432.0 330.9,429.2 331.4,430.2 331.9,430.9 332.4,428.7 332.9,430.4 333.4,430.7 333.9,431.0 334.4,430.5 334.9,430.1 335.4,429.6 335.9,428.2 336.4,429.9 336.9,429.2 337.4,428.6 337.9,428.3 338.4,427.3 338.9,427.1 339.4,423.9 339.9,422.7 340.4,418.7 340.9,416.6 341.4,420.2 341.9,421.9 342.4,424.4 342.9,427.0 343.4,428.9 343.9,427.7 344.4,428.6 344.9,429.9 345.4,428.2 345.9,430.6 346.4,431.0 346.9,430.2 347.4,430.6 347.9,431.1 348.4,431.0 348.9,430.6 349.4,430.4 349.9,430.7 350.4,431.0 350.9,431.8 351.4,431.4 351.9,430.6 352.4,431.7 352.9,431.2 353.4,431.3 353.9,431.0 354.4,431.8 354.9,431.3 355.4,432.0 355.9,429.8 356.4,430.7 356.9,431.4 357.4,430.9 357.9,430.4 358.4,429.5 358.9,430.2 359.4,431.7 359.9,430.6 360.4,428.6 360.9,430.7 361.4,431.9 361.9,431.7 362.4,429.1 362.9,430.4 363.4,432.6 363.9,431.4 364.4,431.8 364.9,430.9 365.4,430.9 365.9,430.9 366.4,429.1 366.9,431.5 367.4,430.3 367.9,430.8 368.4,430.8 368.9,429.3 369.4,428.4 369.9,430.0 370.4,429.2 370.9,428.7 371.4,427.5 371.9,427.5 372.4,427.3 372.9,427.1 373.4,424.9 373.9,423.9 374.4,423.2 374.9,421.2 375.4,415.0 375.9,412.2 376.4,401.5 376.9,388.2 377.4,367.8 377.9,343.4 378.4,327.5 378.9,335.2 379.4,360.4 379.9,381.0 380.4,398.9 380.9,407.8 381.4,415.9 381.9,419.1 382.4,421.6 382.9,423.1 383.4,423.7 383.9,425.2 384.4,427.2 384.9,427.7 385.4,428.4 385.9,429.2 386.4,429.1 386.9,428.2 387.4,429.9 387.9,429.0 388.4,429.3 388.9,429.5 389.4,429.4 389.9,427.1 390.4,429.9 390.9,427.2 391.4,431.2 391.9,430.2 392.4,430.5 392.9,428.6 393.4,430.4 393.9,431.2 394.4,429.5 394.9,430.8 395.4,430.0 395.9,430.0 396.4,430.1 396.9,429.9 397.4,431.1 397.9,431.5 398.4,430.7 398.9,431.9 399.4,429.8 399.9,430.4 400.4,429.8 400.9,431.3 401.4,431.7 401.9,429.6 402.4,430.2 402.9,431.2 403.4,431.2 403.9,432.3 404.4,430.3 404.9,430.7 405.4,430.2 405.9,432.3 406.4,431.6 406.9,429.0 407.4,429.3 407.9,429.7 408.4,430.8 408.9,428.6 409.4,426.5 409.9,427.1 410.4,425.6 410.9,422.4 411.4,420.2 411.9,417.3 412.4,415.8 412.9,417.6 413.4,420.0 413.9,422.3 414.4,425.3 414.9,428.2 415.4,428.3 415.9,429.8 416.4,429.4 416.9,430.0 417.4,430.2 417.9,430.6 418.4,431.4 418.9,431.0 419.4,431.4 419.9,432.5 420.4,431.6 420.9,430.2 421.4,432.1 421.9,430.8 422.4,431.6 422.9,430.8 423.4,431.1 423.9,431.5 424.4,432.4 424.9,432.1 425.4,431.8 425.9,430.0 426.4,430.2 426.9,432.4 427.4,431.4 427.9,432.5 428.4,431.7 428.9,430.4 429.4,430.8 429.9,430.0 430.4,432.7 430.9,432.1 431.4,432.2 431.9,428.1 432.4,431.6 432.9,430.6 433.4,431.2 433.9,431.6 434.4,434.3 434.9,429.6 435.4,431.5 435.9,429.5 436.4,431.4 436.9,431.9 437.4,430.9 437.9,431.3 438.4,431.2 438.9,429.5 439.4,432.5 439.9,430.2 440.4,430.2 440.9,430.5 441.4,431.5 441.9,430.7 442.4,428.9 442.9,429.0 443.4,424.4 443.9,425.9 444.4,422.9 444.9,420.8 445.4,421.9 445.9,426.0 446.4,425.9 446.9,427.4 447.4,429.0 447.9,428.5 448.4,432.4 448.9,429.1 449.4,430.6 449.9,430.3 450.4,430.8 450.9,430.6 451.4,431.7 451.9,431.9 452.4,432.5 452.9,431.7 453.4,432.6 453.9,432.1 454.4,431.3 454.9,432.0 455.4,432.5 455.9,432.6 456.4,432.3 456.9,432.3 457.4,431.2 457.9,433.3 458.4,430.4 458.9,431.9 459.4,432.3 459.9,432.1 460.4,432.5 460.9,432.9 461.4,432.0 461.9,430.8 462.4,432.0 462.9,431.2 463.4,433.2 463.9,431.4 464.4,430.1 464.9,430.9 465.4,431.2 465.9,430.7 466.4,430.5 466.9,430.2 467.4,429.0 467.9,432.0 468.4,426.9 468.9,427.9 469.4,427.6 469.9,429.6 470.4,426.4 470.9,424.6 471.4,422.1 471.9,422.1 472.4,418.5 472.9,412.4 473.4,405.5 473.9,394.9 474.4,377.3 474.9,356.4 475.4,340.0 475.9,340.1 476.4,357.1 476.9,379.9 477.4,394.6 477.9,405.3 478.4,413.2 478.9,419.0 479.4,422.4 479.9,424.6 480.4,425.9 480.9,425.7 481.4,427.8 481.9,428.2 482.4,429.1 482.9,429.6 483.4,430.1 483.9,431.6 484.4,429.9 484.9,430.4 485.4,430.7 485.9,430.9 486.4,430.7 486.9,431.9 487.4,431.2 487.9,430.0 488.4,430.8 488.9,430.9 489.4,433.1 489.9,433.9 490.4,432.5 490.9,431.8 491.4,432.6 491.9,433.6 492.4,432.0 492.9,431.8 493.4,431.5 493.9,432.2 494.4,431.3 494.9,432.7 495.4,433.2 495.9,430.6 496.4,432.0 496.9,431.6 497.4,433.7 497.9,433.6 498.4,432.6 498.9,432.3 499.4,432.3 499.9,433.2 500.4,432.4 500.9,433.0 501.4,432.9 501.9,432.3 502.4,432.0 502.9,431.9 503.4,433.6 503.9,431.3 504.4,433.2 504.9,432.6 505.4,433.4 505.9,433.0 506.4,431.6 506.9,433.7 507.4,433.0 507.9,433.0 508.4,432.7 508.9,432.4 509.4,433.4 509.9,433.3 510.4,433.3 510.9,435.9 511.4,433.0 511.9,433.3 512.4,433.2 512.9,433.6 513.4,433.8 513.9,433.7 514.4,433.7 514.9,433.4 515.4,436.3 515.9,433.6 516.4,431.6 516.9,433.6 517.4,432.4 517.9,430.7 518.4,431.8 518.9,432.2 519.4,432.8 519.9,431.1 520.4,432.6 520.9,431.7 521.4,434.6 521.9,432.3 522.4,432.0 522.9,433.6 523.4,434.7 523.9,431.9 524.4,431.3 524.9,432.9 525.4,432.7 525.9,433.1 526.4,431.0 526.9,432.2 527.4,430.8 527.9,431.9 528.4,431.0 528.9,428.7 529.4,427.3 529.9,428.2 530.4,426.4 530.9,424.3 531.4,421.6 531.9,416.8 532.4,408.8 532.9,400.4 533.4,390.2 533.9,384.6 534.4,387.2 534.9,397.8 535.4,405.8 535.9,412.8 536.4,418.9 536.9,421.7 537.4,426.8 537.9,428.3 538.4,428.0 538.9,429.1 539.4,430.6 539.9,430.2 540.4,431.0 540.9,432.4 541.4,431.3 541.9,431.7 542.4,432.0 542.9,432.0 543.4,433.5 543.9,431.8 544.4,432.5 544.9,431.7 545.4,432.5 545.9,432.5 546.4,433.3 546.9,433.7 547.4,432.7 547.9,433.6 548.4,432.7 548.9,433.1 549.4,434.6 549.9,432.8 550.4,432.5 550.9,433.7 551.4,433.9 551.9,431.3 552.4,433.6 552.9,431.7 553.4,434.1 553.9,433.7 554.4,433.6 554.9,434.5 555.4,431.3 555.9,433.9 556.4,434.5 556.9,434.2 557.4,434.0 557.9,433.1 558.4,432.4 L558.4,442.5 Z" fill="#2B00FF"/>
</g>
<path d="M9,7.75 H557.4" stroke="#000" stroke-width="1.4" fill="none"/>
<path d="M10,7 V444 M556.4,7 V444 M9,443 H557.4" stroke="#000" stroke-width="2" fill="none"/>
<path d="M10.4,443 V450.5 M101.4,443 V450.5 M192.4,443 V450.5 M283.4,443 V450.5 M374.4,443 V450.5 M465.4,443 V450.5 M556.4,443 V450.5 M55.9,443 V447.5 M146.9,443 V447.5 M237.9,443 V447.5 M328.9,443 V447.5 M419.9,443 V447.5 M510.9,443 V447.5" stroke="#000" stroke-width="2" fill="none"/>
<text x="12.8" y="470.3" font-size="21.8" text-anchor="middle">10</text>
<text x="103.8" y="470.3" font-size="21.8" text-anchor="middle">15</text>
<text x="194.8" y="470.3" font-size="21.8" text-anchor="middle">20</text>
<text x="285.8" y="470.3" font-size="21.8" text-anchor="middle">25</text>
<text x="376.8" y="470.3" font-size="21.8" text-anchor="middle">30</text>
<text x="467.8" y="470.3" font-size="21.8" text-anchor="middle">35</text>
<text x="558.8" y="470.3" font-size="21.8" text-anchor="middle">40</text>
<text x="241" y="493.1" font-size="26" textLength="108.5" lengthAdjust="spacingAndGlyphs">2 Theta (<tspan font-size="14.5" dy="-11">o</tspan><tspan dy="11">)</tspan></text>
<path fill-rule="evenodd" fill="#000" d="M103.00,242.80 L118.20,242.80 L110.30,258.60 Z M106.10,244.10 L111.06,254.80 L116.42,244.10 Z"/>
<path fill-rule="evenodd" fill="#000" d="M218.10,194.90 L233.30,194.90 L225.40,210.70 Z M221.20,196.20 L226.16,206.90 L231.52,196.20 Z"/>
<text x="559.5" y="323.7" font-size="14.6">Amb</text>
<text x="559.5" y="354.0" font-size="14.6">100</text>
<text x="559.5" y="378.5" font-size="14.6">200</text>
<text x="559.5" y="404.5" font-size="14.6">300</text>
<text x="559.5" y="417.0" font-size="14.6">350</text>
<text x="559.5" y="429.0" font-size="14.6">375</text>
<text x="559.5" y="445.0" font-size="14.6">400</text>
<g clip-path="url(#cr)">
<path d="M665.00,243.80 C670.83,243.83 687.50,244.03 700.00,244.00 C712.50,243.97 728.33,243.60 740.00,243.60 C751.67,243.60 761.67,244.07 770.00,244.00 C778.33,243.93 784.67,243.35 790.00,243.20 C795.33,243.05 799.17,243.25 802.00,243.10 C804.83,242.95 804.33,242.73 807.00,242.30 C809.67,241.87 815.33,241.07 818.00,240.50 C820.67,239.93 821.33,239.27 823.00,238.90 C824.67,238.53 824.33,239.45 828.00,238.30 C831.67,237.15 840.00,235.88 845.00,232.00 C850.00,228.12 854.50,223.67 858.00,215.00 C861.50,206.33 863.50,195.83 866.00,180.00 C868.50,164.17 871.00,135.83 873.00,120.00 C875.00,104.17 876.53,95.20 878.00,85.00 C879.47,74.80 880.95,64.67 881.80,58.80 C882.65,52.93 882.68,52.80 883.10,49.80 C883.52,46.80 883.85,43.78 884.30,40.80 C884.75,37.82 885.25,34.88 885.80,31.90 C886.35,28.92 887.12,25.05 887.60,22.90 C888.08,20.75 888.28,19.95 888.70,19.00 C889.12,18.05 889.63,17.20 890.10,17.20 C890.57,17.20 891.03,18.05 891.50,19.00 C891.97,19.95 892.38,20.75 892.90,22.90 C893.42,25.05 894.15,28.92 894.60,31.90 C895.05,34.88 895.28,37.82 895.60,40.80 C895.92,43.78 896.20,46.80 896.50,49.80 C896.80,52.80 896.88,54.32 897.40,58.80 C897.92,63.28 898.85,70.73 899.60,76.70 C900.35,82.67 901.22,89.78 901.90,94.60 C902.58,99.42 902.93,99.78 903.70,105.60 C904.47,111.42 905.55,121.45 906.50,129.50 C907.45,137.55 908.43,145.85 909.40,153.90 C910.37,161.95 911.33,170.95 912.30,177.80 C913.27,184.65 914.22,189.63 915.20,195.00 C916.18,200.37 917.20,205.83 918.20,210.00 C919.20,214.17 920.33,217.50 921.20,220.00 C922.07,222.50 922.53,223.33 923.40,225.00 C924.27,226.67 925.15,228.50 926.40,230.00 C927.65,231.50 928.92,232.83 930.90,234.00 C932.88,235.17 936.07,236.00 938.30,237.00 C940.53,238.00 942.05,239.17 944.30,240.00 C946.55,240.83 949.30,241.33 951.80,242.00 C954.30,242.67 955.82,243.42 959.30,244.00 C962.78,244.58 965.98,245.08 972.70,245.50 C979.42,245.92 994.38,246.32 999.60,246.50 C1004.82,246.68 1003.27,246.58 1004.00,246.60 L1004.00,249.60 L665.00,247.40 Z" fill="#FF9B00"/>
<path d="M665.00,291.30 C670.83,291.35 687.50,291.62 700.00,291.60 C712.50,291.58 728.33,291.20 740.00,291.20 C751.67,291.20 762.00,291.65 770.00,291.60 C778.00,291.55 783.00,291.37 788.00,290.90 C793.00,290.43 797.00,289.07 800.00,288.80 C803.00,288.53 803.50,289.88 806.00,289.30 C808.50,288.72 812.17,286.35 815.00,285.30 C817.83,284.25 818.83,284.72 823.00,283.00 C827.17,281.28 835.17,280.50 840.00,275.00 C844.83,269.50 848.67,262.50 852.00,250.00 C855.33,237.50 857.83,215.00 860.00,200.00 C862.17,185.00 863.62,172.50 865.00,160.00 C866.38,147.50 867.65,133.05 868.30,125.00 C868.95,116.95 868.48,117.90 868.90,111.70 C869.32,105.50 870.20,93.77 870.80,87.80 C871.40,81.83 871.82,79.88 872.50,75.90 C873.18,71.92 874.07,66.97 874.90,63.90 C875.73,60.83 876.70,58.90 877.50,57.50 C878.30,56.10 878.97,55.50 879.70,55.50 C880.43,55.50 881.10,56.10 881.90,57.50 C882.70,58.90 883.60,60.83 884.50,63.90 C885.40,66.97 886.50,71.92 887.30,75.90 C888.10,79.88 888.45,81.83 889.30,87.80 C890.15,93.77 891.42,103.72 892.40,111.70 C893.38,119.68 894.33,127.72 895.20,135.70 C896.07,143.68 897.02,152.58 897.60,159.60 C898.18,166.62 898.05,170.78 898.70,177.80 C899.35,184.82 900.52,193.73 901.50,201.70 C902.48,209.67 903.88,219.22 904.60,225.60 C905.32,231.98 905.30,235.93 905.80,240.00 C906.30,244.07 906.90,246.67 907.60,250.00 C908.30,253.33 909.12,256.67 910.00,260.00 C910.88,263.33 912.02,267.50 912.90,270.00 C913.78,272.50 914.20,273.33 915.30,275.00 C916.40,276.67 917.90,278.67 919.50,280.00 C921.10,281.33 923.00,282.17 924.90,283.00 C926.80,283.83 928.72,284.33 930.90,285.00 C933.08,285.67 935.42,286.33 938.00,287.00 C940.58,287.67 943.00,288.33 946.40,289.00 C949.80,289.67 953.02,290.42 958.40,291.00 C963.78,291.58 971.77,292.17 978.70,292.50 C985.63,292.83 995.78,292.88 1000.00,293.00 C1004.22,293.12 1003.33,293.17 1004.00,293.20 L1004.00,296.80 L665.00,294.30 Z" fill="#00FF50"/>
<path d="M665.00,334.30 C670.83,334.35 687.50,334.60 700.00,334.60 C712.50,334.60 728.33,334.30 740.00,334.30 C751.67,334.30 762.50,334.58 770.00,334.60 C777.50,334.62 781.18,334.75 785.00,334.40 C788.82,334.05 790.43,333.20 792.90,332.50 C795.37,331.80 797.32,331.08 799.80,330.20 C802.28,329.32 804.80,328.23 807.80,327.20 C810.80,326.17 814.10,325.53 817.80,324.00 C821.50,322.47 825.47,325.33 830.00,318.00 C834.53,310.67 841.23,303.37 845.00,280.00 C848.77,256.63 851.02,198.82 852.60,177.80 C854.18,156.78 854.00,160.87 854.50,153.90 C855.00,146.93 855.27,141.03 855.60,136.00 C855.93,130.97 856.07,127.75 856.50,123.70 C856.93,119.65 857.33,115.68 858.20,111.70 C859.07,107.72 860.85,102.48 861.70,99.80 C862.55,97.12 862.82,96.50 863.30,95.60 C863.78,94.70 864.17,94.40 864.60,94.40 C865.03,94.40 865.30,94.70 865.90,95.60 C866.50,96.50 867.22,97.12 868.20,99.80 C869.18,102.48 870.88,107.72 871.80,111.70 C872.72,115.68 873.18,119.70 873.70,123.70 C874.22,127.70 874.50,131.72 874.90,135.70 C875.30,139.68 875.78,144.57 876.10,147.60 C876.42,150.63 876.35,148.87 876.80,153.90 C877.25,158.93 877.93,169.83 878.80,177.80 C879.67,185.77 881.20,193.73 882.00,201.70 C882.80,209.67 883.02,219.22 883.60,225.60 C884.18,231.98 884.68,234.27 885.50,240.00 C886.32,245.73 887.50,253.33 888.50,260.00 C889.50,266.67 890.90,275.00 891.50,280.00 C892.10,285.00 891.78,286.67 892.10,290.00 C892.42,293.33 892.75,296.67 893.40,300.00 C894.05,303.33 895.15,307.50 896.00,310.00 C896.85,312.50 897.45,313.33 898.50,315.00 C899.55,316.67 900.72,318.33 902.30,320.00 C903.88,321.67 906.20,323.67 908.00,325.00 C909.80,326.33 911.20,327.17 913.10,328.00 C915.00,328.83 916.87,329.33 919.40,330.00 C921.93,330.67 924.70,331.33 928.30,332.00 C931.90,332.67 936.13,333.42 941.00,334.00 C945.87,334.58 950.52,335.08 957.50,335.50 C964.48,335.92 975.15,336.25 982.90,336.50 C990.65,336.75 1000.48,336.92 1004.00,337.00 L1004.00,340.30 L665.00,337.20 Z" fill="#00FFF0"/>
<path d="M665.00,380.20 C670.83,380.25 687.50,380.50 700.00,380.50 C712.50,380.50 728.33,380.18 740.00,380.20 C751.67,380.22 762.50,380.63 770.00,380.60 C777.50,380.57 781.33,381.43 785.00,380.00 C788.67,378.57 789.70,374.38 792.00,372.00 C794.30,369.62 796.67,367.70 798.80,365.70 C800.93,363.70 803.30,361.62 804.80,360.00 C806.30,358.38 806.63,357.67 807.80,356.00 C808.97,354.33 810.47,352.67 811.80,350.00 C813.13,347.33 814.68,343.33 815.80,340.00 C816.92,336.67 817.83,333.33 818.50,330.00 C819.17,326.67 819.15,325.00 819.80,320.00 C820.45,315.00 821.67,306.67 822.40,300.00 C823.13,293.33 823.53,286.67 824.20,280.00 C824.87,273.33 825.80,266.67 826.40,260.00 C827.00,253.33 827.30,245.73 827.80,240.00 C828.30,234.27 828.87,231.98 829.40,225.60 C829.93,219.22 830.33,209.67 831.00,201.70 C831.67,193.73 832.40,185.77 833.40,177.80 C834.40,169.83 836.03,159.37 837.00,153.90 C837.97,148.43 838.63,147.08 839.20,145.00 C839.77,142.92 840.08,142.10 840.40,141.40 C840.72,140.70 840.85,140.80 841.10,140.80 C841.35,140.80 841.55,140.70 841.90,141.40 C842.25,142.10 842.62,142.92 843.20,145.00 C843.78,147.08 844.43,148.43 845.40,153.90 C846.37,159.37 847.90,169.83 849.00,177.80 C850.10,185.77 851.08,193.73 852.00,201.70 C852.92,209.67 853.95,219.22 854.50,225.60 C855.05,231.98 854.77,234.27 855.30,240.00 C855.83,245.73 856.92,253.33 857.70,260.00 C858.48,266.67 859.28,273.33 860.00,280.00 C860.72,286.67 861.23,293.33 862.00,300.00 C862.77,306.67 863.88,315.00 864.60,320.00 C865.32,325.00 865.75,326.67 866.30,330.00 C866.85,333.33 867.25,336.67 867.90,340.00 C868.55,343.33 869.37,347.00 870.20,350.00 C871.03,353.00 871.85,355.83 872.90,358.00 C873.95,360.17 874.70,361.33 876.50,363.00 C878.30,364.67 881.32,366.33 883.70,368.00 C886.08,369.67 888.12,371.33 890.80,373.00 C893.48,374.67 896.22,376.83 899.80,378.00 C903.38,379.17 906.93,379.50 912.30,380.00 C917.67,380.50 923.63,380.67 932.00,381.00 C940.37,381.33 950.50,381.73 962.50,382.00 C974.50,382.27 997.08,382.50 1004.00,382.60 L1004.00,386.00 L665.00,383.60 Z" fill="#00BAFF"/>
<path d="M665.00,417.20 C667.50,417.18 675.67,417.33 680.00,417.10 C684.33,416.87 687.35,416.25 691.00,415.80 C694.65,415.35 698.62,414.92 701.90,414.40 C705.18,413.88 708.13,413.43 710.70,412.70 C713.27,411.97 714.75,411.08 717.30,410.00 C719.85,408.92 723.27,407.57 726.00,406.20 C728.73,404.83 731.50,403.63 733.70,401.80 C735.90,399.97 737.55,397.58 739.20,395.20 C740.85,392.82 742.42,389.87 743.60,387.50 C744.78,385.13 745.33,383.92 746.30,381.00 C747.27,378.08 748.22,375.17 749.40,370.00 C750.58,364.83 752.23,356.67 753.40,350.00 C754.57,343.33 755.55,337.50 756.40,330.00 C757.25,322.50 757.85,313.33 758.50,305.00 C759.15,296.67 759.72,289.17 760.30,280.00 C760.88,270.83 761.35,259.17 762.00,250.00 C762.65,240.83 763.38,233.33 764.20,225.00 C765.02,216.67 766.17,206.08 766.90,200.00 C767.63,193.92 768.05,191.12 768.60,188.50 C769.15,185.88 769.72,185.22 770.20,184.30 C770.68,183.38 771.05,183.00 771.50,183.00 C771.95,183.00 772.38,183.38 772.90,184.30 C773.42,185.22 773.93,185.88 774.60,188.50 C775.27,191.12 775.90,193.92 776.90,200.00 C777.90,206.08 779.50,216.67 780.60,225.00 C781.70,233.33 782.60,240.83 783.50,250.00 C784.40,259.17 785.20,270.83 786.00,280.00 C786.80,289.17 787.20,296.67 788.30,305.00 C789.40,313.33 791.65,322.50 792.60,330.00 C793.55,337.50 793.17,343.33 794.00,350.00 C794.83,356.67 796.47,364.30 797.60,370.00 C798.73,375.70 799.82,380.55 800.80,384.20 C801.78,387.85 802.22,389.52 803.50,391.90 C804.78,394.28 806.75,396.48 808.50,398.50 C810.25,400.52 811.45,402.18 814.00,404.00 C816.55,405.82 820.33,407.77 823.80,409.40 C827.27,411.03 831.15,412.62 834.80,413.80 C838.45,414.98 841.15,415.77 845.70,416.50 C850.25,417.23 856.62,417.72 862.10,418.20 C867.58,418.68 872.28,419.18 878.60,419.40 C884.92,419.62 891.43,419.33 900.00,419.50 C908.57,419.67 920.00,420.33 930.00,420.40 C940.00,420.47 947.67,419.97 960.00,419.90 C972.33,419.83 996.67,419.98 1004.00,420.00 L1004.00,422.90 L665.00,419.70 Z" fill="#2B00FF"/>
</g>
<rect x="666" y="6" width="337.6" height="434.9" fill="none" stroke="#000" stroke-width="2"/>
<path d="M666.0,440.6 V449 M750.4,440.6 V449 M834.8,440.6 V449 M919.2,440.6 V449 M1003.6,440.6 V449 M708.2,440.6 V446 M792.6,440.6 V446 M877.0,440.6 V446 M961.4,440.6 V446" stroke="#000" stroke-width="2" fill="none"/>
<text x="666.2" y="467.3" font-size="17.2" text-anchor="middle">25.6</text>
<text x="750.6" y="467.3" font-size="17.2" text-anchor="middle">26.0</text>
<text x="835.0" y="467.3" font-size="17.2" text-anchor="middle">26.4</text>
<text x="919.4" y="467.3" font-size="17.2" text-anchor="middle">26.8</text>
<text x="1003.8" y="467.3" font-size="17.2" text-anchor="middle">27.2</text>
<text x="787.2" y="492.6" font-size="22.8" textLength="95.5" lengthAdjust="spacingAndGlyphs">2 Theta (<tspan font-size="12.8" dy="-9.7">o</tspan><tspan dy="9.7">)</tspan></text>
<text transform="translate(644.5,288.8) rotate(-90)" font-size="22.8" textLength="131.8" lengthAdjust="spacingAndGlyphs">Intensity (a.u.)</text>
<text x="1000.5" y="240.3" font-size="15.8" text-anchor="end">Amb</text>
<text x="1000.5" y="288.9" font-size="15.8" text-anchor="end">100</text>
<text x="1000.5" y="333.0" font-size="15.8" text-anchor="end">200</text>
<text x="1000.5" y="379.9" font-size="15.8" text-anchor="end">300</text>
<text x="1000.5" y="418.1" font-size="15.8" text-anchor="end">400</text>
</svg>
</body></html>
